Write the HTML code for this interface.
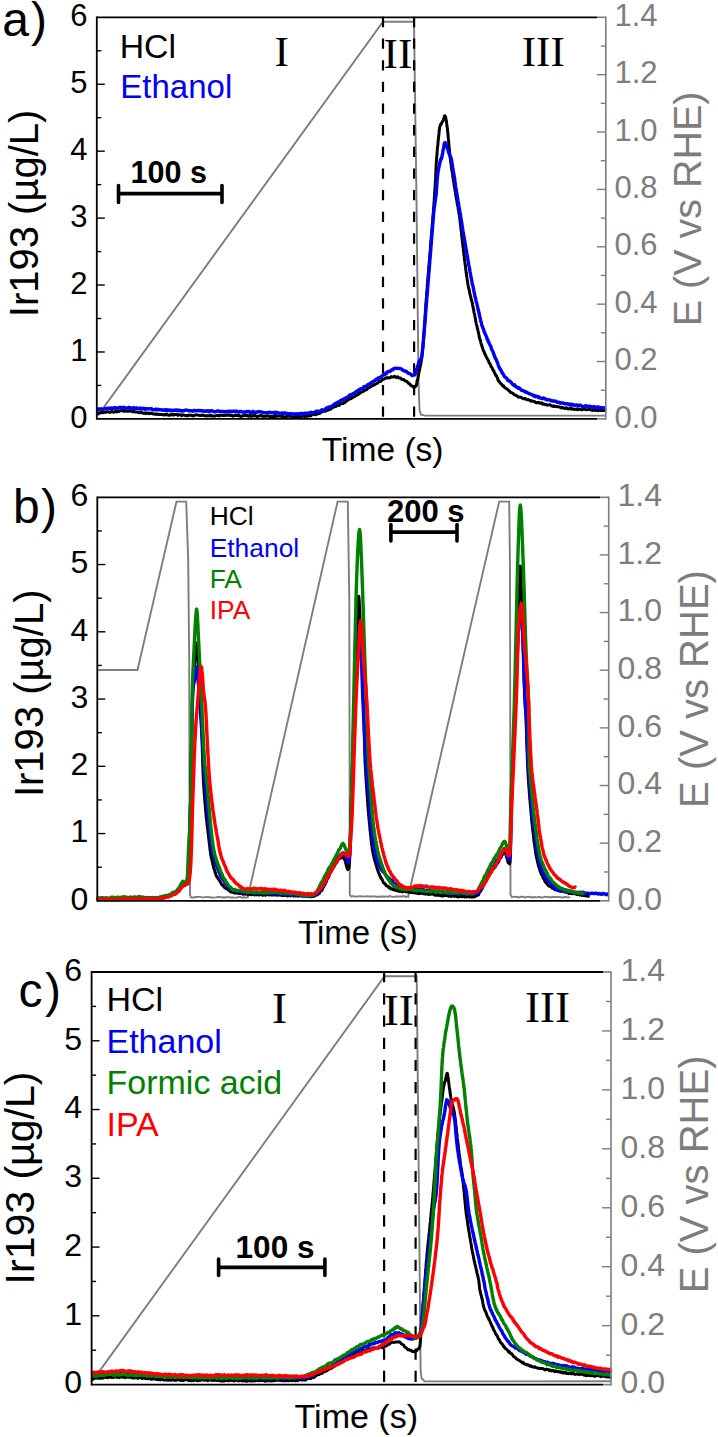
<!DOCTYPE html>
<html><head><meta charset="utf-8"><title>Ir dissolution</title>
<style>html,body{margin:0;padding:0;background:#fff;} svg{display:block;}</style>
</head><body>
<svg width="718" height="1437" viewBox="0 0 718 1437">
<rect width="718" height="1437" fill="#fff"/>
<polyline points="97.8,415.6 383.0,21.7 414.0,21.7 416.5,200.0 418.5,380.0 419.5,410.0 421.0,414.8 425.0,415.6 606.0,415.6" fill="none" stroke="#7d7d7d" stroke-width="1.9" stroke-linejoin="miter" />
<line x1="383" y1="16.85" x2="383" y2="418.9" stroke="#000" stroke-width="2.2" stroke-dasharray="10.3 11.35"/>
<line x1="414.1" y1="16.85" x2="414.1" y2="418.9" stroke="#000" stroke-width="2.2" stroke-dasharray="10.3 11.35"/>
<polyline points="97.0,413.2 97.6,412.9 98.3,413.4 99.1,412.7 100.0,413.1 101.0,412.8 102.0,412.3 103.1,412.7 104.3,412.0 105.4,412.4 106.6,411.8 107.8,411.7 108.9,412.0 110.0,412.4 110.9,411.5 111.9,411.5 112.9,411.9 113.9,412.2 114.9,411.6 115.9,411.3 116.9,411.9 117.9,410.7 118.9,411.6 119.9,410.9 120.9,410.7 122.0,410.6 123.0,410.8 124.0,411.4 125.0,410.6 126.0,411.1 126.9,411.2 127.9,411.0 128.8,411.3 129.7,410.8 130.6,410.9 131.5,411.2 132.4,411.8 133.4,411.7 134.3,411.6 135.4,412.1 136.4,412.1 137.5,412.0 138.7,412.7 140.0,412.7 140.8,412.3 141.6,412.7 142.5,412.8 143.3,413.3 144.2,413.2 145.1,412.7 146.0,413.7 146.9,412.7 147.8,413.2 148.8,413.7 149.7,413.0 150.7,413.5 151.7,413.1 152.7,413.9 153.7,414.1 154.8,414.0 155.9,414.4 156.9,413.8 158.1,414.4 159.2,414.3 160.4,414.4 161.6,414.3 162.8,414.8 164.0,415.0 164.8,414.5 165.7,414.8 166.5,414.1 167.3,414.9 168.2,414.9 169.0,415.3 169.9,415.2 170.7,414.5 171.6,414.7 172.5,415.1 173.3,414.3 174.2,414.9 175.1,414.6 176.0,414.5 176.9,414.5 177.9,415.4 178.8,414.6 179.8,414.8 180.7,415.0 181.7,415.6 182.7,414.7 183.7,415.1 184.7,415.3 185.8,415.7 186.8,415.6 187.9,415.7 189.0,415.0 190.2,415.2 191.3,415.2 192.5,415.8 193.7,415.9 194.9,415.0 196.1,415.0 197.4,415.1 198.7,415.2 200.0,415.5 200.8,415.6 201.6,415.2 202.5,414.9 203.4,415.5 204.3,415.4 205.2,415.6 206.1,416.1 207.0,415.8 208.0,415.6 209.0,415.8 209.9,415.8 210.9,415.1 212.0,416.1 213.0,416.0 214.0,416.1 215.1,416.0 216.1,415.5 217.2,415.6 218.3,415.2 219.3,415.9 220.4,415.2 221.5,415.2 222.6,415.4 223.7,415.3 224.8,415.6 225.9,415.2 227.0,415.2 228.1,415.3 229.3,415.3 230.4,415.6 231.5,415.2 232.6,416.2 233.7,415.9 234.8,415.4 235.9,415.5 237.0,415.6 238.1,415.7 239.2,415.4 240.3,416.3 241.3,416.4 242.4,415.8 243.4,415.8 244.5,415.4 245.5,415.4 246.5,415.7 247.6,415.6 248.6,416.3 249.5,415.5 250.5,415.3 251.5,416.5 252.4,416.0 253.3,415.5 254.2,416.0 255.1,415.4 256.0,416.0 256.8,416.5 257.6,416.4 258.5,416.2 259.2,415.7 260.0,415.8 261.5,415.6 262.9,416.4 264.3,416.1 265.6,416.4 266.9,415.9 268.1,415.8 269.3,416.5 270.4,416.8 271.5,416.6 272.6,416.6 273.6,416.6 274.6,416.6 275.6,416.0 276.6,416.3 277.5,416.2 278.4,415.8 279.3,415.8 280.2,416.1 281.0,416.1 281.9,416.7 282.7,417.0 283.5,416.4 284.3,417.0 285.1,417.1 285.9,417.0 286.7,416.3 287.5,416.2 288.4,416.2 289.2,416.1 290.0,416.1 291.2,416.6 292.4,417.0 293.6,416.9 294.7,416.4 295.8,416.6 296.9,416.8 297.9,415.9 298.9,416.6 299.9,416.9 300.9,416.7 301.8,416.6 302.8,416.2 303.7,415.8 304.6,416.5 305.5,415.9 306.4,416.3 307.3,416.4 308.2,415.6 309.1,415.5 310.0,416.0 311.1,415.6 312.2,414.7 313.3,414.4 314.3,414.1 315.4,414.8 316.4,414.3 317.4,413.2 318.4,413.7 319.4,413.5 320.3,412.8 321.3,412.1 322.2,412.0 323.2,411.1 324.1,410.6 325.1,411.4 326.0,410.7 327.0,410.2 328.0,410.3 329.0,409.3 330.0,409.4 331.0,408.9 332.0,407.8 332.9,407.4 333.9,407.1 334.8,406.6 335.7,406.6 336.6,405.8 337.5,405.6 338.4,404.8 339.2,405.4 340.0,404.3 341.0,403.9 342.0,403.6 342.9,403.5 343.7,402.5 344.6,402.7 345.4,401.7 346.2,401.3 347.0,400.8 347.8,399.7 348.7,399.7 349.7,398.8 350.5,398.1 351.3,398.6 352.2,397.4 353.1,397.2 353.9,397.0 354.8,396.3 355.7,395.5 356.7,395.2 357.6,394.7 358.5,394.4 359.4,393.1 360.3,393.1 361.1,392.2 362.0,391.7 362.9,391.8 363.8,390.9 364.7,390.4 365.6,390.1 366.5,389.7 367.4,388.6 368.3,388.2 369.2,387.6 370.1,387.0 370.9,386.7 371.8,385.9 372.6,385.5 373.4,385.0 374.4,384.9 375.5,384.0 376.5,383.7 377.5,383.2 378.4,381.8 379.4,381.7 380.3,381.6 381.2,381.0 382.0,379.8 382.8,379.3 384.0,379.2 385.1,378.3 386.1,378.1 387.1,377.5 388.0,378.0 389.0,377.8 390.2,377.7 391.3,376.6 392.5,377.1 393.6,376.9 394.7,376.3 395.8,377.2 396.8,377.5 397.8,376.8 398.8,378.1 400.0,377.9 400.8,378.3 401.6,379.4 402.5,379.6 403.4,379.3 404.3,380.2 405.2,380.9 406.1,381.2 407.0,381.6 407.9,382.4 408.8,383.7 409.7,383.7 410.6,385.2 411.4,385.8 412.2,386.0 413.0,386.8 413.6,387.4 414.6,387.3 415.3,386.2 415.9,386.2 416.5,384.3 416.7,383.9 416.9,382.1 417.1,381.4 417.3,380.2 417.5,380.1 417.8,378.5 418.0,377.2 418.2,376.5 418.4,375.9 418.6,374.7 418.8,372.8 419.0,371.6 419.2,371.6 419.4,370.4 419.6,369.7 419.8,368.1 419.9,367.2 420.1,367.2 420.3,366.0 420.5,364.7 420.7,364.8 420.9,363.4 421.1,362.5 421.3,360.5 421.5,360.2 421.7,357.9 421.9,357.4 422.0,356.2 422.1,355.2 422.2,354.7 422.3,354.2 422.4,352.6 422.5,351.5 422.5,351.0 422.6,349.7 422.7,348.5 422.8,347.6 422.9,346.4 423.0,345.6 423.1,344.7 423.2,343.6 423.3,343.1 423.4,341.4 423.5,340.6 423.5,339.1 423.6,338.2 423.7,336.8 423.8,336.0 423.9,334.6 424.0,334.4 424.0,333.1 424.1,331.6 424.2,330.9 424.3,330.5 424.4,328.5 424.4,328.3 424.5,326.9 424.6,326.0 424.6,325.4 424.7,323.9 424.8,323.2 424.8,322.5 424.9,322.0 424.9,320.5 425.0,320.3 425.0,319.3 425.1,318.5 425.1,317.4 425.1,316.5 425.2,315.4 425.2,314.6 425.3,313.7 425.3,313.6 425.4,312.1 425.4,311.1 425.5,310.0 425.5,309.8 425.6,308.7 425.7,307.3 425.8,305.6 425.9,304.2 426.0,302.9 426.1,301.6 426.2,299.6 426.3,299.2 426.3,298.2 426.4,298.3 426.4,297.5 426.5,296.1 426.6,294.9 426.6,294.9 426.7,293.2 426.8,292.4 426.8,291.0 426.9,290.5 427.0,289.7 427.1,288.7 427.2,287.3 427.2,286.7 427.3,285.1 427.4,284.3 427.5,283.0 427.6,282.4 427.7,280.8 427.8,279.7 427.8,279.0 427.9,277.8 428.0,277.1 428.1,275.9 428.2,275.0 428.3,273.8 428.4,272.7 428.5,271.8 428.6,270.1 428.7,268.9 428.8,268.5 428.8,266.4 428.9,265.9 429.0,264.7 429.1,262.8 429.2,262.7 429.3,261.6 429.4,260.2 429.5,259.2 429.6,258.2 429.7,256.3 429.8,255.7 429.8,254.6 429.9,253.9 430.0,252.8 430.1,251.8 430.2,250.5 430.3,249.9 430.4,248.6 430.4,247.6 430.5,246.1 430.6,244.9 430.7,244.1 430.7,243.5 430.8,242.3 430.9,242.3 430.9,241.2 431.0,240.4 431.1,239.7 431.1,239.0 431.2,238.0 431.3,235.8 431.4,235.3 431.6,233.9 431.7,232.2 431.8,231.0 431.9,230.0 432.0,228.1 432.1,227.9 432.1,226.3 432.2,225.1 432.3,224.4 432.4,224.0 432.5,222.5 432.5,222.3 432.6,221.7 432.7,220.3 432.7,219.4 432.8,218.7 432.9,218.2 432.9,217.5 433.0,216.5 433.1,215.7 433.1,214.2 433.2,213.4 433.3,212.6 433.4,212.3 433.4,210.8 433.5,210.1 433.6,208.4 433.6,207.5 433.7,206.8 433.8,206.2 433.9,205.2 433.9,204.2 434.0,202.7 434.1,201.9 434.2,200.8 434.2,199.7 434.3,198.3 434.4,198.1 434.4,196.2 434.5,196.1 434.6,195.0 434.7,192.9 434.7,192.4 434.8,191.8 434.9,190.9 434.9,189.3 435.0,188.1 435.0,187.0 435.1,186.9 435.2,185.0 435.2,184.5 435.3,183.1 435.3,182.6 435.4,182.3 435.4,180.4 435.5,180.4 435.6,178.8 435.6,178.1 435.7,176.8 435.7,175.2 435.8,175.0 435.8,173.6 435.9,172.1 435.9,171.2 435.9,170.9 435.9,169.9 436.0,168.9 436.0,167.8 436.1,167.1 436.1,166.2 436.1,165.9 436.2,163.9 436.3,163.7 436.3,162.8 436.4,160.8 436.5,160.5 436.6,159.4 436.6,158.7 436.7,157.1 436.8,156.2 436.9,155.2 437.0,154.9 437.1,153.3 437.1,151.9 437.2,150.9 437.3,149.6 437.4,148.2 437.5,147.1 437.6,146.9 437.8,145.1 437.9,144.7 438.0,142.7 438.1,141.6 438.2,140.8 438.3,139.3 438.4,138.5 438.5,138.2 438.6,137.1 438.7,136.0 438.8,134.9 438.9,134.3 439.0,133.5 439.1,132.2 439.1,131.7 439.2,130.2 439.3,130.4 439.6,127.6 439.9,126.6 440.2,125.7 440.5,124.8 440.7,124.2 441.0,124.7 441.7,122.6 442.3,122.1 443.0,120.8 443.4,119.7 443.7,118.8 444.1,117.8 444.4,115.9 444.8,116.1 445.1,115.9 445.4,116.9 445.7,117.7 446.0,118.6 446.2,120.0 446.5,121.6 446.6,123.2 446.7,123.5 446.8,123.9 446.9,125.6 447.0,126.5 447.1,126.8 447.3,127.4 447.4,128.4 447.5,129.4 447.6,130.8 447.7,131.8 447.9,133.3 448.0,134.7 448.1,135.9 448.2,137.0 448.2,137.7 448.3,138.1 448.4,139.0 448.5,140.0 448.6,140.7 448.6,141.6 448.7,142.2 448.8,143.5 448.9,145.3 449.0,145.3 449.1,146.7 449.2,147.9 449.3,149.3 449.4,149.5 449.5,150.7 449.6,151.7 449.7,153.0 449.8,154.2 449.9,155.9 450.1,157.0 450.2,158.1 450.4,158.3 450.5,159.4 450.6,161.1 450.7,162.3 450.9,162.7 451.0,163.8 451.1,164.1 451.3,165.6 451.4,167.2 451.6,168.1 451.7,169.2 451.9,170.4 452.0,170.6 452.2,171.5 452.3,172.6 452.5,174.1 452.7,175.4 452.8,176.8 453.0,177.6 453.2,178.6 453.3,179.8 453.5,180.5 453.7,181.7 453.8,182.2 454.0,184.1 454.1,184.5 454.3,186.3 454.5,187.0 454.6,187.6 454.8,188.4 454.9,189.5 455.1,190.9 455.2,191.9 455.4,192.1 455.5,192.9 455.7,194.6 455.9,195.9 456.1,196.7 456.3,197.6 456.4,199.1 456.6,199.4 456.8,200.7 457.0,201.8 457.1,203.3 457.3,203.9 457.5,205.1 457.7,205.5 457.8,206.1 458.0,207.0 458.2,208.8 458.3,209.4 458.5,209.9 458.7,210.6 458.8,212.2 459.0,213.5 459.2,214.3 459.3,215.2 459.5,216.9 459.6,218.1 459.7,218.1 459.9,218.8 460.0,220.1 460.1,221.1 460.2,222.4 460.3,222.7 460.4,224.4 460.6,225.3 460.7,226.1 460.8,226.7 460.9,228.6 461.0,228.9 461.1,230.5 461.3,230.8 461.4,231.9 461.5,233.6 461.6,234.0 461.7,235.9 461.8,236.4 461.9,237.1 462.1,238.2 462.2,239.5 462.3,240.8 462.4,242.2 462.5,242.3 462.7,243.7 462.8,244.5 462.9,246.5 463.0,246.5 463.2,247.4 463.3,248.5 463.4,249.9 463.5,251.5 463.7,252.5 463.8,253.4 463.9,254.7 464.0,255.7 464.2,256.0 464.3,256.9 464.4,258.9 464.5,259.7 464.7,259.9 464.8,261.7 464.9,262.5 465.1,263.5 465.2,264.5 465.3,265.4 465.5,266.3 465.6,267.6 465.7,268.8 465.9,270.6 466.0,270.6 466.1,272.6 466.3,272.7 466.4,273.9 466.5,275.5 466.7,276.5 466.8,277.0 467.0,277.5 467.1,278.9 467.2,279.7 467.4,281.3 467.5,281.3 467.7,282.4 467.8,283.9 468.0,284.1 468.2,285.7 468.5,287.4 468.7,288.5 468.9,288.7 469.1,289.7 469.4,290.8 469.6,292.8 469.8,293.0 470.1,294.6 470.3,295.7 470.5,296.0 470.8,296.9 471.0,298.6 471.2,299.1 471.5,299.6 471.7,301.1 471.9,301.6 472.1,302.5 472.4,303.1 472.6,305.0 472.8,306.2 473.0,306.9 473.2,308.3 473.4,308.2 473.6,309.4 473.8,310.7 474.0,312.3 474.2,313.3 474.4,313.7 474.6,314.5 474.8,315.8 475.0,316.8 475.2,318.4 475.4,318.5 475.6,320.3 475.8,321.2 476.0,322.3 476.2,323.3 476.4,324.1 476.6,324.8 476.8,325.8 477.1,326.8 477.3,328.3 477.5,328.5 477.8,329.6 478.0,331.2 478.2,331.6 478.4,332.3 478.6,333.3 478.9,334.9 479.1,335.5 479.3,337.3 479.6,338.2 479.8,339.3 480.1,339.4 480.3,340.1 480.6,341.1 480.8,342.5 481.1,343.8 481.4,344.4 481.7,345.1 482.0,346.3 482.3,347.5 482.7,348.6 483.0,349.6 483.4,350.7 483.8,351.4 484.2,351.7 484.6,353.6 485.0,353.9 485.5,355.2 486.0,356.0 486.4,357.4 486.9,357.8 487.4,358.9 487.9,359.9 488.5,360.7 489.0,362.6 489.5,363.2 490.0,363.9 490.5,364.9 491.0,366.6 491.5,366.9 492.0,367.5 492.5,369.1 493.0,369.7 493.4,370.9 493.8,370.7 494.2,371.9 494.6,373.0 495.3,374.3 495.9,375.6 496.4,375.6 496.8,376.9 497.2,377.5 497.6,378.4 498.0,380.2 498.5,380.5 499.0,381.7 499.5,381.8 500.2,383.2 501.0,383.6 501.6,384.1 502.2,385.3 502.9,386.2 503.6,385.9 504.4,387.2 505.1,387.9 505.9,388.1 506.8,389.0 507.6,389.4 508.4,390.2 509.3,390.9 510.2,392.0 511.0,392.7 511.9,392.8 512.8,393.1 513.6,394.1 514.5,395.0 515.3,394.9 516.2,395.6 517.2,395.9 518.1,397.1 519.1,397.2 520.0,396.9 521.0,397.3 521.9,398.0 522.9,398.5 523.8,398.9 524.8,398.5 525.8,398.9 526.7,399.8 527.7,399.7 528.7,399.8 529.6,400.1 530.6,401.1 531.6,400.7 532.6,401.3 533.7,401.3 534.7,401.7 535.7,402.5 536.8,402.9 537.8,402.4 538.8,402.5 539.8,403.3 540.9,403.0 541.9,403.0 542.9,404.3 544.0,403.9 545.0,404.7 546.0,404.4 547.0,405.2 548.0,404.9 549.1,404.8 550.1,404.8 551.1,405.7 552.1,406.0 553.1,406.5 554.2,405.8 555.2,406.6 556.2,406.5 557.2,406.8 558.2,406.6 559.3,406.9 560.3,407.4 561.3,408.0 562.3,407.2 563.2,407.8 564.1,408.3 565.0,408.6 565.9,407.8 566.7,407.8 567.6,408.9 568.5,409.0 569.5,408.5 570.5,408.1 571.5,409.2 572.6,408.7 573.9,409.4 575.2,409.1 576.6,409.5 577.4,408.7 578.3,409.6 579.2,408.9 580.2,409.2 581.2,409.8 582.3,409.8 583.4,409.1 584.5,409.2 585.7,409.5 586.8,409.7 588.0,409.6 589.2,409.4 590.4,409.6 591.7,410.2 592.9,410.5 594.0,409.5 595.2,410.2 596.4,410.5 597.5,409.6 598.6,410.7 599.6,409.8 600.6,410.5 601.6,410.4 602.5,410.6 603.3,410.2 604.1,410.4 604.8,410.6 605.5,410.5 606.0,410.8" fill="none" stroke="#000" stroke-width="3.0" stroke-linejoin="round" />
<polyline points="97.0,409.3 97.6,409.3 98.3,408.7 99.1,409.4 100.0,409.2 101.0,408.8 102.0,409.4 103.1,409.3 104.3,408.8 105.4,408.4 106.6,408.7 107.8,408.2 108.9,408.1 110.0,408.4 110.9,407.9 111.9,408.3 112.9,408.3 113.9,407.7 114.9,408.3 115.9,407.6 116.9,408.3 117.9,408.2 118.9,407.8 119.9,407.2 120.9,407.7 122.0,407.5 123.0,408.2 124.0,407.2 125.0,408.0 126.0,408.2 126.9,407.9 127.9,408.0 128.8,407.3 129.7,408.3 130.6,407.8 131.5,408.4 132.4,408.4 133.4,407.6 134.3,408.4 135.4,408.7 136.4,407.7 137.5,408.2 138.7,408.7 140.0,408.1 140.8,409.0 141.6,408.3 142.5,409.0 143.3,408.3 144.2,408.8 145.1,409.3 146.0,408.5 146.9,408.7 147.8,409.0 148.8,408.8 149.7,408.6 150.7,408.8 151.7,408.8 152.7,409.8 153.7,409.6 154.8,409.9 155.9,409.1 156.9,409.9 158.1,409.2 159.2,409.7 160.4,409.9 161.6,409.6 162.8,410.3 164.0,410.0 164.8,410.0 165.7,410.4 166.5,409.5 167.3,410.6 168.2,410.2 169.0,410.0 169.9,410.5 170.7,409.9 171.6,410.8 172.5,410.3 173.3,410.1 174.2,410.6 175.1,410.2 176.0,410.0 176.9,410.7 177.9,409.9 178.8,410.8 179.8,410.2 180.7,410.7 181.7,411.1 182.7,410.7 183.7,410.8 184.7,410.4 185.8,410.0 186.8,410.1 187.9,410.3 189.0,410.9 190.2,410.7 191.3,410.8 192.5,411.3 193.7,410.4 194.9,410.5 196.1,411.1 197.4,410.4 198.7,410.4 200.0,410.8 200.8,410.5 201.6,410.9 202.5,410.7 203.4,411.2 204.3,411.2 205.2,410.8 206.1,411.3 207.1,411.1 208.1,410.7 209.1,411.7 210.1,410.9 211.1,410.8 212.1,410.8 213.2,411.4 214.2,411.7 215.3,411.7 216.4,411.2 217.5,411.1 218.6,410.8 219.7,411.6 220.8,411.5 221.9,411.3 223.1,411.6 224.2,411.4 225.3,412.0 226.5,411.8 227.6,411.3 228.7,412.1 229.9,411.1 231.0,411.7 232.1,411.5 233.3,411.3 234.4,411.2 235.5,412.0 236.6,411.1 237.7,411.8 238.8,412.3 239.9,411.4 241.0,411.4 242.1,412.0 243.1,411.9 244.2,412.0 245.2,412.3 246.2,411.5 247.2,411.7 248.2,411.7 249.2,411.4 250.2,412.5 251.1,412.3 252.0,412.3 252.9,411.4 253.8,412.5 254.7,412.4 255.5,412.1 256.3,412.4 257.1,412.1 257.9,411.8 258.6,411.7 259.3,411.9 260.0,411.6 261.9,412.1 263.6,412.6 265.1,412.6 266.5,412.8 267.8,412.7 268.9,412.2 269.9,412.6 270.8,412.5 271.6,412.9 272.4,412.6 273.1,412.4 273.8,412.9 274.4,413.3 275.1,412.4 275.8,413.3 276.5,412.3 277.3,412.6 278.1,412.6 279.0,413.3 280.0,413.5 281.0,413.3 282.0,412.9 283.0,413.6 284.0,413.0 285.1,412.9 286.2,413.8 287.3,413.5 288.3,413.7 289.4,413.7 290.5,414.1 291.6,413.6 292.7,414.1 293.7,414.0 294.8,414.2 295.8,413.7 296.8,414.1 297.8,414.0 298.8,413.7 299.7,413.6 300.6,414.1 301.5,413.4 302.3,414.4 303.7,413.4 305.0,413.2 306.2,413.2 307.3,414.0 308.4,413.2 309.4,412.8 310.3,412.5 311.2,412.3 312.2,412.9 313.1,412.6 314.0,412.5 315.0,412.3 316.1,411.2 317.1,411.6 318.1,411.1 319.1,411.4 320.1,411.1 321.0,410.9 322.0,409.7 323.0,410.3 324.0,410.0 325.0,409.6 326.0,408.2 326.9,408.0 327.8,407.4 328.7,406.9 329.6,407.4 330.6,406.9 331.5,406.2 332.4,406.0 333.4,405.2 334.3,404.3 335.2,403.6 336.2,403.0 337.1,403.3 338.0,402.1 338.9,401.8 339.8,401.4 340.7,400.4 341.6,400.1 342.5,399.6 343.4,399.6 344.3,398.7 345.2,398.1 346.1,398.3 347.0,397.2 347.9,397.1 348.8,396.3 349.7,395.0 350.6,395.0 351.4,394.5 352.3,394.4 353.2,393.4 354.1,393.3 355.0,392.6 355.9,391.7 356.8,392.0 357.6,390.6 358.5,390.9 359.4,389.6 360.3,388.9 361.1,388.7 362.0,388.8 362.9,388.5 363.8,386.8 364.7,386.8 365.6,386.3 366.5,386.1 367.4,384.8 368.3,384.6 369.2,383.9 370.1,383.9 370.9,382.7 371.8,383.0 372.6,381.6 373.4,381.1 374.3,381.1 375.3,380.2 376.2,379.2 377.1,379.3 377.9,378.1 378.8,378.4 379.6,377.7 380.4,377.3 381.3,376.6 382.0,375.8 382.8,375.4 383.8,374.7 384.8,374.7 385.7,373.1 386.6,373.5 387.4,371.9 388.3,371.6 389.1,371.2 390.0,371.5 391.0,370.4 392.0,369.7 393.0,369.8 393.9,368.5 394.9,368.3 395.9,368.1 397.0,368.3 397.9,368.4 398.9,368.5 399.9,368.4 400.9,368.8 401.9,369.1 402.9,370.4 404.0,370.7 405.0,371.3 406.0,371.1 407.0,372.0 408.0,373.1 409.1,373.5 410.1,373.7 411.1,374.6 412.1,375.6 412.9,375.1 413.6,375.1 414.4,375.0 415.0,374.7 415.4,373.9 415.8,372.0 416.1,370.8 416.5,369.7 416.8,368.9 417.1,368.2 417.4,366.7 417.8,365.9 418.1,364.7 418.4,364.6 418.7,363.2 419.0,361.5 419.4,361.7 419.8,360.1 420.2,359.9 420.7,360.0 421.1,358.9 421.5,357.4 421.9,354.9 422.0,354.0 422.1,353.8 422.2,352.4 422.3,351.7 422.4,351.1 422.5,349.8 422.6,349.3 422.7,348.9 422.8,347.8 422.9,346.5 423.0,345.6 423.1,344.4 423.2,342.9 423.2,342.4 423.3,341.0 423.4,340.3 423.5,339.4 423.6,337.7 423.7,336.8 423.8,335.8 423.9,334.3 424.0,333.0 424.1,332.5 424.2,331.6 424.2,330.4 424.3,329.3 424.4,328.4 424.5,327.2 424.6,326.2 424.7,325.0 424.7,323.9 424.8,323.4 424.9,321.9 425.0,321.5 425.0,321.1 425.1,320.3 425.2,319.4 425.2,318.1 425.3,317.6 425.4,316.8 425.4,316.2 425.5,315.1 425.6,314.6 425.6,314.0 425.7,312.1 425.8,311.7 425.9,310.9 425.9,309.3 426.0,308.3 426.1,307.7 426.2,305.3 426.3,304.6 426.4,302.7 426.6,301.9 426.7,300.5 426.8,299.3 426.8,298.0 426.9,297.8 426.9,297.0 427.0,296.4 427.1,295.3 427.2,294.5 427.2,293.9 427.3,292.6 427.4,291.5 427.5,291.2 427.5,289.3 427.6,288.9 427.7,287.6 427.8,287.0 427.9,285.2 427.9,285.2 428.0,283.4 428.1,281.9 428.2,281.1 428.3,280.2 428.4,278.6 428.5,278.0 428.6,276.9 428.6,276.1 428.7,274.6 428.8,273.3 428.9,272.1 429.0,271.6 429.1,270.7 429.2,269.1 429.3,267.6 429.4,267.1 429.5,265.5 429.6,264.2 429.7,262.9 429.7,262.6 429.8,261.5 429.9,260.2 430.0,258.9 430.1,257.9 430.2,256.4 430.3,256.2 430.4,254.4 430.4,253.7 430.5,252.8 430.6,251.8 430.7,250.4 430.8,249.1 430.9,248.4 430.9,247.0 431.0,246.9 431.1,245.3 431.2,245.0 431.2,243.4 431.3,242.7 431.4,241.7 431.4,241.0 431.5,239.9 431.6,238.9 431.6,239.0 431.7,237.7 431.8,236.1 431.9,234.7 432.1,233.5 432.2,232.0 432.3,231.0 432.4,229.7 432.5,228.2 432.6,227.7 432.6,226.5 432.7,224.5 432.8,224.4 432.9,223.5 433.0,222.4 433.0,220.7 433.1,220.7 433.2,219.6 433.2,218.0 433.3,217.2 433.4,217.5 433.4,216.4 433.5,215.1 433.6,214.2 433.6,213.4 433.7,212.8 433.8,212.7 433.8,211.4 433.9,210.4 434.0,210.5 434.1,209.0 434.3,207.0 434.4,206.7 434.6,205.2 434.7,204.4 434.9,203.2 435.0,202.5 435.2,201.4 435.3,200.6 435.4,198.9 435.6,198.5 435.7,197.4 435.8,196.7 436.0,195.4 436.1,194.9 436.2,193.5 436.3,192.1 436.4,191.1 436.5,190.0 436.5,189.4 436.6,187.8 436.7,187.3 436.8,185.8 436.8,185.2 436.9,184.1 437.0,183.1 437.0,182.5 437.1,180.4 437.2,180.4 437.2,179.0 437.3,178.1 437.4,177.3 437.5,176.6 437.6,175.1 437.8,174.0 437.9,173.5 438.1,171.2 438.3,170.7 438.5,169.6 438.7,167.8 438.9,167.4 439.1,166.5 439.3,165.8 439.5,164.2 439.7,164.1 439.8,162.8 440.0,162.0 440.4,161.0 440.8,159.0 441.1,159.2 441.5,158.3 441.8,156.8 442.0,156.6 442.2,155.0 442.4,154.1 442.6,153.1 442.8,152.3 443.0,150.5 443.2,149.8 443.3,148.8 443.5,148.1 443.8,146.9 444.0,144.9 444.3,144.3 444.5,142.9 444.8,142.6 445.3,142.7 445.9,144.4 446.5,146.6 446.8,147.0 447.1,147.9 447.4,148.3 447.7,149.2 448.1,150.3 448.5,151.9 448.8,152.7 449.0,153.6 449.3,153.3 449.6,154.8 450.0,155.8 450.3,156.2 450.6,156.7 451.0,158.3 451.4,159.5 451.8,161.6 451.9,163.2 452.1,163.6 452.2,164.4 452.4,165.4 452.5,166.4 452.7,167.0 452.8,168.0 453.0,168.9 453.2,170.0 453.3,171.0 453.5,172.1 453.7,172.6 453.8,174.3 454.0,175.1 454.2,176.6 454.3,177.0 454.5,178.2 454.7,179.2 454.9,181.2 455.0,182.5 455.2,183.3 455.4,184.1 455.5,185.7 455.7,186.8 455.9,187.6 456.0,188.3 456.2,189.4 456.4,190.5 456.5,191.3 456.7,192.4 456.8,193.6 457.0,195.1 457.2,195.2 457.4,196.8 457.5,197.3 457.7,198.4 457.9,200.2 458.0,200.9 458.2,202.2 458.3,202.6 458.5,203.0 458.6,204.3 458.8,205.5 459.0,206.8 459.1,207.8 459.3,208.1 459.4,209.0 459.6,209.6 459.8,211.3 459.9,211.8 460.1,212.8 460.3,213.8 460.5,214.9 460.7,216.9 460.8,217.1 461.0,219.0 461.1,218.9 461.3,220.7 461.4,220.8 461.6,221.6 461.8,223.4 461.9,223.8 462.1,225.3 462.2,225.7 462.4,226.5 462.6,228.4 462.7,229.3 462.9,230.5 463.1,231.4 463.2,231.7 463.4,233.4 463.6,234.5 463.7,235.3 463.9,236.9 464.1,237.2 464.3,239.1 464.4,239.8 464.6,240.1 464.8,241.1 465.0,242.9 465.1,244.2 465.3,244.3 465.5,245.7 465.7,247.2 465.8,247.6 466.0,249.4 466.2,250.0 466.4,250.5 466.6,251.9 466.7,253.2 466.9,254.0 467.1,255.4 467.3,255.8 467.5,257.6 467.7,258.2 467.9,259.6 468.0,260.6 468.2,261.4 468.4,262.5 468.6,264.0 468.8,265.3 469.0,266.1 469.2,266.9 469.4,267.7 469.6,268.4 469.8,270.6 469.9,271.3 470.1,272.5 470.3,272.9 470.5,274.2 470.7,275.7 470.9,276.5 471.1,277.2 471.2,277.8 471.4,278.9 471.6,280.3 471.8,280.6 472.0,281.9 472.1,282.7 472.3,283.9 472.5,285.0 472.8,285.6 473.0,286.4 473.3,287.8 473.5,289.1 473.7,290.4 474.0,291.7 474.2,292.8 474.4,292.8 474.6,294.7 474.8,295.6 475.0,296.6 475.3,297.2 475.5,297.8 475.7,299.4 475.9,300.3 476.1,301.1 476.4,302.3 476.6,302.6 476.8,303.2 477.1,304.8 477.3,306.1 477.5,306.4 477.8,308.0 478.0,309.3 478.2,309.4 478.5,310.9 478.7,312.0 478.9,312.8 479.1,313.5 479.4,314.5 479.6,316.1 479.8,317.2 480.1,317.8 480.3,318.4 480.6,320.3 480.8,321.2 481.1,321.6 481.4,323.0 481.6,324.4 481.9,325.4 482.2,326.0 482.6,327.0 482.9,328.1 483.2,328.6 483.6,329.5 483.9,330.4 484.2,332.0 484.6,332.5 485.0,333.7 485.4,334.4 485.8,335.5 486.2,336.0 486.6,336.8 487.0,338.9 487.4,339.1 487.8,339.7 488.2,341.2 488.6,342.4 489.0,342.5 489.5,344.0 489.9,344.6 490.3,345.7 490.7,346.1 491.1,347.0 491.5,349.1 491.9,349.8 492.3,350.3 492.7,351.3 493.1,351.9 493.5,353.5 493.9,354.1 494.3,355.7 494.7,356.5 495.1,357.5 495.4,358.7 495.8,358.8 496.2,359.5 496.6,360.7 497.0,361.6 497.4,362.5 497.8,363.4 498.2,364.9 498.6,366.2 499.0,366.6 499.4,368.0 499.8,368.9 500.2,368.7 500.6,370.1 501.1,370.6 501.5,371.0 502.1,373.1 502.7,373.2 503.3,374.4 503.9,375.4 504.5,376.6 505.1,377.0 505.8,377.4 506.4,378.2 507.0,378.5 507.7,380.2 508.4,380.9 509.1,380.6 509.9,381.1 510.7,382.0 511.5,382.8 512.4,384.2 513.1,384.7 513.9,385.2 514.6,384.8 515.5,386.3 516.3,386.8 517.1,387.2 518.0,388.2 518.9,387.7 519.8,388.3 520.8,389.6 521.7,390.4 522.6,390.6 523.5,390.7 524.5,391.5 525.4,392.2 526.3,391.9 527.2,392.6 528.1,393.0 528.9,393.3 529.8,394.1 530.6,394.1 531.6,394.6 532.7,394.9 533.7,396.0 534.6,395.5 535.6,396.7 536.6,396.3 537.5,396.4 538.5,397.7 539.4,397.1 540.4,398.2 541.3,398.4 542.2,398.6 543.2,397.9 544.1,398.5 545.0,398.4 546.0,399.6 547.0,399.8 548.0,399.8 549.1,399.9 550.1,400.0 551.1,400.9 552.1,400.8 553.1,401.2 554.2,400.9 555.2,401.3 556.2,401.3 557.2,402.4 558.2,402.4 559.3,402.1 560.3,403.2 561.3,402.7 562.3,403.1 563.2,403.0 564.1,403.3 565.0,404.1 565.9,403.6 566.7,403.6 567.6,404.1 568.5,404.0 569.5,404.8 570.5,404.0 571.5,405.2 572.6,404.2 573.9,405.3 575.2,405.2 576.6,404.9 577.4,405.3 578.3,405.1 579.2,405.2 580.2,405.2 581.2,405.6 582.3,406.4 583.4,406.6 584.5,406.6 585.7,405.7 586.8,406.1 588.0,406.9 589.2,406.0 590.4,407.0 591.7,406.6 592.9,407.5 594.0,406.5 595.2,407.6 596.4,407.1 597.5,407.0 598.6,406.9 599.6,408.0 600.6,407.8 601.6,407.5 602.5,407.9 603.3,408.5 604.1,407.8 604.8,408.3 605.5,407.8 606.0,407.9" fill="none" stroke="#0000f0" stroke-width="3.4" stroke-linejoin="round" />
<line x1="96.8" y1="17.3" x2="597" y2="17.3" stroke="#000" stroke-width="1.8"/>
<line x1="96.8" y1="418.9" x2="597" y2="418.9" stroke="#000" stroke-width="1.8"/>
<line x1="597" y1="17.3" x2="605.8" y2="17.3" stroke="#7d7d7d" stroke-width="1.6"/>
<line x1="597" y1="418.9" x2="605.8" y2="418.9" stroke="#7d7d7d" stroke-width="1.6"/>
<line x1="605.8" y1="16.5" x2="605.8" y2="419.7" stroke="#7d7d7d" stroke-width="1.6"/>
<line x1="96.8" y1="16.400000000000002" x2="96.8" y2="419.79999999999995" stroke="#000" stroke-width="1.8"/>
<line x1="96.8" y1="385.43" x2="101.3" y2="385.43" stroke="#000" stroke-width="1.4"/>
<line x1="96.8" y1="351.97" x2="104.8" y2="351.97" stroke="#000" stroke-width="1.4"/>
<line x1="96.8" y1="318.50" x2="101.3" y2="318.50" stroke="#000" stroke-width="1.4"/>
<line x1="96.8" y1="285.03" x2="104.8" y2="285.03" stroke="#000" stroke-width="1.4"/>
<line x1="96.8" y1="251.57" x2="101.3" y2="251.57" stroke="#000" stroke-width="1.4"/>
<line x1="96.8" y1="218.10" x2="104.8" y2="218.10" stroke="#000" stroke-width="1.4"/>
<line x1="96.8" y1="184.63" x2="101.3" y2="184.63" stroke="#000" stroke-width="1.4"/>
<line x1="96.8" y1="151.17" x2="104.8" y2="151.17" stroke="#000" stroke-width="1.4"/>
<line x1="96.8" y1="117.70" x2="101.3" y2="117.70" stroke="#000" stroke-width="1.4"/>
<line x1="96.8" y1="84.23" x2="104.8" y2="84.23" stroke="#000" stroke-width="1.4"/>
<line x1="96.8" y1="50.77" x2="101.3" y2="50.77" stroke="#000" stroke-width="1.4"/>
<text x="87.5" y="427.5" font-family="'Liberation Sans', sans-serif" font-size="31" text-anchor="end">0</text>
<text x="87.5" y="360.6" font-family="'Liberation Sans', sans-serif" font-size="31" text-anchor="end">1</text>
<text x="87.5" y="293.6" font-family="'Liberation Sans', sans-serif" font-size="31" text-anchor="end">2</text>
<text x="87.5" y="226.7" font-family="'Liberation Sans', sans-serif" font-size="31" text-anchor="end">3</text>
<text x="87.5" y="159.8" font-family="'Liberation Sans', sans-serif" font-size="31" text-anchor="end">4</text>
<text x="87.5" y="92.8" font-family="'Liberation Sans', sans-serif" font-size="31" text-anchor="end">5</text>
<text x="87.5" y="25.9" font-family="'Liberation Sans', sans-serif" font-size="31" text-anchor="end">6</text>
<line x1="600.8" y1="390.21" x2="605.8" y2="390.21" stroke="#7d7d7d" stroke-width="1.4"/>
<line x1="596.8" y1="361.53" x2="605.8" y2="361.53" stroke="#7d7d7d" stroke-width="1.4"/>
<line x1="600.8" y1="332.84" x2="605.8" y2="332.84" stroke="#7d7d7d" stroke-width="1.4"/>
<line x1="596.8" y1="304.16" x2="605.8" y2="304.16" stroke="#7d7d7d" stroke-width="1.4"/>
<line x1="600.8" y1="275.47" x2="605.8" y2="275.47" stroke="#7d7d7d" stroke-width="1.4"/>
<line x1="596.8" y1="246.79" x2="605.8" y2="246.79" stroke="#7d7d7d" stroke-width="1.4"/>
<line x1="600.8" y1="218.10" x2="605.8" y2="218.10" stroke="#7d7d7d" stroke-width="1.4"/>
<line x1="596.8" y1="189.41" x2="605.8" y2="189.41" stroke="#7d7d7d" stroke-width="1.4"/>
<line x1="600.8" y1="160.73" x2="605.8" y2="160.73" stroke="#7d7d7d" stroke-width="1.4"/>
<line x1="596.8" y1="132.04" x2="605.8" y2="132.04" stroke="#7d7d7d" stroke-width="1.4"/>
<line x1="600.8" y1="103.36" x2="605.8" y2="103.36" stroke="#7d7d7d" stroke-width="1.4"/>
<line x1="596.8" y1="74.67" x2="605.8" y2="74.67" stroke="#7d7d7d" stroke-width="1.4"/>
<line x1="600.8" y1="45.99" x2="605.8" y2="45.99" stroke="#7d7d7d" stroke-width="1.4"/>
<text x="614.5" y="427.5" font-family="'Liberation Sans', sans-serif" font-size="31" fill="#7d7d7d">0.0</text>
<text x="614.5" y="370.1" font-family="'Liberation Sans', sans-serif" font-size="31" fill="#7d7d7d">0.2</text>
<text x="614.5" y="312.8" font-family="'Liberation Sans', sans-serif" font-size="31" fill="#7d7d7d">0.4</text>
<text x="614.5" y="255.4" font-family="'Liberation Sans', sans-serif" font-size="31" fill="#7d7d7d">0.6</text>
<text x="614.5" y="198.0" font-family="'Liberation Sans', sans-serif" font-size="31" fill="#7d7d7d">0.8</text>
<text x="614.5" y="140.6" font-family="'Liberation Sans', sans-serif" font-size="31" fill="#7d7d7d">1.0</text>
<text x="614.5" y="83.3" font-family="'Liberation Sans', sans-serif" font-size="31" fill="#7d7d7d">1.2</text>
<text x="614.5" y="25.9" font-family="'Liberation Sans', sans-serif" font-size="31" fill="#7d7d7d">1.4</text>
<text x="2.2" y="36.3" font-family="'Liberation Sans', sans-serif" font-size="48" letter-spacing="2">a)</text>
<text transform="translate(38.4,317.2) rotate(-90)" font-family="'Liberation Sans', sans-serif" font-size="40" fill="#000">Ir193 (µg/L)</text>
<text transform="translate(700.5,326.3) rotate(-90)" font-family="'Liberation Sans', sans-serif" font-size="39.5" fill="#7d7d7d">E (V vs RHE)</text>
<text x="321.7" y="461" font-family="'Liberation Sans', sans-serif" font-size="33.6">Time (s)</text>
<text x="119.7" y="57.5" font-family="'Liberation Sans', sans-serif" font-size="33.8">HCl</text>
<text x="120.3" y="97.5" font-family="'Liberation Sans', sans-serif" font-size="33" fill="#0000f0">Ethanol</text>
<text x="274.6" y="66" font-family="'Liberation Serif', serif" font-size="43">I</text>
<text x="383.6" y="67.6" font-family="'Liberation Serif', serif" font-size="43">II</text>
<text x="521.8" y="66" font-family="'Liberation Serif', serif" font-size="43">III</text>
<line x1="118.5" y1="193.6" x2="222" y2="193.6" stroke="#000" stroke-width="3.6"/>
<line x1="118.5" y1="185.5" x2="118.5" y2="202.5" stroke="#000" stroke-width="3.6" stroke-linecap="round"/>
<line x1="222" y1="185.5" x2="222" y2="202.5" stroke="#000" stroke-width="3.6" stroke-linecap="round"/>
<text x="130.6" y="183" font-family="'Liberation Sans', sans-serif" font-size="30.5" font-weight="bold">100 s</text>
<polyline points="97.3,670.0 137.5,670.0 176.5,501.6 186.2,501.6 188.2,560.0 189.2,660.0 189.5,800.0 190.0,895.0 191.0,897.3 192.0,897.5 194.0,897.5 196.0,897.0 198.0,896.9 200.0,896.9 202.0,897.4 204.0,897.3 206.0,897.1 208.0,897.0 210.0,897.4 212.0,897.5 214.0,897.6 216.0,897.4 218.0,897.0 220.0,896.9 222.0,897.5 224.0,897.2 226.0,897.5 228.0,896.9 230.0,897.6 232.0,897.2 234.0,897.6 236.0,897.6 238.0,897.3 240.0,896.9 242.0,897.7 244.0,897.3 246.0,897.6 247.7,897.3 337.6,501.6 347.8,501.6 349.3,600.0 349.8,895.0 351.0,896.5 352.0,896.3 354.0,896.2 356.0,896.8 358.0,896.4 360.0,896.2 362.0,896.4 364.0,896.6 366.0,896.1 368.0,896.5 370.0,896.5 372.0,896.5 374.0,896.2 376.0,896.7 378.0,896.8 380.0,896.8 382.0,896.3 384.0,896.7 386.0,896.4 388.0,896.7 390.0,896.1 392.0,896.8 394.0,896.9 396.0,896.5 398.0,896.5 400.0,896.5 402.0,896.5 404.0,896.1 406.0,896.9 408.0,896.3 408.2,896.5 499.2,501.6 509.2,501.6 510.0,568.0 510.5,895.0 512.0,897.2 513.0,896.9 515.0,896.8 517.0,897.0 519.0,897.5 521.0,896.8 523.0,896.8 525.0,897.4 527.0,896.9 529.0,896.8 531.0,897.3 533.0,897.3 535.0,897.2 537.0,897.4 539.0,896.8 541.0,897.5 543.0,897.4 545.0,896.8 547.0,896.9 549.0,897.2 551.0,897.2 553.0,897.0 555.0,896.9 557.0,897.1 559.0,896.9 561.0,897.3 563.0,897.5 565.0,896.9 567.0,897.3 569.0,897.4 570.2,897.2" fill="none" stroke="#7d7d7d" stroke-width="1.9" stroke-linejoin="miter" />
<polyline points="97.3,898.6 97.9,899.4 98.5,899.5 99.3,898.8 100.1,898.9 101.0,899.3 102.0,899.0 103.0,898.8 104.1,899.4 105.3,899.2 106.4,898.7 107.6,898.5 108.8,898.6 110.0,898.7 111.2,899.3 112.4,899.1 113.6,899.2 114.8,899.1 115.9,899.1 117.0,898.1 118.1,898.6 119.1,899.1 120.0,899.0 121.2,898.1 122.4,898.3 123.6,898.4 124.7,898.0 125.8,898.1 126.9,897.4 128.0,897.7 129.0,897.7 130.0,897.0 131.0,897.1 132.0,898.0 133.0,897.6 134.0,897.8 134.9,897.3 135.9,897.5 136.8,897.6 137.9,897.6 139.1,896.6 140.2,897.3 141.3,897.0 142.4,897.5 143.4,897.1 144.5,897.6 145.5,898.1 146.5,897.9 147.4,897.5 148.3,897.9 149.2,897.9 150.0,898.5 151.4,897.8 152.6,897.9 153.7,898.3 154.7,897.7 155.7,898.2 156.7,898.6 157.7,898.0 158.8,897.6 159.8,897.7 160.9,897.5 161.9,896.8 163.0,896.6 164.0,896.3 165.0,896.3 166.1,896.1 167.3,895.7 168.4,895.3 169.4,894.8 170.5,895.0 171.6,894.9 172.5,894.2 173.5,893.7 174.4,893.4 175.4,892.3 176.3,892.4 177.2,891.5 178.0,891.1 178.9,890.4 179.7,889.3 180.5,888.2 181.2,887.3 182.0,886.4 182.7,886.0 183.6,885.5 184.5,885.7 185.4,885.0 186.2,884.7 186.9,883.4 187.0,882.1 187.1,881.9 187.3,881.2 187.4,880.4 187.5,880.6 187.6,879.1 187.7,879.0 187.7,877.5 187.8,876.7 187.9,876.8 188.0,875.4 188.0,874.1 188.1,873.5 188.2,872.5 188.2,871.8 188.3,869.9 188.4,868.8 188.4,868.4 188.5,866.7 188.6,864.6 188.6,863.2 188.7,861.6 188.8,860.2 188.8,859.4 188.9,859.0 188.9,858.3 188.9,857.2 188.9,856.7 189.0,856.0 189.0,855.2 189.0,854.1 189.1,853.7 189.1,852.9 189.1,852.3 189.1,850.6 189.2,850.6 189.2,848.8 189.2,848.9 189.3,847.8 189.3,846.8 189.3,846.5 189.3,845.2 189.4,844.1 189.4,843.7 189.4,842.9 189.5,841.6 189.5,840.4 189.5,839.6 189.5,838.7 189.6,838.0 189.6,836.5 189.6,835.7 189.6,834.9 189.7,833.7 189.7,832.6 189.7,832.1 189.8,831.2 189.8,829.7 189.8,828.6 189.8,827.2 189.9,826.3 189.9,825.0 189.9,824.4 189.9,823.3 190.0,821.6 190.0,821.5 190.0,819.6 190.1,819.1 190.1,817.9 190.1,816.9 190.1,814.8 190.2,813.9 190.2,813.2 190.2,810.9 190.3,809.7 190.3,809.1 190.3,807.8 190.3,807.0 190.4,805.6 190.4,804.0 190.4,803.2 190.5,801.3 190.5,800.0 190.5,799.4 190.5,798.2 190.6,797.4 190.6,796.8 190.6,795.6 190.6,795.5 190.6,794.3 190.6,793.2 190.7,791.8 190.7,791.2 190.7,790.2 190.7,789.5 190.7,788.5 190.8,787.9 190.8,787.1 190.8,785.5 190.8,784.4 190.8,783.6 190.9,783.1 190.9,781.3 190.9,780.4 190.9,779.7 190.9,777.9 191.0,777.0 191.0,776.7 191.0,775.5 191.0,774.0 191.0,772.5 191.1,772.3 191.1,771.0 191.1,770.0 191.1,769.1 191.1,767.9 191.2,766.2 191.2,764.8 191.2,763.8 191.2,762.9 191.2,761.8 191.3,760.3 191.3,759.1 191.3,758.5 191.3,757.4 191.3,755.9 191.4,755.6 191.4,754.0 191.4,752.1 191.4,751.4 191.4,750.7 191.5,749.0 191.5,748.4 191.5,746.4 191.5,745.6 191.5,745.1 191.6,743.7 191.6,742.7 191.6,741.0 191.6,740.2 191.6,739.2 191.7,737.7 191.7,737.1 191.7,735.8 191.7,735.3 191.7,733.7 191.8,732.4 191.8,731.0 191.8,729.9 191.8,729.6 191.8,727.7 191.9,726.7 191.9,725.7 191.9,725.1 191.9,724.4 192.0,723.2 192.0,722.4 192.0,720.5 192.0,719.4 192.0,719.4 192.1,717.9 192.1,717.4 192.1,716.0 192.1,714.8 192.1,714.0 192.2,712.9 192.2,713.0 192.2,711.7 192.2,710.5 192.2,709.8 192.3,708.9 192.3,707.6 192.3,707.8 192.3,706.6 192.3,706.3 192.4,704.9 192.4,704.4 192.4,703.2 192.4,702.2 192.4,702.5 192.5,701.8 192.5,700.4 192.5,700.5 192.6,698.3 192.6,695.7 192.7,694.3 192.8,693.0 192.8,690.9 192.9,690.0 193.0,687.8 193.0,686.8 193.1,686.0 193.2,684.4 193.2,683.5 193.3,683.3 193.4,681.9 193.4,681.5 193.5,680.1 193.6,679.3 193.6,678.9 193.7,678.0 193.8,678.3 193.8,676.9 193.9,676.6 194.0,675.5 194.0,675.4 194.1,674.5 194.2,673.9 194.2,672.8 194.3,672.1 194.4,672.1 194.4,670.7 194.5,669.7 194.6,668.5 194.7,667.4 194.7,666.2 194.8,664.7 194.9,664.1 195.0,662.4 195.1,660.9 195.1,660.2 195.2,658.1 195.3,657.0 195.4,656.4 195.5,654.2 195.6,653.4 195.6,652.6 195.7,651.4 195.8,649.5 195.9,648.7 196.0,648.1 196.0,646.8 196.1,646.6 196.2,645.0 196.3,645.3 196.4,644.2 196.4,643.4 196.5,643.4 196.6,642.9 196.7,643.5 196.8,643.1 196.9,644.2 197.0,644.3 197.1,644.7 197.1,645.3 197.2,646.6 197.3,647.1 197.4,649.0 197.5,649.2 197.6,650.9 197.7,652.3 197.8,653.3 197.9,655.3 197.9,656.3 198.0,658.1 198.1,659.4 198.2,660.6 198.3,662.1 198.4,663.1 198.5,664.6 198.6,666.2 198.6,666.4 198.7,667.7 198.7,667.9 198.8,669.3 198.9,670.0 198.9,671.1 199.0,671.8 199.1,672.4 199.1,673.7 199.2,674.5 199.3,675.4 199.3,677.1 199.4,677.5 199.5,678.7 199.5,680.3 199.6,681.2 199.7,682.3 199.7,683.3 199.8,683.5 199.9,684.7 199.9,685.5 200.0,687.3 200.1,688.4 200.1,689.1 200.2,690.2 200.3,691.6 200.3,692.7 200.4,693.2 200.4,695.0 200.5,695.5 200.5,696.9 200.6,697.5 200.6,698.5 200.7,700.5 200.7,701.2 200.8,702.1 200.8,702.3 200.9,703.2 200.9,704.4 200.9,705.4 201.0,706.5 201.0,707.5 201.1,708.1 201.1,709.4 201.1,710.8 201.2,711.2 201.2,713.0 201.2,713.7 201.2,714.9 201.3,715.3 201.3,716.6 201.3,717.9 201.4,718.5 201.4,719.1 201.4,721.1 201.5,722.1 201.5,722.5 201.5,723.2 201.5,725.2 201.6,725.9 201.6,726.3 201.6,727.5 201.7,728.4 201.7,730.2 201.7,730.6 201.7,732.4 201.8,733.2 201.8,733.5 201.8,735.2 201.9,735.8 201.9,737.3 201.9,738.4 202.0,738.7 202.0,739.5 202.0,741.5 202.1,741.9 202.1,743.5 202.1,744.3 202.2,745.3 202.2,746.5 202.2,747.2 202.3,748.0 202.3,748.6 202.3,750.4 202.3,751.1 202.4,752.2 202.4,753.7 202.4,753.8 202.5,755.6 202.5,755.8 202.5,757.6 202.6,758.7 202.6,759.1 202.6,760.5 202.7,762.0 202.7,762.6 202.7,763.5 202.8,764.2 202.8,765.0 202.8,766.3 202.9,767.4 202.9,768.1 202.9,769.2 203.0,770.0 203.0,771.7 203.0,772.6 203.1,773.1 203.1,774.0 203.2,775.3 203.2,776.2 203.3,777.7 203.3,778.0 203.4,778.8 203.4,780.5 203.5,780.7 203.5,782.3 203.6,783.1 203.6,784.8 203.7,785.6 203.8,786.9 203.9,787.3 203.9,788.9 204.0,789.9 204.1,790.8 204.1,792.2 204.2,793.4 204.3,793.6 204.4,794.8 204.4,795.9 204.5,796.8 204.6,797.6 204.7,798.9 204.8,799.8 204.8,801.4 204.9,802.1 205.0,802.7 205.1,803.9 205.2,805.0 205.2,805.9 205.3,806.6 205.4,807.4 205.5,808.3 205.6,810.4 205.7,811.0 205.7,811.1 205.8,812.8 205.9,814.0 206.0,814.6 206.1,815.2 206.2,816.8 206.4,817.9 206.5,818.7 206.6,820.2 206.7,820.7 206.8,822.8 206.9,823.6 207.1,824.6 207.2,826.0 207.3,826.7 207.4,827.2 207.6,828.2 207.7,829.0 207.8,829.9 207.9,831.7 208.0,832.7 208.2,833.0 208.3,833.8 208.4,835.2 208.5,836.3 208.6,837.3 208.7,837.3 208.8,838.8 208.9,840.2 209.1,841.3 209.2,841.9 209.3,842.9 209.4,844.7 209.6,845.2 209.7,846.2 209.8,847.4 209.9,848.2 210.0,849.7 210.1,850.0 210.3,850.7 210.4,852.3 210.5,853.3 210.7,854.6 210.9,855.4 211.1,856.7 211.3,857.7 211.5,858.2 211.7,859.3 212.0,860.0 212.2,861.2 212.4,862.6 212.7,863.0 212.9,864.8 213.2,865.2 213.5,866.6 213.7,868.2 214.0,868.0 214.2,868.9 214.5,870.2 214.8,870.8 215.0,872.2 215.4,872.6 215.9,874.7 216.3,875.7 216.7,876.6 217.2,876.9 217.6,877.6 218.1,878.8 218.6,879.4 219.2,880.2 219.8,881.0 220.3,882.0 221.0,883.1 221.6,884.2 222.2,885.2 222.9,885.2 223.6,886.2 224.4,887.2 225.1,888.0 225.9,888.4 226.8,888.9 227.6,889.3 228.5,890.1 229.5,890.7 230.4,891.7 231.4,892.0 232.5,892.3 233.7,892.7 235.0,893.1 235.8,892.8 236.7,893.2 237.7,892.5 238.7,893.4 239.7,893.5 240.8,893.3 241.9,893.7 243.0,894.3 244.1,893.9 245.2,894.2 246.2,893.9 247.2,894.1 248.2,894.8 249.1,893.9 250.0,894.1 251.2,894.8 252.2,894.6 253.2,894.2 254.1,894.9 255.0,894.6 255.9,894.9 256.8,894.7 257.8,894.8 258.8,894.9 260.0,894.7 260.9,894.4 261.7,894.4 262.7,895.3 263.6,894.9 264.6,894.4 265.6,895.3 266.6,894.6 267.6,894.4 268.6,894.9 269.7,894.6 270.7,894.9 271.8,895.0 272.9,894.6 273.9,895.1 275.0,894.5 276.0,895.0 277.0,895.2 278.0,894.6 279.0,895.0 280.0,894.6 281.0,895.1 282.0,895.6 283.0,895.3 284.1,895.5 285.1,895.6 286.2,894.9 287.3,895.9 288.4,895.7 289.5,895.0 290.6,895.9 291.8,895.4 292.8,895.1 293.8,896.1 294.8,895.7 295.9,896.0 297.0,895.3 298.2,896.2 299.3,895.4 300.5,895.7 301.6,895.9 302.8,895.6 303.9,896.3 305.1,895.9 306.2,896.1 307.2,896.6 308.3,896.3 309.3,896.8 310.2,896.5 311.1,896.7 311.9,896.3 312.7,896.6 314.2,896.3 315.4,895.1 316.5,895.3 317.4,894.4 318.2,894.3 318.9,893.6 319.6,893.0 320.2,891.4 321.0,890.8 321.6,890.6 322.1,890.1 322.6,889.0 323.1,887.3 323.6,887.1 324.1,885.5 324.6,885.1 325.0,884.4 325.5,882.6 326.0,882.5 326.5,881.2 327.0,879.7 327.5,878.7 327.9,878.1 328.4,877.6 328.9,876.3 329.4,874.8 329.8,873.6 330.3,872.7 330.8,872.6 331.3,870.8 331.8,870.3 332.3,869.1 332.7,868.6 333.2,867.4 333.6,866.4 334.3,866.1 334.9,864.6 335.5,863.8 336.2,863.0 336.8,862.3 337.3,860.4 337.9,860.0 338.5,859.1 339.0,859.0 340.1,858.5 341.2,857.8 342.1,856.7 343.0,857.0 343.6,858.3 344.1,858.9 344.6,859.6 345.1,860.8 345.5,861.6 345.8,863.4 346.1,864.1 346.4,866.0 346.7,867.0 346.9,867.4 347.2,868.5 347.5,868.7 347.8,869.6 348.1,869.4 348.4,868.8 348.7,868.5 349.0,867.5 349.2,865.4 349.5,862.1 349.5,861.3 349.6,860.7 349.6,859.6 349.6,859.7 349.7,858.8 349.7,857.7 349.7,857.6 349.7,857.5 349.8,855.7 349.8,855.1 349.8,855.0 349.8,853.7 349.9,853.0 349.9,852.4 349.9,851.3 349.9,850.9 350.0,850.0 350.0,849.7 350.0,848.8 350.0,846.8 350.1,846.5 350.1,845.8 350.1,845.0 350.1,843.9 350.2,842.8 350.2,841.8 350.2,840.5 350.2,839.3 350.3,838.9 350.3,838.0 350.3,837.0 350.3,835.6 350.4,834.0 350.4,833.4 350.4,832.3 350.4,830.8 350.5,829.8 350.5,828.3 350.5,827.3 350.6,825.9 350.6,824.2 350.6,823.3 350.7,822.0 350.7,821.5 350.7,819.6 350.8,818.2 350.8,816.7 350.8,815.3 350.9,814.0 350.9,812.4 351.0,810.8 351.0,810.4 351.0,809.2 351.0,808.4 351.1,807.7 351.1,806.6 351.1,805.6 351.1,804.6 351.2,804.1 351.2,803.2 351.2,802.9 351.2,801.8 351.3,801.4 351.3,799.8 351.3,799.6 351.4,798.2 351.4,796.7 351.4,795.9 351.4,795.4 351.5,795.0 351.5,793.3 351.5,792.8 351.6,791.4 351.6,791.0 351.6,789.0 351.6,788.5 351.7,788.0 351.7,786.3 351.7,785.2 351.8,783.9 351.8,783.1 351.8,782.2 351.9,781.6 351.9,780.0 351.9,779.2 352.0,777.9 352.0,777.3 352.0,776.6 352.1,775.3 352.1,773.7 352.1,773.2 352.2,772.4 352.2,770.9 352.2,769.2 352.3,769.0 352.3,768.0 352.3,766.3 352.4,764.9 352.4,763.9 352.4,763.2 352.5,762.5 352.5,761.2 352.5,760.4 352.6,758.5 352.6,757.5 352.6,756.9 352.7,755.7 352.7,754.3 352.7,753.6 352.8,752.0 352.8,750.6 352.8,750.0 352.9,748.4 352.9,748.0 352.9,746.6 353.0,745.7 353.0,744.7 353.0,743.3 353.1,742.4 353.1,740.8 353.1,740.8 353.2,739.3 353.2,738.8 353.2,736.6 353.3,736.2 353.3,735.3 353.3,733.8 353.4,732.5 353.4,731.5 353.4,730.5 353.5,730.2 353.5,728.4 353.5,728.2 353.5,726.8 353.6,725.9 353.6,725.0 353.6,723.9 353.7,723.1 353.7,722.0 353.7,720.8 353.8,720.3 353.8,718.8 353.8,718.4 353.9,717.5 353.9,716.6 353.9,715.1 353.9,714.8 354.0,714.2 354.0,712.6 354.0,711.3 354.1,710.4 354.1,709.7 354.2,707.6 354.2,706.3 354.2,705.7 354.3,704.7 354.3,703.7 354.3,702.1 354.4,701.7 354.4,699.6 354.5,699.1 354.5,697.2 354.5,696.0 354.6,695.0 354.6,693.8 354.6,693.2 354.7,692.2 354.7,690.6 354.7,690.4 354.8,688.6 354.8,687.3 354.8,686.2 354.9,685.8 354.9,685.0 355.0,683.0 355.0,681.8 355.0,681.6 355.1,679.9 355.1,679.8 355.1,678.1 355.2,677.3 355.2,675.9 355.2,675.4 355.3,673.9 355.3,672.8 355.3,672.4 355.4,670.5 355.4,670.2 355.4,668.4 355.5,668.1 355.5,666.8 355.5,666.4 355.6,664.5 355.6,664.1 355.6,663.0 355.7,662.6 355.7,661.7 355.7,660.3 355.8,658.9 355.8,658.0 355.8,657.1 355.9,656.4 355.9,655.2 355.9,654.3 356.0,654.0 356.0,653.0 356.0,651.7 356.1,651.6 356.1,649.8 356.1,649.3 356.2,648.0 356.2,647.9 356.2,647.1 356.3,645.5 356.3,645.3 356.3,644.5 356.4,643.0 356.4,642.2 356.4,641.6 356.5,641.3 356.5,639.6 356.6,638.9 356.6,637.4 356.7,635.9 356.7,634.6 356.8,633.6 356.8,631.4 356.9,630.9 356.9,628.9 357.0,628.0 357.0,626.8 357.1,624.6 357.1,624.1 357.2,622.9 357.2,620.7 357.3,619.1 357.3,617.9 357.4,617.7 357.4,615.3 357.5,615.2 357.5,613.1 357.6,612.6 357.6,610.7 357.7,609.6 357.7,609.2 357.8,607.4 357.8,606.7 357.9,606.4 357.9,605.2 357.9,604.5 358.0,603.8 358.0,601.8 358.1,601.3 358.1,601.3 358.2,600.5 358.2,599.1 358.3,599.1 358.3,598.2 358.4,598.0 358.4,597.2 358.5,596.8 358.5,597.7 358.6,596.6 358.6,597.2 358.7,596.2 358.7,596.6 358.8,596.3 358.8,597.0 358.9,597.0 359.0,598.1 359.0,598.0 359.1,599.4 359.1,599.8 359.2,600.2 359.2,601.3 359.3,602.5 359.4,604.0 359.4,604.4 359.5,605.4 359.5,607.5 359.6,608.6 359.6,609.7 359.7,610.5 359.8,611.7 359.8,613.2 359.9,614.3 359.9,615.7 360.0,617.7 360.0,619.0 360.1,620.5 360.2,621.7 360.2,622.7 360.3,624.9 360.3,626.2 360.4,627.5 360.4,628.8 360.5,630.2 360.5,631.4 360.6,632.1 360.6,632.8 360.7,633.3 360.7,634.2 360.7,635.2 360.8,636.8 360.8,637.0 360.9,638.0 360.9,639.0 360.9,639.6 361.0,641.7 361.0,641.5 361.1,643.2 361.1,644.6 361.2,644.8 361.2,646.3 361.2,647.0 361.3,647.9 361.3,648.9 361.4,649.9 361.4,651.8 361.4,652.8 361.5,654.0 361.5,654.0 361.6,655.9 361.6,656.5 361.6,658.0 361.7,658.9 361.7,659.7 361.8,661.5 361.8,661.4 361.9,663.4 361.9,664.6 361.9,665.2 362.0,666.4 362.0,667.9 362.1,668.0 362.1,669.5 362.1,670.7 362.2,671.2 362.2,672.6 362.2,673.2 362.3,674.4 362.3,675.5 362.4,676.5 362.4,677.0 362.4,678.3 362.5,679.1 362.5,679.7 362.5,681.3 362.6,681.9 362.6,683.8 362.7,684.4 362.7,685.7 362.8,686.6 362.8,687.6 362.8,688.3 362.9,689.2 362.9,691.2 363.0,691.8 363.0,692.8 363.0,693.8 363.1,695.1 363.1,695.4 363.2,696.3 363.2,698.1 363.2,698.6 363.3,699.8 363.3,701.0 363.3,702.1 363.4,703.0 363.4,703.0 363.5,704.3 363.5,705.8 363.5,706.8 363.6,706.9 363.6,707.9 363.6,709.0 363.7,709.8 363.7,711.0 363.7,712.5 363.8,713.2 363.8,714.0 363.8,714.6 363.9,715.9 363.9,717.6 363.9,718.2 364.0,718.9 364.0,720.0 364.0,721.4 364.1,722.3 364.1,722.6 364.1,724.2 364.1,724.8 364.2,726.0 364.2,726.7 364.2,727.8 364.2,728.8 364.2,729.9 364.3,730.4 364.3,731.6 364.3,733.1 364.3,733.5 364.3,734.6 364.4,736.3 364.4,736.7 364.4,737.8 364.4,738.7 364.4,740.4 364.5,740.5 364.5,742.2 364.5,743.4 364.5,743.6 364.5,744.9 364.6,746.4 364.6,747.1 364.6,747.8 364.6,748.5 364.7,749.9 364.7,750.8 364.7,752.3 364.7,752.8 364.8,753.9 364.8,755.2 364.8,756.4 364.9,756.8 364.9,757.9 365.0,759.1 365.0,760.5 365.0,760.6 365.1,762.6 365.1,763.3 365.2,763.9 365.2,765.3 365.3,765.9 365.4,766.7 365.4,768.5 365.5,769.1 365.5,770.4 365.6,771.4 365.7,773.0 365.7,773.8 365.8,774.0 365.8,775.8 365.9,776.7 366.0,777.7 366.0,779.2 366.1,779.8 366.2,780.9 366.2,782.5 366.3,782.9 366.4,784.0 366.5,785.1 366.5,786.5 366.6,787.3 366.7,788.4 366.7,789.0 366.8,789.5 366.9,791.3 366.9,792.1 367.0,793.3 367.1,794.2 367.1,794.4 367.2,795.4 367.3,796.1 367.3,797.9 367.4,797.9 367.4,798.7 367.5,800.3 367.6,801.4 367.7,802.0 367.8,803.9 367.8,805.1 367.9,805.9 368.0,806.5 368.1,808.3 368.2,809.0 368.3,810.2 368.3,811.7 368.4,812.4 368.5,813.4 368.6,813.5 368.6,814.6 368.7,815.7 368.8,816.0 368.9,818.1 369.0,818.1 369.0,819.0 369.1,820.0 369.2,820.9 369.3,822.5 369.4,823.1 369.5,824.0 369.6,824.9 369.7,825.5 369.8,826.8 369.9,828.5 370.0,829.5 370.1,830.6 370.2,830.9 370.3,831.9 370.4,832.8 370.5,834.4 370.6,835.3 370.8,836.4 370.9,837.5 371.0,838.7 371.1,839.5 371.2,841.0 371.3,841.3 371.4,843.2 371.6,843.7 371.7,844.1 371.8,845.4 372.0,846.6 372.1,847.4 372.2,848.5 372.4,849.0 372.5,849.8 372.7,851.7 372.9,852.2 373.2,853.9 373.4,855.1 373.6,855.9 373.9,856.7 374.1,858.3 374.3,858.7 374.6,860.2 374.8,860.1 375.1,861.5 375.4,862.6 375.6,862.8 375.9,864.6 376.2,864.6 376.4,866.1 376.7,866.4 377.1,868.4 377.4,869.1 377.7,870.4 378.1,871.1 378.5,872.3 378.8,873.3 379.2,873.9 379.6,874.7 380.0,876.4 380.4,876.4 380.8,878.2 381.2,878.2 381.7,878.9 382.3,879.8 382.9,881.6 383.5,882.7 384.1,882.8 384.8,883.9 385.4,884.2 386.1,885.7 386.8,886.1 387.6,886.1 388.4,886.6 389.2,887.9 390.0,887.6 390.8,889.0 391.7,888.7 392.5,889.0 393.4,889.7 394.3,889.6 395.3,890.2 396.3,889.9 397.4,891.0 398.7,890.6 400.0,891.4 400.8,890.7 401.6,891.6 402.4,891.9 403.3,891.4 404.1,891.0 405.0,891.5 406.0,892.0 406.9,891.6 407.9,892.0 408.9,891.6 409.9,892.1 410.9,892.5 412.0,892.3 413.1,892.7 414.2,892.1 415.3,893.0 416.4,892.3 417.6,893.4 418.8,893.6 420.0,893.6 420.9,893.2 421.7,893.0 422.6,893.2 423.6,893.8 424.5,893.6 425.5,894.2 426.4,893.3 427.4,893.9 428.4,894.5 429.5,894.3 430.5,894.3 431.5,893.9 432.6,894.0 433.6,894.3 434.7,895.2 435.7,895.2 436.8,894.6 437.8,895.5 438.9,894.6 439.9,895.4 441.0,895.9 442.0,895.3 443.0,896.1 444.0,895.8 445.0,895.2 446.0,895.6 447.0,895.8 448.0,895.6 448.9,896.3 450.0,895.7 451.1,896.5 452.2,896.0 453.3,895.8 454.5,896.4 455.6,895.9 456.7,896.5 457.9,896.9 459.0,896.7 460.1,896.6 461.2,896.1 462.3,896.7 463.4,896.2 464.5,896.9 465.5,896.3 466.5,896.9 467.5,896.6 468.5,896.6 469.4,897.0 470.3,896.4 471.1,896.3 471.9,897.2 472.6,896.4 473.4,897.0 474.0,896.9 475.9,896.1 477.2,895.3 478.0,894.6 478.5,894.9 479.0,893.2 479.4,892.9 480.0,892.0 480.6,890.8 481.1,890.5 481.5,889.3 482.0,888.8 482.4,887.9 482.9,886.8 483.4,885.6 483.9,884.9 484.4,883.6 484.9,882.7 485.3,882.0 485.8,881.9 486.3,880.5 486.8,880.1 487.3,878.1 487.8,878.3 488.3,876.8 488.9,876.2 489.4,875.0 490.0,874.2 490.5,872.8 491.1,872.7 491.6,871.1 492.2,870.5 492.8,869.4 493.4,869.0 494.0,868.3 494.6,867.2 495.2,867.1 495.8,865.3 496.4,865.0 497.0,863.7 497.6,863.2 498.2,862.5 498.8,861.3 499.4,859.4 500.0,858.5 500.6,857.8 501.3,857.2 501.9,855.1 502.4,854.8 503.0,854.1 503.5,853.5 503.9,852.4 504.3,852.6 505.1,852.0 505.6,853.4 505.9,853.6 506.2,856.2 506.5,856.9 506.8,857.9 507.2,858.7 507.5,860.1 507.9,861.8 508.2,862.6 508.5,862.3 508.9,863.1 509.3,863.7 509.6,863.9 510.0,862.2 510.3,857.8 510.3,858.0 510.3,857.5 510.4,856.6 510.4,855.6 510.4,855.0 510.4,854.7 510.5,854.1 510.5,853.2 510.5,852.3 510.5,851.1 510.5,850.8 510.6,850.3 510.6,849.4 510.6,847.7 510.6,847.6 510.6,846.3 510.6,845.2 510.7,845.2 510.7,843.9 510.7,843.1 510.7,841.4 510.7,841.3 510.7,840.4 510.7,839.4 510.8,838.2 510.8,837.3 510.8,836.2 510.8,834.9 510.8,833.6 510.8,833.0 510.9,831.9 510.9,830.9 510.9,829.1 510.9,828.8 510.9,827.2 510.9,826.5 511.0,824.4 511.0,824.3 511.0,822.9 511.0,821.1 511.0,820.6 511.1,818.7 511.1,817.5 511.1,816.7 511.1,815.2 511.1,814.3 511.2,813.6 511.2,812.2 511.2,811.0 511.2,809.4 511.3,808.7 511.3,807.5 511.3,806.2 511.4,805.3 511.4,804.0 511.4,802.3 511.5,800.7 511.5,800.2 511.5,799.5 511.6,798.1 511.6,797.5 511.6,796.9 511.6,795.9 511.7,794.1 511.7,793.8 511.7,792.3 511.8,791.5 511.8,791.4 511.8,789.9 511.9,789.2 511.9,788.1 511.9,787.0 512.0,785.9 512.0,785.1 512.0,784.7 512.1,783.4 512.1,782.1 512.1,780.8 512.2,780.0 512.2,779.6 512.2,778.2 512.3,777.5 512.3,776.7 512.4,774.8 512.4,774.5 512.4,772.7 512.5,772.6 512.5,770.8 512.6,769.9 512.6,769.7 512.6,767.9 512.7,766.7 512.7,766.5 512.8,765.1 512.8,764.4 512.8,762.7 512.9,761.8 512.9,761.3 513.0,759.7 513.0,759.2 513.0,757.2 513.1,756.9 513.1,755.1 513.2,754.5 513.2,752.8 513.2,751.9 513.3,751.8 513.3,750.2 513.4,749.6 513.4,747.8 513.5,746.9 513.5,745.6 513.5,745.1 513.6,744.4 513.6,742.9 513.7,741.7 513.7,741.4 513.7,740.3 513.8,739.0 513.8,737.2 513.9,736.9 513.9,735.6 513.9,735.2 514.0,733.5 514.0,732.9 514.1,731.8 514.1,730.5 514.1,729.7 514.2,728.9 514.2,728.2 514.2,726.7 514.3,725.6 514.3,725.3 514.4,723.3 514.4,723.2 514.4,722.1 514.5,721.0 514.5,719.9 514.5,719.2 514.6,718.3 514.6,717.1 514.7,716.1 514.7,714.2 514.7,713.5 514.8,712.2 514.8,712.2 514.8,711.1 514.9,709.2 514.9,708.7 515.0,707.7 515.0,706.0 515.0,705.4 515.1,704.9 515.1,703.7 515.1,702.3 515.2,701.9 515.2,700.4 515.2,699.7 515.3,698.6 515.3,698.3 515.3,696.9 515.4,696.1 515.4,695.0 515.4,693.7 515.5,693.4 515.5,692.1 515.5,691.2 515.6,689.7 515.6,688.6 515.6,688.1 515.7,687.5 515.7,686.5 515.8,685.0 515.8,683.8 515.8,683.3 515.9,682.7 515.9,680.9 515.9,680.6 516.0,679.0 516.0,678.2 516.0,676.9 516.1,676.3 516.1,675.4 516.1,675.1 516.2,674.1 516.2,672.2 516.2,671.4 516.3,671.2 516.3,669.3 516.3,668.4 516.4,667.6 516.4,666.2 516.4,665.4 516.5,664.5 516.5,663.5 516.5,663.2 516.6,661.3 516.6,660.2 516.7,660.0 516.7,658.5 516.7,657.9 516.8,656.6 516.8,655.7 516.8,654.1 516.9,652.8 516.9,652.5 517.0,651.1 517.0,650.1 517.0,649.3 517.1,648.4 517.1,646.8 517.1,645.9 517.2,645.6 517.2,644.1 517.2,642.7 517.3,642.1 517.3,640.5 517.3,640.0 517.4,638.0 517.4,637.8 517.5,636.4 517.5,634.9 517.5,634.5 517.6,632.5 517.6,631.2 517.6,629.8 517.7,629.2 517.7,628.2 517.8,626.9 517.8,625.3 517.8,624.5 517.9,622.5 517.9,621.4 517.9,620.6 518.0,619.7 518.0,618.0 518.1,616.9 518.1,615.7 518.1,614.0 518.2,613.4 518.2,611.9 518.3,610.1 518.3,608.9 518.3,608.2 518.4,606.4 518.4,604.9 518.5,604.5 518.5,602.9 518.5,601.6 518.6,600.6 518.6,599.7 518.6,597.6 518.7,596.6 518.7,595.1 518.8,594.4 518.8,593.3 518.8,592.6 518.9,591.3 518.9,590.1 519.0,588.8 519.0,587.9 519.0,586.5 519.1,586.1 519.1,585.0 519.1,584.1 519.2,582.3 519.2,582.0 519.3,581.1 519.3,579.9 519.3,579.5 519.4,578.6 519.4,577.6 519.4,576.9 519.5,575.9 519.5,575.4 519.5,573.8 519.6,573.8 519.6,573.1 519.6,572.3 519.7,571.3 519.7,570.5 519.7,570.6 519.8,570.3 519.8,569.2 519.8,568.6 519.9,568.2 519.9,567.7 519.9,568.1 520.0,568.1 520.0,567.7 520.1,566.7 520.1,566.8 520.2,565.9 520.2,566.8 520.3,566.2 520.3,566.0 520.4,567.0 520.4,566.8 520.5,567.4 520.5,567.7 520.6,568.8 520.6,569.6 520.7,570.7 520.7,570.7 520.8,572.6 520.8,572.7 520.9,573.9 520.9,575.5 521.0,576.4 521.0,577.6 521.1,579.2 521.1,580.1 521.2,582.2 521.2,582.9 521.2,585.1 521.3,586.5 521.3,587.6 521.4,588.5 521.4,591.0 521.5,591.6 521.5,593.7 521.5,595.1 521.6,596.3 521.6,598.5 521.7,600.1 521.7,601.5 521.8,602.8 521.8,604.4 521.9,605.9 521.9,606.9 522.0,609.1 522.0,610.6 522.0,611.2 522.1,612.2 522.1,612.3 522.1,613.9 522.1,613.7 522.2,615.1 522.2,615.6 522.2,616.9 522.3,618.1 522.3,619.1 522.3,619.7 522.3,620.6 522.4,621.4 522.4,622.6 522.4,623.5 522.5,624.4 522.5,626.1 522.5,626.8 522.5,627.8 522.6,628.5 522.6,630.2 522.6,630.6 522.7,631.8 522.7,633.2 522.7,634.5 522.7,635.9 522.8,636.7 522.8,638.0 522.8,639.1 522.9,639.9 522.9,641.0 522.9,641.3 522.9,642.6 523.0,643.5 523.0,645.6 523.0,646.5 523.1,647.5 523.1,648.2 523.1,649.4 523.1,650.3 523.2,651.9 523.2,653.4 523.2,653.7 523.3,654.5 523.3,655.7 523.3,657.0 523.3,658.7 523.4,659.7 523.4,660.3 523.4,660.9 523.5,662.0 523.5,663.0 523.5,664.8 523.5,665.5 523.6,667.1 523.6,668.0 523.6,668.8 523.7,669.4 523.7,670.8 523.7,670.9 523.7,671.8 523.8,673.3 523.8,674.1 523.8,674.6 523.9,675.6 523.9,676.1 523.9,678.1 523.9,678.6 524.0,679.7 524.0,680.6 524.1,681.3 524.1,683.0 524.2,683.8 524.2,685.6 524.3,686.9 524.3,687.3 524.4,688.3 524.4,689.7 524.5,691.3 524.5,692.2 524.6,692.9 524.6,694.9 524.7,695.9 524.7,696.6 524.8,697.1 524.8,699.1 524.9,699.7 525.0,700.1 525.0,701.3 525.1,702.6 525.1,703.9 525.2,704.3 525.2,705.4 525.3,705.8 525.3,706.7 525.4,708.4 525.4,708.7 525.5,709.2 525.5,710.7 525.6,711.0 525.6,711.9 525.7,713.1 525.7,714.1 525.8,715.0 525.8,715.9 525.8,716.5 525.9,716.9 525.9,718.5 526.0,718.6 526.0,720.0 526.0,721.0 526.1,722.5 526.1,723.7 526.2,724.2 526.2,725.8 526.3,726.9 526.3,727.7 526.3,728.3 526.4,730.2 526.4,730.9 526.4,731.2 526.5,732.4 526.5,734.3 526.5,734.3 526.5,735.5 526.6,736.9 526.6,737.9 526.6,738.6 526.6,739.7 526.7,739.8 526.7,740.8 526.7,742.8 526.8,743.6 526.8,743.6 526.8,744.6 526.9,745.8 526.9,747.6 526.9,747.7 527.0,749.2 527.0,750.5 527.0,751.2 527.1,752.5 527.1,752.7 527.2,753.6 527.2,754.4 527.2,756.3 527.3,756.5 527.3,758.5 527.3,759.1 527.4,759.5 527.4,761.2 527.5,761.4 527.5,762.8 527.6,763.3 527.6,765.1 527.6,766.2 527.7,767.3 527.7,767.2 527.8,769.2 527.8,769.8 527.9,771.1 527.9,771.8 528.0,772.9 528.0,773.9 528.1,775.2 528.1,775.3 528.2,776.3 528.3,778.0 528.3,778.7 528.4,779.9 528.5,780.4 528.5,782.2 528.6,782.4 528.7,784.4 528.7,785.4 528.8,786.0 528.9,786.6 529.0,788.3 529.1,788.8 529.1,790.1 529.2,790.8 529.3,792.9 529.4,793.5 529.5,794.3 529.6,795.1 529.6,796.9 529.7,798.1 529.8,799.2 529.9,799.4 530.0,800.7 530.1,801.7 530.2,803.3 530.3,803.6 530.4,805.1 530.4,806.6 530.5,807.3 530.6,807.4 530.7,808.4 530.8,809.4 530.9,811.0 530.9,811.8 531.0,812.6 531.1,813.3 531.2,814.5 531.3,816.0 531.4,817.2 531.5,818.6 531.6,819.5 531.7,820.6 531.8,821.8 531.9,822.7 532.0,823.6 532.1,823.7 532.2,825.5 532.3,826.6 532.4,827.0 532.5,828.5 532.6,828.6 532.7,830.4 532.8,830.8 532.9,832.0 533.0,832.5 533.2,833.5 533.3,834.5 533.4,835.5 533.5,836.2 533.7,837.7 533.8,839.4 533.9,840.0 534.0,841.4 534.2,842.2 534.3,843.4 534.5,844.6 534.6,845.4 534.7,845.9 534.9,846.9 535.0,848.1 535.2,848.7 535.3,850.0 535.5,851.8 535.7,852.8 535.8,853.1 536.0,854.6 536.2,855.6 536.3,856.7 536.5,857.5 536.7,858.0 536.9,858.7 537.2,860.6 537.5,861.1 537.7,862.6 538.0,863.3 538.2,864.6 538.5,866.1 538.8,866.1 539.1,867.6 539.4,868.7 539.7,869.5 540.0,870.9 540.3,871.2 540.7,872.7 541.0,873.3 541.3,874.4 541.7,874.2 542.2,875.4 542.7,876.5 543.2,878.3 543.7,878.1 544.2,879.4 544.7,880.8 545.3,882.0 545.8,881.8 546.4,882.9 547.0,884.0 547.7,884.7 548.3,885.5 549.0,886.1 549.8,886.1 550.6,886.7 551.4,887.0 552.2,888.3 553.1,888.1 554.0,888.6 554.9,889.8 555.9,889.8 556.9,890.1 557.9,890.5 558.9,890.8 560.0,891.2 560.9,891.0 561.8,891.0 562.8,891.2 563.7,891.4 564.7,892.0 565.7,892.0 566.8,892.1 567.8,892.8 568.8,893.5 569.9,893.4 570.9,893.1 572.0,893.8 573.0,893.3 574.0,893.4 575.0,893.8 576.1,894.1 577.2,894.6 578.4,894.4 579.6,895.0 580.8,894.4 582.1,895.5 583.2,894.9 584.4,895.7 585.5,894.8 586.5,895.9 587.4,895.3 588.3,896.2 589.0,896.2 589.6,896.1" fill="none" stroke="#000" stroke-width="3.0" stroke-linejoin="round" />
<polyline points="97.3,898.7 97.9,898.4 98.5,898.6 99.3,899.4 100.1,898.5 101.0,899.1 102.0,899.0 103.0,899.1 104.1,898.5 105.3,898.4 106.4,898.3 107.6,899.4 108.8,898.6 110.0,898.9 111.2,898.8 112.4,898.3 113.6,898.1 114.8,898.0 115.9,899.0 117.0,898.1 118.1,899.1 119.1,898.4 120.0,898.8 121.2,898.0 122.4,898.8 123.6,898.1 124.7,898.2 125.8,898.3 126.9,897.8 128.0,897.9 129.0,898.5 130.0,897.9 131.0,898.0 132.0,898.4 133.0,897.7 134.0,897.7 134.9,897.7 135.9,897.9 136.8,897.8 137.9,898.2 139.1,898.0 140.2,898.5 141.3,897.6 142.4,898.4 143.4,898.6 144.5,897.9 145.5,897.8 146.5,898.3 147.4,898.0 148.3,898.4 149.2,898.7 150.0,898.0 151.4,898.1 152.6,898.5 153.7,898.1 154.7,898.1 155.7,898.3 156.7,897.9 157.7,897.7 158.8,897.9 159.8,897.8 160.9,898.1 161.9,897.4 163.0,896.5 164.0,896.4 165.0,896.8 166.1,896.3 167.3,896.4 168.4,896.2 169.4,895.7 170.5,894.5 171.6,895.0 172.5,894.1 173.5,893.4 174.4,892.8 175.4,893.2 176.3,891.9 177.2,891.1 178.0,890.7 178.8,890.8 179.5,889.3 180.2,888.7 180.8,887.0 181.4,886.5 182.1,885.5 182.7,884.6 183.6,884.7 184.5,884.3 185.4,884.0 186.2,884.3 186.9,882.0 187.0,881.0 187.2,880.3 187.3,880.5 187.4,879.7 187.5,878.5 187.6,878.4 187.7,878.0 187.8,877.0 187.8,875.9 187.9,875.4 188.0,874.7 188.1,873.8 188.1,872.2 188.2,872.0 188.3,871.0 188.3,869.5 188.4,868.4 188.5,866.4 188.6,865.6 188.6,863.1 188.7,861.5 188.8,860.1 188.8,859.8 188.9,858.1 188.9,857.6 188.9,856.6 189.0,856.4 189.0,855.3 189.0,854.6 189.1,854.5 189.1,853.5 189.1,853.2 189.1,851.8 189.2,851.3 189.2,849.7 189.2,850.0 189.3,848.3 189.3,847.7 189.3,846.9 189.4,846.6 189.4,845.2 189.4,844.9 189.5,843.5 189.5,842.2 189.5,842.0 189.6,840.3 189.6,840.3 189.6,838.7 189.7,837.5 189.7,837.4 189.7,835.7 189.8,834.8 189.8,833.7 189.8,833.1 189.9,831.3 189.9,830.7 189.9,829.4 189.9,829.1 190.0,827.0 190.0,826.7 190.0,825.2 190.1,824.3 190.1,823.3 190.1,822.4 190.2,820.6 190.2,819.5 190.2,818.2 190.3,818.1 190.3,815.9 190.3,814.7 190.4,814.0 190.4,812.9 190.4,812.0 190.5,809.8 190.5,808.7 190.5,807.4 190.5,806.6 190.6,805.2 190.6,803.8 190.6,803.1 190.7,801.5 190.7,800.4 190.7,799.7 190.7,798.1 190.8,798.1 190.8,796.6 190.8,795.3 190.8,795.4 190.8,793.6 190.8,792.5 190.9,791.9 190.9,791.0 190.9,790.9 190.9,789.8 190.9,788.3 191.0,787.4 191.0,786.8 191.0,785.8 191.0,784.6 191.0,783.4 191.0,781.9 191.1,781.0 191.1,780.4 191.1,779.3 191.1,778.5 191.1,777.5 191.2,776.5 191.2,774.5 191.2,773.2 191.2,773.1 191.2,771.6 191.2,770.0 191.3,769.5 191.3,767.9 191.3,766.7 191.3,765.7 191.3,764.8 191.3,763.8 191.4,762.0 191.4,761.6 191.4,760.3 191.4,759.0 191.4,758.1 191.5,757.1 191.5,755.0 191.5,754.4 191.5,753.5 191.5,752.4 191.5,751.1 191.6,749.4 191.6,749.2 191.6,747.8 191.6,746.0 191.6,745.1 191.6,744.6 191.7,742.6 191.7,741.7 191.7,741.2 191.7,740.0 191.7,738.1 191.8,737.6 191.8,736.0 191.8,735.2 191.8,734.3 191.8,732.4 191.8,731.4 191.9,730.3 191.9,729.3 191.9,728.0 191.9,727.0 191.9,726.3 191.9,725.3 192.0,723.8 192.0,723.4 192.0,722.8 192.0,721.4 192.0,720.1 192.1,719.6 192.1,718.3 192.1,717.0 192.1,716.4 192.1,714.9 192.1,714.8 192.2,713.3 192.2,712.6 192.2,712.5 192.2,711.4 192.2,710.6 192.3,709.5 192.3,708.7 192.3,708.0 192.3,707.5 192.3,705.8 192.3,705.7 192.4,704.4 192.4,703.7 192.4,703.6 192.4,702.7 192.4,702.3 192.5,701.7 192.5,700.7 192.5,699.6 192.6,696.6 192.7,694.8 192.8,692.9 192.9,690.5 193.0,688.7 193.1,687.3 193.2,686.4 193.3,686.1 193.4,684.6 193.5,684.2 193.6,683.8 193.7,683.9 193.8,683.9 193.9,682.4 194.0,682.2 194.1,682.8 194.2,682.4 194.3,680.9 194.4,680.5 194.5,680.0 194.6,678.5 194.8,677.2 194.9,675.9 195.1,674.2 195.2,672.5 195.3,671.3 195.5,670.1 195.6,668.9 195.7,668.6 195.9,668.0 196.0,666.9 196.1,667.3 196.3,667.3 196.4,667.0 196.5,667.5 196.6,667.6 196.8,669.1 196.9,669.4 197.0,669.5 197.1,670.5 197.2,672.2 197.4,672.9 197.5,674.4 197.6,675.0 197.7,676.9 197.9,678.3 198.0,678.8 198.1,680.8 198.2,681.7 198.4,683.8 198.5,685.4 198.6,686.1 198.6,686.3 198.7,686.9 198.8,688.5 198.8,689.2 198.9,689.6 199.0,690.6 199.1,692.0 199.1,692.4 199.2,694.1 199.3,694.6 199.4,695.6 199.4,696.9 199.5,698.1 199.6,699.3 199.7,699.6 199.7,701.5 199.8,702.0 199.9,703.1 199.9,704.6 200.0,705.8 200.1,706.8 200.2,708.2 200.2,708.4 200.3,709.6 200.4,711.1 200.5,711.7 200.5,712.6 200.6,713.8 200.7,715.4 200.7,716.5 200.8,717.4 200.9,718.7 200.9,719.4 201.0,719.8 201.1,720.9 201.1,722.4 201.2,722.7 201.3,724.4 201.4,724.8 201.4,725.8 201.5,727.4 201.6,727.9 201.6,729.9 201.7,730.8 201.8,731.3 201.8,732.0 201.9,732.9 202.0,734.3 202.0,735.3 202.1,736.1 202.2,737.5 202.2,738.3 202.3,739.5 202.4,739.7 202.4,740.6 202.5,742.0 202.5,743.1 202.6,743.8 202.7,745.3 202.7,745.7 202.8,746.8 202.9,748.0 202.9,749.3 203.0,750.3 203.1,750.8 203.1,751.9 203.2,753.5 203.3,754.5 203.3,755.1 203.4,755.5 203.4,756.9 203.5,758.1 203.6,758.6 203.6,759.3 203.7,761.4 203.8,762.3 203.8,762.4 203.9,763.8 203.9,764.9 204.0,765.5 204.1,766.2 204.1,768.1 204.2,769.1 204.3,769.7 204.3,770.3 204.4,771.6 204.5,772.3 204.5,774.3 204.6,774.3 204.7,775.6 204.8,777.2 204.8,777.5 204.9,778.5 205.0,779.5 205.1,780.6 205.2,782.0 205.2,783.3 205.3,783.5 205.4,784.6 205.5,786.3 205.6,786.9 205.6,787.9 205.7,788.6 205.8,789.8 205.9,791.8 206.0,791.8 206.1,793.0 206.2,794.6 206.3,795.9 206.4,797.0 206.5,797.5 206.6,799.1 206.7,799.8 206.7,800.4 206.8,801.7 206.9,803.0 207.0,804.1 207.1,804.4 207.2,805.4 207.3,807.4 207.4,807.3 207.5,809.1 207.6,809.5 207.6,810.4 207.7,811.3 207.8,812.5 207.9,814.0 208.0,814.1 208.1,816.1 208.2,816.6 208.3,817.6 208.4,819.4 208.5,820.0 208.6,820.9 208.7,822.2 208.8,823.8 208.9,824.9 209.0,825.6 209.1,825.9 209.2,827.8 209.3,828.6 209.4,829.9 209.5,831.0 209.6,831.2 209.7,832.7 209.8,833.6 209.9,833.9 210.0,834.9 210.1,835.8 210.2,836.6 210.3,837.5 210.4,838.0 210.6,839.4 210.7,841.5 210.9,842.0 211.0,843.4 211.2,844.8 211.3,845.7 211.5,846.1 211.7,847.9 211.8,848.7 212.0,849.9 212.2,850.5 212.4,851.5 212.6,852.6 212.8,852.9 213.0,854.4 213.3,855.1 213.6,856.6 213.9,856.8 214.2,858.3 214.5,859.1 214.8,860.7 215.2,861.2 215.5,862.9 215.9,864.0 216.2,865.0 216.6,865.2 217.0,867.1 217.3,867.9 217.7,868.8 218.0,869.6 218.4,869.8 218.7,871.6 219.0,872.0 219.5,873.1 220.0,874.1 220.4,875.7 220.9,876.5 221.3,877.5 221.7,877.5 222.2,878.4 222.7,879.1 223.3,879.8 223.9,881.0 224.4,881.5 225.0,883.3 225.6,883.6 226.3,884.3 227.0,885.2 227.7,886.8 228.4,886.9 229.2,887.9 230.0,888.5 230.9,889.5 231.8,890.1 232.8,889.7 233.8,890.4 234.8,891.0 235.8,890.7 236.9,891.4 237.9,891.4 239.0,891.1 240.0,891.9 241.0,891.8 242.0,891.4 243.0,892.1 244.0,892.5 245.0,892.2 246.0,892.2 247.0,892.2 248.0,892.8 249.0,892.6 250.0,892.1 251.0,892.4 251.9,892.5 252.8,893.2 253.8,893.0 254.7,892.3 255.6,893.3 256.6,892.3 257.7,893.0 258.8,892.9 260.0,893.3 260.9,892.9 261.7,892.6 262.7,893.1 263.6,893.5 264.6,893.5 265.6,893.0 266.6,892.9 267.6,893.5 268.6,893.6 269.7,893.0 270.7,893.8 271.8,894.0 272.9,893.3 273.9,893.3 275.0,893.8 276.0,894.1 277.0,893.2 278.0,893.4 279.0,893.5 280.0,894.1 281.0,893.5 282.0,894.0 283.0,894.0 284.1,894.2 285.1,893.7 286.2,894.7 287.3,894.8 288.4,894.4 289.5,894.7 290.6,894.1 291.8,895.0 292.8,894.6 293.8,894.9 294.8,895.2 295.9,894.7 297.0,895.4 298.2,894.7 299.3,894.6 300.5,895.3 301.6,895.8 302.8,895.9 303.9,896.1 305.1,895.7 306.2,896.2 307.2,895.8 308.3,895.3 309.3,895.9 310.2,896.1 311.1,895.6 311.9,895.7 312.7,895.2 314.1,894.9 315.2,894.7 316.2,894.3 317.0,893.6 317.8,892.5 318.5,891.7 319.1,891.3 319.7,891.0 320.3,890.2 321.0,888.7 321.6,888.0 322.1,887.5 322.6,886.2 323.1,885.9 323.6,885.3 324.1,883.5 324.6,883.1 325.0,882.2 325.5,881.3 326.0,880.3 326.5,879.3 327.0,877.7 327.5,877.5 327.9,876.7 328.4,874.7 328.9,874.8 329.4,873.2 329.8,871.8 330.3,870.8 330.8,870.7 331.3,869.6 331.8,868.0 332.3,867.4 332.7,866.8 333.2,866.4 333.6,864.8 334.3,864.2 334.9,862.5 335.5,861.4 336.2,860.4 336.8,859.8 337.3,859.3 337.9,858.1 338.5,857.2 339.0,856.7 339.9,855.5 340.7,854.7 341.5,854.2 342.3,854.1 343.0,853.6 343.7,854.3 344.3,855.0 344.9,856.6 345.4,857.1 346.0,858.5 346.7,859.3 347.3,860.6 348.0,862.2 348.5,861.6 348.7,861.3 348.8,860.7 348.9,861.0 349.1,860.8 349.2,859.4 349.3,858.6 349.4,857.7 349.5,856.5 349.6,855.6 349.8,853.7 349.9,851.6 350.0,850.4 350.0,849.4 350.1,848.1 350.1,848.5 350.1,847.7 350.2,846.6 350.2,846.2 350.2,845.9 350.3,844.6 350.3,843.9 350.3,843.1 350.4,842.7 350.4,842.1 350.4,841.4 350.5,840.9 350.5,839.1 350.5,838.6 350.6,838.4 350.6,837.4 350.6,836.3 350.7,835.5 350.7,834.2 350.7,834.0 350.8,832.5 350.8,831.4 350.8,830.0 350.9,828.9 350.9,828.7 350.9,827.5 351.0,825.3 351.0,824.5 351.1,823.4 351.1,822.1 351.1,820.6 351.2,819.8 351.2,817.8 351.3,816.5 351.3,815.4 351.4,813.5 351.4,811.7 351.5,809.8 351.5,809.1 351.5,808.7 351.6,808.1 351.6,806.8 351.6,806.1 351.6,805.3 351.7,804.5 351.7,804.3 351.7,803.0 351.7,801.9 351.8,801.1 351.8,800.8 351.8,799.1 351.9,798.8 351.9,797.1 351.9,796.4 351.9,795.3 352.0,795.2 352.0,793.5 352.0,792.6 352.0,791.4 352.1,790.6 352.1,790.2 352.1,789.2 352.2,788.4 352.2,787.4 352.2,785.9 352.3,785.3 352.3,783.2 352.3,783.2 352.3,781.5 352.4,780.2 352.4,779.7 352.4,778.8 352.5,777.1 352.5,775.7 352.5,775.5 352.6,774.3 352.6,773.0 352.6,772.3 352.7,770.1 352.7,769.0 352.7,767.9 352.8,766.7 352.8,766.4 352.8,765.1 352.9,763.4 352.9,762.3 352.9,761.2 353.0,760.6 353.0,759.5 353.0,758.7 353.1,756.9 353.1,756.5 353.1,754.7 353.2,753.5 353.2,752.2 353.2,751.1 353.3,750.8 353.3,749.7 353.3,748.3 353.4,746.5 353.4,745.4 353.4,744.3 353.5,743.4 353.5,742.8 353.5,740.9 353.6,740.3 353.6,739.4 353.6,737.6 353.7,737.0 353.7,736.4 353.7,735.1 353.8,733.9 353.8,733.3 353.8,732.0 353.9,730.6 353.9,729.7 353.9,729.3 354.0,728.3 354.0,727.3 354.0,725.9 354.1,724.5 354.1,723.6 354.1,722.9 354.2,722.3 354.2,720.6 354.2,720.6 354.2,719.7 354.3,718.5 354.3,717.0 354.3,717.1 354.4,715.8 354.4,715.3 354.4,714.4 354.5,713.8 354.5,712.6 354.6,711.8 354.6,710.4 354.7,709.0 354.7,707.3 354.8,705.6 354.9,704.3 354.9,702.9 355.0,702.4 355.0,701.0 355.1,699.8 355.2,698.6 355.2,697.7 355.3,696.1 355.3,694.5 355.4,693.9 355.5,692.2 355.5,691.6 355.6,689.9 355.6,689.7 355.7,688.2 355.8,686.9 355.8,686.7 355.9,684.7 355.9,684.7 356.0,683.5 356.1,681.8 356.1,681.6 356.2,680.5 356.2,679.9 356.3,678.6 356.4,677.5 356.4,677.3 356.5,675.3 356.5,675.3 356.6,673.6 356.7,673.0 356.7,671.9 356.8,672.0 356.8,670.6 356.9,670.1 356.9,668.7 357.0,668.4 357.0,667.5 357.1,666.0 357.1,665.7 357.2,665.1 357.3,663.7 357.3,663.4 357.4,662.2 357.4,661.5 357.5,661.3 357.5,660.5 357.6,659.3 357.7,657.2 357.7,656.0 357.8,654.9 357.9,653.5 357.9,651.8 358.0,650.9 358.1,648.9 358.1,648.2 358.2,646.3 358.3,644.5 358.3,644.0 358.4,642.0 358.4,641.3 358.5,639.4 358.6,639.3 358.6,637.6 358.7,636.7 358.7,635.0 358.8,634.6 358.9,633.3 358.9,632.3 359.0,632.1 359.0,630.5 359.1,630.3 359.1,629.2 359.2,629.6 359.3,629.3 359.3,627.9 359.4,628.2 359.4,628.0 359.5,628.3 359.6,628.3 359.6,628.0 359.7,629.0 359.8,628.5 359.8,628.9 359.9,630.3 359.9,630.1 360.0,630.9 360.1,632.1 360.1,632.8 360.2,633.5 360.3,635.5 360.3,636.0 360.4,637.5 360.5,638.0 360.5,640.0 360.6,640.4 360.7,642.5 360.7,643.4 360.8,645.2 360.9,646.3 360.9,647.4 361.0,648.6 361.0,650.4 361.1,651.2 361.2,652.1 361.2,654.4 361.3,655.5 361.3,656.7 361.4,658.0 361.4,658.5 361.5,660.0 361.5,661.3 361.6,662.4 361.6,663.2 361.7,663.2 361.7,664.7 361.7,665.4 361.8,666.2 361.8,666.8 361.8,667.6 361.9,668.9 361.9,669.9 361.9,670.5 361.9,671.5 362.0,672.7 362.0,673.8 362.0,674.6 362.1,675.0 362.1,676.8 362.1,677.1 362.1,678.8 362.2,679.8 362.2,679.8 362.2,681.3 362.3,682.7 362.3,683.0 362.3,684.3 362.3,685.0 362.4,685.7 362.4,687.0 362.5,688.0 362.5,689.2 362.5,690.7 362.6,691.8 362.6,693.4 362.7,694.2 362.7,695.0 362.7,696.9 362.8,697.7 362.8,698.8 362.9,700.4 362.9,701.0 363.0,701.5 363.0,702.7 363.1,703.2 363.1,704.9 363.1,705.0 363.2,706.8 363.2,706.6 363.3,707.5 363.3,709.1 363.3,709.7 363.4,711.0 363.4,711.6 363.5,713.5 363.5,714.3 363.6,715.3 363.6,716.6 363.7,717.8 363.7,718.4 363.8,719.5 363.8,719.7 363.9,720.8 363.9,722.4 364.0,724.1 364.0,724.4 364.1,725.8 364.1,726.2 364.2,727.7 364.2,729.4 364.3,730.1 364.3,731.5 364.4,731.6 364.4,732.9 364.5,733.9 364.5,735.8 364.6,736.0 364.7,738.1 364.7,738.3 364.8,740.1 364.8,740.8 364.9,741.6 364.9,743.4 365.0,743.8 365.0,745.1 365.1,745.4 365.1,747.4 365.2,748.5 365.3,748.5 365.3,750.2 365.4,750.7 365.4,751.5 365.5,752.7 365.5,754.0 365.6,755.3 365.6,756.2 365.7,757.1 365.7,757.6 365.8,758.5 365.8,758.8 365.9,760.3 366.0,761.3 366.1,762.3 366.1,764.2 366.2,764.6 366.3,765.6 366.4,766.8 366.5,768.0 366.6,769.6 366.7,771.0 366.7,771.3 366.8,772.9 366.9,774.0 367.0,775.1 367.1,776.0 367.2,777.2 367.3,777.6 367.4,778.7 367.4,780.1 367.5,780.9 367.6,782.5 367.7,782.9 367.8,784.5 367.9,784.8 368.0,785.6 368.1,787.0 368.1,787.8 368.2,788.6 368.3,790.1 368.4,790.3 368.5,791.7 368.6,792.8 368.6,793.2 368.7,794.1 368.8,795.5 368.9,796.0 368.9,796.3 369.0,797.0 369.1,797.9 369.1,799.0 369.2,799.5 369.3,801.5 369.4,802.4 369.5,803.5 369.6,804.9 369.6,806.5 369.7,806.7 369.8,807.7 369.8,808.9 369.9,809.9 369.9,811.6 370.0,812.3 370.1,812.9 370.1,813.5 370.2,814.3 370.2,815.3 370.3,817.0 370.3,817.7 370.4,818.0 370.5,819.5 370.5,819.7 370.6,821.2 370.7,821.9 370.8,822.6 370.9,824.3 371.0,825.3 371.1,826.0 371.2,826.6 371.3,828.3 371.5,829.0 371.6,830.3 371.7,830.7 371.8,832.7 372.0,832.7 372.1,834.0 372.2,835.3 372.4,836.1 372.5,837.1 372.6,838.8 372.8,840.2 372.9,840.5 373.1,841.4 373.3,842.9 373.4,843.3 373.6,844.5 373.7,845.8 373.9,846.5 374.1,847.1 374.2,847.9 374.4,849.3 374.6,850.7 374.9,851.8 375.1,852.0 375.4,853.6 375.6,854.7 375.9,855.4 376.2,857.0 376.5,857.8 376.8,859.1 377.0,859.5 377.4,861.2 377.7,861.9 378.0,862.4 378.4,862.9 378.7,864.2 379.1,864.6 379.6,866.2 380.0,867.0 380.5,867.8 381.0,869.2 381.6,869.0 382.2,870.6 382.8,871.6 383.4,871.6 384.1,872.7 384.7,873.2 385.4,874.6 386.0,875.6 386.7,875.9 387.4,877.0 388.1,877.3 388.7,878.4 389.4,878.5 390.0,880.0 390.9,880.2 391.7,880.4 392.5,881.2 393.2,882.6 394.0,883.4 394.8,883.7 395.6,883.7 396.6,885.0 397.6,885.3 398.7,885.1 400.0,885.9 400.8,886.5 401.6,885.9 402.4,886.1 403.2,886.7 404.1,887.6 405.0,887.9 405.9,887.3 406.9,888.1 407.8,888.2 408.8,888.4 409.8,888.2 410.9,888.8 411.9,888.6 413.0,889.1 414.1,888.8 415.3,888.5 416.4,889.1 417.6,889.2 418.8,889.1 420.0,889.3 420.9,889.6 421.7,889.8 422.6,889.5 423.6,889.7 424.5,890.1 425.5,890.2 426.4,890.2 427.4,890.6 428.4,890.1 429.5,890.7 430.5,890.5 431.5,891.2 432.6,891.2 433.6,891.4 434.7,891.2 435.7,891.0 436.8,891.9 437.8,891.5 438.9,891.4 439.9,891.4 441.0,891.7 442.0,892.1 443.0,892.4 444.0,892.1 445.0,892.4 446.0,891.9 447.0,892.3 448.0,892.3 448.9,892.3 450.0,892.4 451.1,893.0 452.2,893.1 453.3,892.5 454.5,892.7 455.6,893.4 456.7,893.4 457.9,893.5 459.0,893.5 460.1,893.7 461.2,893.3 462.3,893.1 463.4,893.6 464.5,893.2 465.5,894.4 466.5,894.0 467.5,894.2 468.5,894.6 469.4,894.4 470.3,893.8 471.1,893.9 471.9,893.6 472.6,894.4 473.4,894.3 474.0,894.0 475.9,893.6 477.2,893.1 478.0,892.9 478.5,892.5 479.0,892.1 479.4,891.2 480.0,890.4 480.6,889.2 481.1,888.4 481.5,887.5 482.0,887.4 482.4,885.5 482.9,884.6 483.4,883.7 483.9,883.5 484.4,882.4 484.9,881.0 485.3,880.7 485.8,879.9 486.3,878.5 486.8,877.3 487.3,877.1 487.8,875.6 488.3,874.4 488.9,874.4 489.4,872.9 490.0,871.9 490.5,871.3 491.0,870.1 491.5,869.0 492.0,868.6 492.6,867.7 493.1,866.4 493.7,866.0 494.2,865.6 494.8,864.2 495.3,863.8 495.9,862.9 496.4,861.5 497.0,860.4 497.6,860.3 498.2,859.3 498.8,857.9 499.4,856.7 500.0,856.4 500.6,855.4 501.2,853.6 501.8,853.1 502.4,852.2 502.9,851.2 503.4,850.2 503.9,850.1 504.3,850.2 505.0,850.2 505.6,850.9 506.0,851.7 506.3,853.2 506.6,854.8 507.0,855.9 507.7,857.5 508.4,859.5 509.0,858.5 509.2,859.3 509.3,858.3 509.5,858.8 509.6,857.8 509.8,857.6 509.9,856.3 510.0,854.4 510.2,853.2 510.3,850.4 510.3,849.1 510.3,849.1 510.4,848.1 510.4,848.1 510.4,846.3 510.4,846.0 510.5,845.0 510.5,844.8 510.5,844.2 510.5,843.5 510.5,842.4 510.5,841.4 510.6,841.0 510.6,839.3 510.6,838.7 510.6,838.4 510.6,837.1 510.7,836.9 510.7,834.8 510.7,834.3 510.7,833.1 510.7,831.9 510.7,831.0 510.8,830.0 510.8,829.3 510.8,828.3 510.8,827.4 510.8,826.0 510.9,825.5 510.9,824.1 510.9,823.6 510.9,821.5 510.9,820.8 511.0,819.6 511.0,818.3 511.0,817.8 511.0,815.8 511.1,815.4 511.1,813.6 511.1,812.4 511.2,811.5 511.2,810.2 511.2,808.6 511.3,807.2 511.3,806.9 511.3,805.0 511.4,803.4 511.4,802.8 511.5,801.3 511.5,799.8 511.5,799.0 511.6,798.8 511.6,797.3 511.6,796.6 511.6,796.4 511.7,794.8 511.7,793.9 511.7,792.8 511.8,792.5 511.8,791.6 511.9,790.4 511.9,789.4 511.9,788.3 512.0,788.0 512.0,786.7 512.0,786.2 512.1,784.6 512.1,784.1 512.2,782.3 512.2,781.5 512.2,781.4 512.3,780.1 512.3,779.1 512.4,777.9 512.4,776.8 512.4,775.5 512.5,774.5 512.5,774.0 512.6,773.0 512.6,771.5 512.7,770.9 512.7,769.2 512.7,768.8 512.8,767.2 512.8,766.5 512.9,765.3 512.9,764.5 513.0,762.9 513.0,762.3 513.1,761.4 513.1,759.7 513.1,758.9 513.2,758.3 513.2,757.0 513.3,756.1 513.3,755.2 513.4,753.9 513.4,752.4 513.5,751.6 513.5,751.0 513.6,749.6 513.6,748.8 513.7,747.2 513.7,746.3 513.7,745.8 513.8,744.6 513.8,743.3 513.9,741.6 513.9,741.2 514.0,739.4 514.0,739.5 514.1,738.5 514.1,737.1 514.1,735.6 514.2,735.2 514.2,733.4 514.3,733.2 514.3,731.8 514.4,730.2 514.4,730.2 514.4,728.7 514.5,728.1 514.5,727.0 514.6,725.8 514.6,725.2 514.6,723.5 514.7,723.3 514.7,721.7 514.8,720.4 514.8,719.8 514.8,718.4 514.9,717.3 514.9,716.9 515.0,715.3 515.0,714.2 515.1,713.3 515.1,712.2 515.1,711.9 515.2,710.8 515.2,709.7 515.3,708.8 515.3,707.0 515.3,706.4 515.4,704.7 515.4,704.4 515.5,703.2 515.5,702.0 515.5,700.3 515.6,699.1 515.6,699.0 515.6,697.5 515.7,696.5 515.7,695.8 515.8,693.8 515.8,693.4 515.8,692.1 515.9,691.4 515.9,690.0 515.9,688.6 516.0,688.5 516.0,686.6 516.1,686.1 516.1,685.2 516.1,683.5 516.2,683.0 516.2,681.6 516.2,680.4 516.3,679.3 516.3,679.2 516.4,677.5 516.4,676.7 516.4,675.6 516.5,674.1 516.5,674.0 516.5,673.0 516.6,672.1 516.6,670.5 516.6,669.4 516.7,668.6 516.7,668.1 516.8,667.0 516.8,665.8 516.8,665.0 516.9,663.6 516.9,663.6 517.0,662.1 517.0,661.3 517.0,660.7 517.1,659.1 517.1,658.8 517.1,657.5 517.2,657.2 517.2,655.4 517.3,654.8 517.3,654.3 517.3,653.3 517.4,652.3 517.4,651.7 517.5,650.5 517.5,649.9 517.6,648.1 517.6,647.7 517.7,645.8 517.8,645.1 517.8,643.5 517.9,642.2 518.0,640.9 518.0,638.9 518.1,638.4 518.2,636.4 518.2,635.8 518.3,634.4 518.4,632.9 518.4,631.8 518.5,630.0 518.6,629.0 518.7,628.1 518.7,625.9 518.8,624.6 518.9,623.7 518.9,622.7 519.0,621.1 519.1,620.0 519.2,619.7 519.2,618.1 519.3,616.7 519.4,615.8 519.4,615.3 519.5,613.9 519.6,613.3 519.6,612.5 519.7,611.6 519.8,610.9 519.8,610.6 519.9,608.9 520.0,609.4 520.0,608.0 520.1,607.3 520.2,607.7 520.2,607.1 520.3,606.7 520.4,606.0 520.4,606.5 520.5,605.8 520.6,606.2 520.7,605.6 520.7,606.1 520.8,606.4 520.9,606.4 521.0,607.0 521.1,607.0 521.1,608.3 521.2,609.0 521.3,609.1 521.4,610.4 521.4,611.5 521.5,611.7 521.6,613.6 521.7,614.7 521.7,614.8 521.8,616.2 521.9,617.2 522.0,618.7 522.0,619.8 522.1,621.6 522.2,622.6 522.2,624.1 522.3,625.7 522.4,627.0 522.4,628.9 522.5,630.3 522.6,631.0 522.7,632.6 522.7,633.7 522.8,635.6 522.9,636.7 522.9,638.8 523.0,640.3 523.0,641.4 523.1,641.3 523.1,641.9 523.2,643.6 523.2,644.1 523.2,645.6 523.3,645.9 523.3,646.8 523.3,647.5 523.4,649.5 523.4,650.0 523.5,650.9 523.5,651.9 523.5,653.4 523.6,654.5 523.6,655.1 523.6,655.9 523.7,657.2 523.7,658.9 523.8,659.4 523.8,660.9 523.8,661.9 523.9,662.9 523.9,664.1 523.9,664.9 524.0,666.4 524.0,667.9 524.0,668.1 524.1,669.6 524.1,671.3 524.1,672.6 524.2,672.6 524.2,674.4 524.3,675.6 524.3,676.9 524.3,677.6 524.4,678.3 524.4,679.6 524.4,681.2 524.5,682.3 524.5,682.7 524.5,684.3 524.6,685.4 524.6,686.4 524.6,686.6 524.7,688.1 524.7,689.0 524.7,690.3 524.8,690.9 524.8,691.6 524.8,693.1 524.9,693.5 524.9,695.0 524.9,695.3 524.9,696.4 525.0,697.5 525.0,697.4 525.0,698.9 525.1,698.8 525.1,700.5 525.2,701.3 525.3,703.8 525.4,704.9 525.4,706.0 525.5,707.5 525.6,708.6 525.7,709.5 525.8,709.9 525.8,711.2 525.9,711.6 526.0,713.1 526.1,713.1 526.1,713.8 526.2,714.2 526.3,715.8 526.3,715.8 526.4,717.0 526.5,718.2 526.5,718.7 526.6,720.3 526.6,720.6 526.7,721.2 526.7,722.0 526.8,723.4 526.8,724.9 526.8,725.0 526.8,726.2 526.9,727.6 526.9,728.0 526.9,728.8 527.0,730.3 527.0,731.2 527.0,732.8 527.0,733.8 527.1,734.1 527.1,735.5 527.1,736.4 527.2,737.0 527.2,738.5 527.2,740.1 527.2,740.4 527.3,741.8 527.3,743.0 527.4,743.3 527.4,745.4 527.4,745.5 527.5,746.7 527.5,748.2 527.6,748.4 527.6,749.9 527.6,750.6 527.7,752.0 527.7,752.4 527.8,753.6 527.9,754.6 527.9,755.4 528.0,756.4 528.0,757.5 528.1,758.9 528.1,759.4 528.2,761.2 528.3,761.7 528.3,762.5 528.4,763.5 528.4,765.2 528.5,765.2 528.6,767.1 528.6,767.3 528.7,769.3 528.8,769.6 528.8,770.9 528.9,772.2 529.0,772.3 529.0,773.3 529.1,775.0 529.2,775.9 529.3,777.1 529.3,777.6 529.4,778.9 529.5,779.6 529.6,780.9 529.6,781.7 529.7,783.1 529.8,783.7 529.9,784.7 530.0,786.2 530.0,786.6 530.1,788.5 530.2,789.2 530.3,789.9 530.4,790.8 530.5,792.4 530.5,793.4 530.6,794.8 530.7,795.4 530.8,796.5 530.9,798.2 531.0,798.5 531.1,800.4 531.2,801.4 531.3,802.5 531.3,803.5 531.4,803.7 531.5,805.4 531.6,806.1 531.7,806.6 531.8,808.6 531.9,809.1 532.0,810.2 532.0,810.8 532.1,811.2 532.2,813.0 532.3,813.0 532.4,814.4 532.5,816.0 532.7,816.6 532.8,818.1 532.9,819.5 533.0,819.8 533.1,821.5 533.3,821.9 533.4,823.3 533.5,824.5 533.6,825.5 533.7,825.6 533.8,826.8 534.0,828.6 534.1,828.9 534.2,829.8 534.3,830.7 534.5,832.0 534.6,833.0 534.7,833.9 534.9,834.6 535.0,835.8 535.1,836.7 535.3,837.4 535.4,839.3 535.6,840.4 535.7,841.2 535.8,842.5 536.0,842.9 536.1,844.5 536.3,844.8 536.4,846.4 536.6,847.5 536.7,848.8 536.9,849.7 537.0,850.8 537.2,851.0 537.4,852.7 537.6,853.3 537.7,854.1 537.9,855.1 538.1,856.5 538.3,857.5 538.5,858.4 538.8,859.3 539.0,859.9 539.3,861.0 539.6,862.5 539.9,863.2 540.2,864.4 540.5,865.1 540.8,866.2 541.1,867.9 541.5,868.2 541.8,869.9 542.1,870.2 542.5,871.7 542.9,872.0 543.2,872.8 543.6,873.8 544.0,874.1 544.5,875.6 545.1,876.5 545.7,877.0 546.3,878.9 546.9,879.2 547.5,879.6 548.2,881.5 548.8,881.4 549.5,882.1 550.1,882.5 550.7,883.3 551.4,884.6 552.0,885.1 552.8,885.8 553.5,886.3 554.2,887.0 554.9,888.4 555.6,888.3 556.4,889.5 557.4,889.9 558.6,889.4 560.0,890.7 560.7,889.9 561.5,890.9 562.3,891.2 563.1,891.2 564.0,891.1 564.9,891.6 565.8,890.9 566.8,891.5 567.7,891.2 568.8,891.5 569.8,891.3 570.8,892.1 571.9,892.0 573.0,892.3 574.2,892.2 575.3,892.3 576.5,892.7 577.6,892.7 578.8,892.5 580.0,892.3 580.9,893.1 581.8,892.5 582.8,892.2 583.8,892.6 584.9,893.1 586.0,893.4 587.1,893.2 588.2,893.3 589.4,893.7 590.6,893.5 591.7,893.2 592.9,893.3 594.1,893.7 595.2,893.3 596.4,893.1 597.5,893.8 598.7,894.0 599.7,893.4 600.8,894.0 601.8,894.3 602.8,893.5 603.7,893.5 604.6,894.0 605.4,893.9 606.2,894.6 606.8,894.7 607.5,894.1 608.0,894.6" fill="none" stroke="#0000f0" stroke-width="3.4" stroke-linejoin="round" />
<polyline points="97.3,898.7 97.9,898.1 98.5,899.0 99.3,898.0 100.2,897.8 101.1,898.2 102.1,897.6 103.1,898.1 104.2,897.9 105.4,898.5 106.5,897.8 107.7,898.2 109.0,898.1 110.2,897.8 111.4,897.3 112.6,897.3 113.8,897.5 115.0,897.4 116.0,897.7 117.0,897.5 118.0,897.2 119.0,897.6 120.1,898.0 121.2,897.1 122.3,897.2 123.4,896.8 124.5,896.9 125.6,896.9 126.7,897.3 127.8,897.8 128.9,897.7 130.0,898.0 131.1,897.8 132.1,897.5 133.1,897.6 134.1,896.9 135.0,897.3 135.9,897.2 136.8,897.6 138.1,897.0 139.4,897.6 140.5,897.5 141.7,897.6 142.8,897.6 143.8,897.3 144.8,898.1 145.7,898.2 146.6,898.0 147.5,897.5 148.4,898.1 149.2,898.4 150.0,898.6 151.4,898.3 152.6,897.4 153.7,898.4 154.7,898.0 155.7,897.5 156.7,898.1 157.7,897.9 158.8,897.8 159.8,896.9 160.9,897.1 161.9,896.6 163.0,896.3 164.0,896.6 165.0,896.1 166.0,895.5 166.9,895.5 167.9,895.7 168.8,894.9 169.7,895.0 170.7,894.1 171.6,894.2 172.5,892.5 173.5,892.5 174.4,892.0 175.4,891.5 176.3,891.1 177.2,890.0 178.0,889.0 178.7,888.3 179.3,887.3 179.9,886.5 180.5,885.7 181.0,883.6 181.6,883.0 182.1,882.9 182.7,881.3 183.8,882.1 185.0,882.0 186.0,882.8 186.9,880.8 187.0,879.5 187.1,879.1 187.2,878.3 187.2,878.2 187.3,877.3 187.4,876.6 187.4,875.5 187.5,875.0 187.6,874.6 187.6,873.5 187.7,872.8 187.7,871.0 187.7,870.3 187.8,869.1 187.8,868.1 187.9,867.5 187.9,865.7 187.9,865.0 188.0,864.2 188.0,863.2 188.1,860.9 188.1,860.0 188.1,859.0 188.2,858.3 188.2,856.1 188.3,855.7 188.3,853.8 188.4,852.7 188.4,851.8 188.5,849.5 188.5,849.0 188.6,848.0 188.6,847.2 188.7,846.6 188.7,846.3 188.7,845.3 188.8,844.0 188.8,844.0 188.9,842.9 188.9,841.6 189.0,841.6 189.0,840.8 189.0,839.3 189.1,839.4 189.1,838.4 189.2,836.9 189.2,835.8 189.3,836.0 189.3,835.1 189.4,833.3 189.4,833.3 189.5,832.4 189.5,831.3 189.6,830.7 189.6,829.9 189.7,828.2 189.7,827.9 189.8,827.0 189.8,825.3 189.8,824.8 189.9,823.8 189.9,822.9 190.0,821.5 190.0,820.1 190.1,819.0 190.1,818.2 190.2,816.6 190.2,816.3 190.3,815.2 190.3,813.2 190.3,812.5 190.4,811.2 190.4,809.3 190.5,808.8 190.5,807.4 190.5,805.5 190.6,803.9 190.6,802.7 190.7,801.8 190.7,800.0 190.7,799.6 190.7,798.1 190.8,797.2 190.8,796.7 190.8,796.5 190.8,794.8 190.8,793.9 190.8,793.8 190.9,792.2 190.9,792.0 190.9,790.4 190.9,789.7 190.9,789.3 190.9,788.6 190.9,787.1 191.0,786.2 191.0,784.8 191.0,784.2 191.0,783.1 191.0,782.7 191.0,781.7 191.1,780.7 191.1,779.4 191.1,778.6 191.1,776.9 191.1,776.2 191.1,775.0 191.1,774.0 191.1,773.4 191.2,771.8 191.2,770.8 191.2,769.7 191.2,769.3 191.2,768.0 191.2,766.7 191.2,765.5 191.3,765.0 191.3,763.9 191.3,762.2 191.3,761.3 191.3,760.5 191.3,758.7 191.3,757.6 191.3,756.3 191.4,755.6 191.4,754.8 191.4,753.0 191.4,752.2 191.4,751.7 191.4,750.0 191.4,748.7 191.4,748.2 191.5,747.1 191.5,745.4 191.5,743.9 191.5,743.4 191.5,742.4 191.5,741.5 191.5,740.1 191.5,738.6 191.6,737.7 191.6,736.3 191.6,735.4 191.6,734.3 191.6,733.8 191.6,732.7 191.6,731.6 191.6,730.0 191.7,729.5 191.7,727.5 191.7,727.3 191.7,726.0 191.7,725.2 191.7,723.6 191.7,723.2 191.7,721.1 191.8,721.0 191.8,720.0 191.8,718.4 191.8,718.0 191.8,716.3 191.8,715.9 191.8,714.6 191.9,713.6 191.9,712.4 191.9,712.2 191.9,711.2 191.9,709.5 191.9,709.7 191.9,707.9 192.0,707.2 192.0,706.4 192.0,705.7 192.0,705.2 192.0,704.5 192.0,703.3 192.1,702.2 192.1,701.1 192.1,700.2 192.1,700.0 192.1,698.6 192.2,697.0 192.2,696.2 192.2,694.2 192.3,692.8 192.3,691.5 192.3,689.9 192.4,689.6 192.4,688.0 192.4,686.7 192.5,685.4 192.5,684.0 192.5,683.0 192.6,682.1 192.6,681.0 192.6,680.5 192.7,679.0 192.7,677.6 192.8,676.4 192.8,675.5 192.8,674.8 192.9,674.4 192.9,673.6 192.9,671.9 193.0,671.6 193.0,670.3 193.1,669.6 193.1,668.7 193.1,667.2 193.2,666.4 193.2,666.3 193.2,665.5 193.3,664.3 193.3,664.1 193.4,663.1 193.4,661.7 193.4,660.6 193.5,660.3 193.5,659.6 193.6,658.3 193.6,657.2 193.7,656.9 193.7,655.5 193.7,655.5 193.8,654.5 193.8,653.3 193.9,652.6 193.9,651.5 194.0,650.5 194.0,649.6 194.1,649.2 194.1,647.6 194.2,646.7 194.2,645.0 194.3,644.3 194.4,642.8 194.4,641.6 194.5,639.9 194.5,638.8 194.6,637.0 194.7,636.6 194.7,634.9 194.8,633.4 194.9,632.2 194.9,630.3 195.0,629.2 195.1,627.8 195.1,627.3 195.2,625.0 195.3,624.3 195.3,623.6 195.4,622.3 195.5,621.1 195.6,619.5 195.6,618.3 195.7,617.8 195.8,616.4 195.8,616.0 195.9,614.6 196.0,614.3 196.0,613.3 196.1,612.9 196.2,612.4 196.2,611.1 196.3,611.3 196.4,609.7 196.4,610.4 196.5,609.1 196.5,609.6 196.6,609.3 196.7,609.7 196.7,609.3 196.8,609.4 196.9,610.4 196.9,610.6 197.0,611.3 197.1,611.6 197.1,611.8 197.2,613.5 197.3,613.7 197.3,614.9 197.4,615.4 197.5,616.8 197.5,618.4 197.6,619.7 197.7,620.7 197.7,621.8 197.8,623.4 197.9,624.6 197.9,625.4 198.0,627.2 198.0,628.6 198.1,630.2 198.2,630.9 198.2,632.4 198.3,633.8 198.3,634.9 198.4,636.5 198.5,638.3 198.5,639.4 198.6,640.1 198.6,642.0 198.7,642.4 198.7,644.3 198.8,644.6 198.9,645.5 198.9,646.7 199.0,648.1 199.0,648.8 199.1,650.5 199.1,651.6 199.2,651.9 199.2,653.4 199.3,654.4 199.3,655.3 199.4,655.9 199.4,657.8 199.5,658.8 199.5,658.7 199.6,660.1 199.6,661.1 199.7,662.0 199.7,663.3 199.8,664.8 199.8,664.8 199.9,666.8 199.9,667.2 200.0,667.8 200.0,669.9 200.0,670.1 200.1,671.0 200.1,671.9 200.2,673.2 200.2,673.8 200.3,674.9 200.3,675.9 200.4,677.3 200.4,678.1 200.5,678.8 200.5,680.0 200.6,681.4 200.6,682.4 200.7,682.9 200.7,684.6 200.7,685.4 200.8,686.1 200.8,686.9 200.9,687.6 200.9,688.3 201.0,690.1 201.0,690.6 201.1,690.9 201.1,692.8 201.2,693.6 201.2,693.5 201.2,695.2 201.3,695.6 201.3,696.8 201.4,698.1 201.4,698.5 201.5,699.7 201.5,700.9 201.6,701.4 201.6,703.0 201.7,703.8 201.8,705.6 201.8,705.8 201.9,707.7 201.9,708.1 202.0,709.7 202.0,710.4 202.1,711.2 202.1,712.6 202.2,713.0 202.2,714.7 202.3,714.8 202.3,716.4 202.3,717.6 202.4,717.7 202.4,718.9 202.5,720.5 202.5,721.2 202.6,722.8 202.6,723.2 202.7,724.4 202.7,726.1 202.8,726.5 202.8,728.3 202.9,729.4 202.9,729.6 203.0,731.2 203.0,732.8 203.1,732.9 203.2,734.9 203.2,736.0 203.3,737.0 203.3,738.0 203.4,738.5 203.4,740.6 203.5,740.7 203.5,742.6 203.6,743.7 203.6,744.2 203.7,745.7 203.7,746.5 203.8,747.9 203.8,748.1 203.9,750.2 204.0,750.5 204.0,752.0 204.1,752.5 204.1,753.9 204.2,754.1 204.2,755.3 204.3,755.6 204.3,756.9 204.4,757.3 204.4,759.0 204.5,759.5 204.5,759.9 204.6,762.2 204.7,763.7 204.8,765.0 204.9,765.2 205.1,767.0 205.2,768.1 205.3,768.8 205.4,768.9 205.5,770.8 205.6,771.0 205.7,771.9 205.8,772.9 205.9,772.9 206.0,773.4 206.1,775.3 206.2,775.3 206.3,776.0 206.5,777.2 206.6,779.3 206.7,780.3 206.8,780.5 206.9,781.3 206.9,783.0 207.0,783.7 207.1,784.5 207.2,784.9 207.3,786.2 207.4,787.9 207.5,787.8 207.5,789.3 207.6,789.9 207.7,792.1 207.8,792.1 207.9,794.2 208.0,795.2 208.1,796.1 208.2,796.4 208.3,798.3 208.4,799.1 208.5,800.2 208.5,800.9 208.6,802.4 208.7,803.8 208.8,804.1 208.9,806.0 209.0,806.5 209.1,807.4 209.2,808.3 209.3,809.6 209.3,810.8 209.4,811.7 209.5,813.0 209.6,813.4 209.7,814.6 209.8,816.3 209.9,816.5 210.0,817.4 210.1,818.9 210.2,820.0 210.3,820.8 210.4,822.2 210.5,822.8 210.6,824.9 210.7,825.5 210.8,826.9 210.9,827.7 211.0,828.8 211.1,829.8 211.2,830.2 211.3,831.7 211.4,832.0 211.5,833.3 211.6,834.3 211.7,835.4 211.8,835.5 211.9,836.6 212.0,838.0 212.1,838.9 212.3,840.3 212.4,840.5 212.6,841.8 212.7,842.8 212.9,844.6 213.0,845.7 213.2,846.6 213.3,847.7 213.5,848.4 213.7,849.4 213.9,850.8 214.1,851.4 214.3,852.4 214.5,853.3 214.7,854.2 215.0,855.5 215.3,856.3 215.6,856.8 215.9,858.2 216.2,859.2 216.6,860.3 216.9,861.5 217.3,862.3 217.7,863.4 218.1,864.5 218.4,865.5 218.8,867.2 219.2,867.1 219.6,868.0 219.9,869.7 220.3,870.2 220.6,871.1 220.9,872.0 221.4,873.0 221.9,874.0 222.3,874.7 222.7,876.7 223.2,877.6 223.6,877.6 224.0,878.6 224.5,879.2 225.1,879.8 225.7,881.6 226.3,882.5 226.9,882.7 227.5,883.6 228.2,885.1 228.9,886.1 229.6,886.5 230.3,887.2 231.1,887.7 231.8,889.0 232.7,889.6 233.7,890.0 234.7,889.3 235.7,890.1 236.7,890.7 237.8,890.5 238.9,890.3 240.0,890.1 240.9,890.1 241.9,891.1 242.9,890.5 243.9,891.5 244.9,891.5 245.9,891.5 246.9,892.1 248.0,892.3 249.0,892.0 250.0,891.5 251.0,892.2 251.9,892.1 252.8,891.9 253.8,892.8 254.7,892.6 255.6,891.9 256.6,892.1 257.7,892.3 258.8,892.6 260.0,892.3 260.9,892.4 261.7,892.9 262.7,892.1 263.6,892.8 264.6,892.3 265.6,893.0 266.6,893.0 267.6,892.3 268.6,892.6 269.7,892.0 270.7,892.3 271.8,892.6 272.9,892.6 273.9,892.3 275.0,891.9 276.0,892.1 277.0,892.6 278.0,892.2 279.0,892.4 280.0,892.9 281.0,893.3 282.0,892.9 283.0,892.6 284.1,893.1 285.1,892.8 286.2,893.5 287.3,892.8 288.4,893.0 289.5,893.3 290.6,893.9 291.8,893.1 292.8,893.2 293.8,893.2 294.8,893.5 295.9,893.8 297.0,894.0 298.2,894.6 299.3,894.4 300.5,894.7 301.6,894.7 302.8,895.4 303.9,895.7 305.1,895.2 306.2,895.9 307.2,895.2 308.3,896.1 309.3,895.5 310.2,895.7 311.1,895.2 311.9,894.9 312.7,894.6 313.7,895.0 314.6,893.9 315.4,893.7 316.1,892.6 316.7,891.9 317.3,890.7 317.8,889.7 318.3,889.0 318.7,888.4 319.2,887.3 319.6,885.7 320.0,885.6 320.5,884.4 321.0,883.1 321.5,882.4 322.0,881.5 322.5,881.3 323.0,880.1 323.4,878.9 323.9,877.9 324.3,877.1 324.8,876.2 325.2,875.4 325.6,875.0 326.1,874.1 326.5,873.1 327.0,872.5 327.5,871.3 328.0,869.8 328.5,868.8 329.0,868.0 329.5,867.3 330.1,866.7 330.6,866.2 331.1,865.0 331.6,864.0 332.1,862.9 332.6,862.9 333.1,861.8 333.6,860.4 334.1,859.0 334.7,859.1 335.2,857.2 335.7,856.9 336.2,855.0 336.7,854.7 337.2,853.3 337.7,853.0 338.1,851.4 338.6,850.3 339.0,849.6 339.7,849.2 340.3,848.1 340.9,846.6 341.4,845.6 342.0,844.4 342.5,843.8 343.0,843.4 343.6,844.8 344.1,844.5 344.6,846.4 345.1,847.4 345.5,848.5 346.0,849.9 346.5,851.9 347.1,852.7 347.6,854.1 348.1,855.5 348.5,855.2 348.6,854.6 348.8,853.7 348.9,854.0 349.0,852.4 349.1,851.6 349.2,850.9 349.3,850.2 349.4,849.1 349.5,848.1 349.6,847.1 349.6,846.1 349.7,844.2 349.8,842.4 349.9,841.9 350.0,839.4 350.0,839.1 350.1,838.1 350.1,838.0 350.2,837.6 350.2,836.2 350.2,835.8 350.3,835.9 350.3,835.1 350.4,833.8 350.4,833.8 350.4,833.3 350.5,832.2 350.5,831.2 350.5,831.1 350.6,829.9 350.6,828.9 350.6,828.1 350.7,827.4 350.7,826.1 350.7,825.4 350.8,824.5 350.8,823.3 350.9,821.8 350.9,820.9 350.9,818.6 351.0,817.3 351.0,816.3 351.1,814.4 351.1,812.6 351.2,810.3 351.2,809.4 351.2,809.0 351.3,808.1 351.3,806.8 351.3,806.3 351.3,805.4 351.3,805.6 351.3,804.2 351.4,803.6 351.4,803.0 351.4,801.7 351.4,801.6 351.4,801.0 351.5,800.2 351.5,799.5 351.5,798.0 351.5,797.0 351.5,796.9 351.6,796.0 351.6,794.8 351.6,793.9 351.6,792.8 351.6,792.7 351.7,791.4 351.7,790.9 351.7,789.5 351.7,788.6 351.7,787.9 351.8,787.3 351.8,786.5 351.8,784.9 351.8,784.4 351.8,783.1 351.9,782.7 351.9,781.6 351.9,780.4 351.9,779.2 351.9,778.1 352.0,777.9 352.0,776.8 352.0,775.2 352.0,773.9 352.1,773.1 352.1,773.0 352.1,770.8 352.1,770.7 352.1,769.4 352.2,768.4 352.2,767.3 352.2,766.1 352.2,765.2 352.3,763.6 352.3,763.5 352.3,761.5 352.3,760.4 352.3,760.0 352.4,758.9 352.4,758.0 352.4,756.8 352.4,755.9 352.5,753.8 352.5,752.6 352.5,751.8 352.5,751.3 352.6,749.5 352.6,748.8 352.6,748.0 352.6,746.1 352.7,745.4 352.7,744.7 352.7,743.4 352.7,741.8 352.8,740.8 352.8,739.4 352.8,739.1 352.8,737.7 352.9,736.4 352.9,734.8 352.9,734.2 352.9,732.7 353.0,731.9 353.0,730.2 353.0,729.7 353.0,728.3 353.1,726.8 353.1,725.8 353.1,724.9 353.2,723.4 353.2,722.7 353.2,720.4 353.2,720.3 353.3,718.9 353.3,717.4 353.3,716.7 353.3,714.6 353.4,713.7 353.4,713.0 353.4,712.2 353.4,710.8 353.5,710.6 353.5,709.3 353.5,707.7 353.5,706.9 353.5,705.9 353.6,705.5 353.6,704.3 353.6,703.3 353.6,702.6 353.7,701.1 353.7,701.2 353.7,700.1 353.7,698.8 353.7,697.7 353.8,696.5 353.8,695.9 353.8,694.5 353.8,694.3 353.9,693.2 353.9,691.9 353.9,691.0 353.9,689.1 353.9,688.1 354.0,687.3 354.0,686.0 354.0,685.3 354.0,684.9 354.1,683.7 354.1,682.8 354.1,680.8 354.1,679.7 354.2,678.4 354.2,677.6 354.2,676.3 354.2,675.8 354.3,674.4 354.3,673.8 354.3,672.5 354.3,671.5 354.4,670.0 354.4,669.4 354.4,668.3 354.4,667.2 354.4,665.8 354.5,664.6 354.5,663.3 354.5,661.9 354.5,661.3 354.6,660.4 354.6,658.7 354.6,658.4 354.6,657.3 354.7,656.2 354.7,655.0 354.7,653.5 354.7,652.0 354.8,651.0 354.8,650.4 354.8,649.6 354.8,647.4 354.9,646.2 354.9,645.5 354.9,644.3 354.9,643.5 355.0,641.8 355.0,641.6 355.0,639.9 355.1,639.4 355.1,637.6 355.1,636.5 355.1,635.2 355.2,635.1 355.2,633.5 355.2,632.7 355.2,630.7 355.3,630.2 355.3,629.3 355.3,628.5 355.3,627.4 355.4,625.3 355.4,624.6 355.4,624.3 355.4,622.6 355.5,622.1 355.5,620.2 355.5,618.8 355.5,618.9 355.6,617.0 355.6,616.4 355.6,615.1 355.6,614.3 355.7,613.7 355.7,612.7 355.7,611.6 355.7,609.9 355.8,609.6 355.8,607.6 355.8,607.1 355.8,606.8 355.9,605.0 355.9,604.1 355.9,603.4 355.9,602.1 356.0,601.7 356.0,600.7 356.0,599.1 356.0,599.2 356.1,597.2 356.1,597.1 356.1,595.8 356.1,594.6 356.2,593.7 356.2,593.9 356.2,592.8 356.2,591.5 356.3,591.1 356.3,590.5 356.3,589.6 356.3,588.3 356.4,587.2 356.4,586.7 356.4,586.5 356.4,585.4 356.5,584.6 356.5,584.0 356.5,582.7 356.5,582.2 356.6,581.8 356.6,580.3 356.6,580.4 356.7,577.6 356.7,576.4 356.8,574.7 356.8,572.5 356.9,571.7 357.0,569.5 357.0,567.5 357.1,566.2 357.2,564.8 357.2,563.0 357.3,561.0 357.3,559.6 357.4,558.9 357.5,556.7 357.5,555.5 357.6,554.8 357.7,553.5 357.7,552.2 357.8,550.1 357.8,548.7 357.9,548.3 358.0,547.0 358.0,545.6 358.1,544.1 358.1,543.5 358.2,542.2 358.3,541.7 358.3,541.2 358.4,539.4 358.4,538.3 358.5,538.2 358.6,536.7 358.6,536.1 358.7,535.6 358.7,535.6 358.8,534.2 358.9,533.6 358.9,533.2 359.0,532.3 359.0,532.2 359.1,532.1 359.1,531.3 359.2,531.5 359.3,530.5 359.3,530.1 359.4,530.5 359.4,530.2 359.5,530.6 359.5,529.5 359.6,530.3 359.7,530.2 359.7,530.0 359.8,529.9 359.8,530.7 359.9,531.2 359.9,531.2 360.0,531.6 360.0,532.4 360.1,532.8 360.2,533.2 360.2,533.6 360.3,534.6 360.3,535.4 360.4,536.7 360.4,537.6 360.5,538.0 360.5,538.6 360.6,539.5 360.6,541.0 360.7,542.1 360.7,542.6 360.8,544.2 360.8,545.7 360.9,546.2 360.9,548.0 361.0,548.6 361.0,550.1 361.1,551.6 361.1,552.1 361.2,553.6 361.3,555.6 361.3,555.9 361.4,557.5 361.4,559.0 361.5,560.7 361.5,561.9 361.6,563.6 361.6,564.6 361.7,565.2 361.7,566.6 361.8,567.9 361.8,569.7 361.9,570.6 361.9,572.5 362.0,573.9 362.0,574.7 362.1,576.7 362.1,577.5 362.2,579.3 362.2,579.8 362.2,581.0 362.3,581.8 362.3,582.3 362.3,583.8 362.4,583.8 362.4,585.0 362.4,586.0 362.5,587.6 362.5,588.1 362.5,588.5 362.6,589.7 362.6,591.0 362.6,592.2 362.7,592.4 362.7,594.1 362.7,594.7 362.8,595.8 362.8,596.7 362.8,597.7 362.9,599.3 362.9,600.3 362.9,601.3 363.0,602.1 363.0,603.0 363.0,603.4 363.1,604.3 363.1,606.3 363.1,607.1 363.2,608.1 363.2,608.8 363.2,609.7 363.3,611.6 363.3,612.2 363.3,612.6 363.4,614.0 363.4,615.1 363.4,615.8 363.5,617.9 363.5,618.9 363.5,619.8 363.6,619.9 363.6,621.5 363.6,622.2 363.7,623.9 363.7,625.1 363.7,626.1 363.8,627.2 363.8,627.4 363.8,628.3 363.9,629.5 363.9,631.4 363.9,632.4 363.9,633.1 364.0,633.8 364.0,635.6 364.0,635.7 364.1,637.0 364.1,637.6 364.1,639.8 364.2,640.1 364.2,641.5 364.2,642.6 364.3,643.3 364.3,644.8 364.3,645.5 364.4,646.7 364.4,647.7 364.4,647.6 364.5,649.3 364.5,649.7 364.5,650.9 364.6,652.0 364.6,653.8 364.6,653.8 364.7,655.3 364.7,656.0 364.8,658.1 364.8,658.6 364.8,659.9 364.9,660.7 364.9,662.1 365.0,662.6 365.0,663.8 365.0,665.2 365.1,666.3 365.1,667.5 365.1,667.9 365.2,669.6 365.2,670.5 365.3,671.4 365.3,672.3 365.3,673.5 365.4,674.0 365.4,675.0 365.5,676.3 365.5,677.1 365.5,678.1 365.6,679.9 365.6,681.0 365.6,681.9 365.7,682.4 365.7,684.1 365.8,685.2 365.8,686.0 365.8,686.5 365.9,687.9 365.9,688.8 366.0,689.6 366.0,690.5 366.0,692.3 366.1,693.0 366.1,694.4 366.1,694.5 366.2,695.6 366.2,696.8 366.2,697.3 366.3,698.5 366.3,699.8 366.4,700.7 366.4,702.1 366.4,702.7 366.5,703.7 366.5,704.6 366.5,705.8 366.6,706.2 366.6,706.7 366.6,708.8 366.7,709.5 366.7,709.6 366.7,710.4 366.8,711.5 366.8,712.9 366.8,713.4 366.9,714.4 366.9,716.2 367.0,716.7 367.0,718.1 367.0,719.4 367.1,720.3 367.1,721.1 367.1,722.5 367.2,723.6 367.2,724.8 367.2,725.9 367.3,726.9 367.3,727.9 367.3,728.6 367.4,730.6 367.4,731.5 367.4,732.3 367.5,732.7 367.5,734.0 367.5,735.8 367.6,736.2 367.6,736.9 367.6,738.6 367.7,739.7 367.7,739.8 367.7,741.2 367.8,742.2 367.8,742.7 367.8,743.9 367.9,745.2 367.9,746.2 367.9,747.1 368.0,748.0 368.0,748.7 368.0,749.2 368.1,750.1 368.1,752.0 368.2,753.0 368.2,754.0 368.2,753.9 368.3,755.7 368.3,755.9 368.4,757.0 368.4,757.8 368.5,759.5 368.5,760.4 368.6,761.5 368.6,762.0 368.7,763.8 368.7,764.1 368.8,765.5 368.9,766.7 368.9,767.3 369.0,768.6 369.1,769.3 369.1,771.2 369.2,771.6 369.3,772.6 369.4,773.8 369.4,775.3 369.5,776.4 369.6,777.3 369.6,778.7 369.7,779.6 369.8,780.0 369.9,781.4 370.0,782.0 370.0,783.1 370.1,784.0 370.2,784.9 370.3,786.2 370.3,787.9 370.4,788.6 370.5,788.8 370.6,789.9 370.6,791.3 370.7,792.2 370.8,792.5 370.8,793.5 370.9,795.0 371.0,795.9 371.0,796.1 371.1,797.8 371.2,798.0 371.2,799.3 371.3,800.0 371.4,801.1 371.5,803.0 371.6,803.6 371.7,804.8 371.7,806.0 371.8,807.4 371.9,808.7 372.0,809.4 372.0,810.1 372.1,811.3 372.2,812.2 372.2,813.5 372.3,814.5 372.4,815.1 372.4,815.4 372.5,816.7 372.6,817.4 372.7,818.1 372.8,819.7 372.9,819.9 373.0,821.4 373.1,822.1 373.2,823.0 373.3,824.3 373.4,825.3 373.5,826.6 373.7,827.6 373.8,828.4 373.9,828.8 374.1,830.4 374.2,831.2 374.4,832.8 374.5,833.3 374.7,834.2 374.8,834.9 375.0,836.5 375.2,837.6 375.3,838.4 375.5,839.2 375.7,840.6 375.9,841.2 376.0,842.3 376.2,843.6 376.4,844.5 376.6,845.6 376.8,846.6 376.9,847.3 377.1,847.9 377.3,848.7 377.5,850.2 377.8,851.9 378.0,852.2 378.3,853.4 378.6,854.5 378.9,856.0 379.2,856.8 379.5,858.1 379.8,858.2 380.1,859.3 380.4,860.3 380.7,861.4 381.0,862.3 381.3,863.2 381.6,864.8 382.0,865.0 382.3,866.0 382.6,867.4 383.0,868.1 383.4,869.1 383.8,870.5 384.2,870.9 384.6,871.6 385.0,873.7 385.5,874.1 385.9,875.2 386.3,875.5 386.8,877.2 387.3,877.6 387.8,878.8 388.4,879.1 389.0,880.8 389.6,880.9 390.2,881.6 390.7,883.2 391.3,883.1 392.0,883.9 392.7,884.8 393.4,886.1 394.3,885.6 395.3,886.3 396.4,887.6 397.6,887.2 398.3,887.8 399.1,888.5 399.9,888.6 400.8,888.9 401.7,888.3 402.6,889.4 403.5,888.9 404.5,889.6 405.5,889.3 406.5,889.9 407.6,889.6 408.6,889.4 409.7,889.4 410.8,889.9 411.9,889.4 413.1,889.7 414.2,890.6 415.4,890.3 416.5,890.8 417.7,890.0 418.8,890.5 420.0,890.6 420.9,890.2 421.9,890.5 422.8,891.3 423.8,891.1 424.8,890.9 425.8,891.1 426.9,891.5 427.9,891.6 428.9,891.3 430.0,890.7 431.1,891.7 432.1,890.9 433.2,891.0 434.3,890.9 435.4,891.4 436.4,891.5 437.5,891.4 438.6,891.5 439.7,891.1 440.7,891.9 441.8,891.7 442.8,891.4 443.9,892.1 444.9,892.3 445.9,892.3 446.9,892.4 447.9,891.3 448.9,891.8 450.0,891.9 451.1,891.7 452.2,892.4 453.3,892.6 454.5,891.8 455.6,892.3 456.8,893.0 457.9,892.9 459.0,892.5 460.2,892.2 461.3,892.7 462.4,892.8 463.5,893.2 464.5,892.6 465.6,892.7 466.6,893.6 467.6,892.5 468.5,893.3 469.5,892.7 470.3,893.5 471.2,893.1 471.9,893.7 472.7,892.8 473.4,893.5 474.0,892.7 475.8,892.1 476.9,891.7 477.5,891.1 477.9,890.7 478.1,890.6 478.4,888.9 479.0,888.3 479.5,886.7 480.0,886.4 480.4,885.6 480.9,884.1 481.4,883.7 481.9,882.5 482.4,881.3 482.9,880.8 483.4,879.6 483.9,877.9 484.4,876.8 484.9,875.8 485.3,875.2 485.8,874.7 486.2,874.2 486.6,873.2 487.1,872.1 487.6,870.3 488.0,870.2 488.5,869.2 489.0,867.9 489.5,867.6 490.0,866.1 490.5,864.7 491.0,863.9 491.5,862.9 492.0,862.6 492.6,861.7 493.1,861.1 493.7,859.2 494.2,858.3 494.8,858.5 495.3,856.8 495.9,855.9 496.4,855.7 497.0,853.8 497.5,853.7 498.1,852.9 498.6,851.4 499.2,850.4 499.8,848.5 500.3,848.1 500.9,847.1 501.5,846.2 502.0,844.9 502.5,843.6 503.0,842.9 503.5,842.8 503.9,841.6 504.3,841.3 505.0,841.5 505.5,843.0 506.0,844.0 506.3,845.4 506.6,847.5 507.0,848.1 507.9,850.6 508.7,853.4 509.5,850.4 509.5,849.4 509.6,848.9 509.6,848.6 509.6,848.5 509.7,847.5 509.7,846.4 509.7,846.2 509.8,845.3 509.8,844.8 509.8,844.4 509.9,842.8 509.9,842.7 509.9,841.7 509.9,841.3 510.0,840.8 510.0,839.5 510.0,838.9 510.0,837.7 510.1,836.7 510.1,836.2 510.1,835.3 510.1,834.0 510.1,833.7 510.2,832.4 510.2,831.2 510.2,830.1 510.2,829.7 510.3,828.8 510.3,827.7 510.3,825.8 510.3,824.5 510.4,824.0 510.4,822.1 510.4,821.9 510.4,820.5 510.5,818.9 510.5,817.8 510.5,816.8 510.6,814.9 510.6,813.9 510.6,813.1 510.7,811.6 510.7,810.1 510.7,808.2 510.8,806.9 510.8,805.6 510.9,803.9 510.9,803.1 511.0,801.6 511.0,800.5 511.0,799.3 511.0,799.0 511.1,797.7 511.1,797.0 511.1,795.9 511.2,795.4 511.2,795.1 511.2,793.8 511.2,792.4 511.3,792.0 511.3,791.0 511.3,790.7 511.3,789.8 511.4,788.9 511.4,788.6 511.4,787.6 511.5,785.9 511.5,785.0 511.5,784.9 511.6,784.0 511.6,783.2 511.6,782.1 511.7,780.7 511.7,780.3 511.7,779.9 511.7,778.7 511.8,777.1 511.8,776.3 511.8,776.3 511.9,775.0 511.9,773.6 511.9,773.3 512.0,772.7 512.0,771.7 512.0,770.5 512.1,769.7 512.1,767.9 512.2,767.4 512.2,766.9 512.2,765.3 512.3,764.1 512.3,764.0 512.3,762.8 512.4,761.0 512.4,760.1 512.4,759.7 512.5,759.2 512.5,757.8 512.5,757.1 512.6,755.2 512.6,754.7 512.7,753.2 512.7,752.4 512.7,751.1 512.8,750.5 512.8,748.9 512.8,748.6 512.9,747.6 512.9,746.8 512.9,745.6 513.0,743.7 513.0,743.6 513.1,742.1 513.1,741.5 513.1,739.9 513.2,738.4 513.2,738.0 513.2,736.3 513.3,736.2 513.3,734.6 513.4,733.9 513.4,732.3 513.4,731.0 513.5,730.3 513.5,729.2 513.5,727.8 513.6,726.5 513.6,725.5 513.7,724.7 513.7,723.0 513.7,721.8 513.8,721.1 513.8,720.1 513.8,718.3 513.9,717.4 513.9,717.1 513.9,715.1 514.0,714.5 514.0,712.8 514.1,711.3 514.1,710.7 514.1,709.9 514.2,708.7 514.2,706.6 514.2,706.2 514.3,704.9 514.3,703.6 514.3,702.6 514.4,701.2 514.4,699.6 514.4,699.4 514.4,697.8 514.5,697.2 514.5,696.9 514.5,695.7 514.5,694.7 514.6,694.1 514.6,692.9 514.6,691.8 514.6,691.1 514.7,689.5 514.7,689.0 514.7,687.6 514.7,687.8 514.8,686.8 514.8,685.5 514.8,683.9 514.8,683.8 514.9,682.1 514.9,681.7 514.9,680.5 514.9,679.5 515.0,678.6 515.0,677.0 515.0,676.7 515.0,675.3 515.1,674.5 515.1,673.6 515.1,671.9 515.1,671.0 515.2,669.9 515.2,668.5 515.2,668.4 515.2,667.1 515.3,665.8 515.3,664.8 515.3,664.1 515.3,662.1 515.4,661.3 515.4,660.6 515.4,659.4 515.4,658.2 515.5,656.9 515.5,655.7 515.5,655.2 515.5,653.7 515.6,653.3 515.6,652.1 515.6,651.1 515.7,649.2 515.7,648.4 515.7,646.8 515.7,645.9 515.8,644.5 515.8,643.9 515.8,643.3 515.8,642.0 515.9,640.4 515.9,639.2 515.9,638.8 515.9,636.7 516.0,636.5 516.0,635.4 516.0,633.3 516.0,633.3 516.1,631.8 516.1,630.4 516.1,629.3 516.1,628.4 516.2,627.2 516.2,626.5 516.2,625.4 516.2,623.6 516.3,622.1 516.3,621.9 516.3,620.7 516.3,619.6 516.4,617.8 516.4,616.7 516.4,616.6 516.4,614.9 516.5,613.9 516.5,613.4 516.5,611.4 516.5,610.8 516.6,609.1 516.6,608.6 516.6,607.7 516.6,606.0 516.7,605.6 516.7,604.8 516.7,603.6 516.7,602.5 516.7,601.7 516.8,600.3 516.8,599.1 516.8,598.4 516.8,597.3 516.9,596.1 516.9,595.1 516.9,593.5 516.9,592.7 517.0,591.7 517.0,591.3 517.0,590.3 517.0,588.7 517.1,588.6 517.1,586.5 517.1,585.5 517.1,584.9 517.2,583.6 517.2,583.7 517.2,582.1 517.2,581.2 517.2,580.8 517.3,579.5 517.3,578.7 517.3,577.6 517.3,576.7 517.4,576.4 517.4,574.7 517.4,574.1 517.4,573.2 517.5,572.0 517.5,571.1 517.5,570.7 517.5,570.2 517.5,569.0 517.6,567.7 517.6,568.0 517.6,566.2 517.6,566.4 517.7,564.6 517.7,564.5 517.7,563.2 517.7,562.6 517.7,562.0 517.8,561.7 517.8,560.6 517.8,559.9 517.9,558.1 517.9,556.5 518.0,554.4 518.0,553.5 518.1,550.9 518.1,549.2 518.2,548.0 518.2,546.1 518.3,545.0 518.3,542.6 518.4,541.8 518.4,539.9 518.5,539.1 518.5,536.8 518.6,535.5 518.6,534.0 518.6,532.9 518.7,531.2 518.7,530.3 518.8,528.7 518.8,527.8 518.9,526.1 518.9,525.1 519.0,524.0 519.0,523.0 519.0,521.9 519.1,520.5 519.1,519.0 519.2,518.1 519.2,517.1 519.3,516.2 519.3,515.3 519.3,515.0 519.4,513.8 519.4,513.7 519.5,512.1 519.5,511.4 519.6,510.6 519.6,509.9 519.7,510.0 519.7,509.3 519.7,508.3 519.8,508.5 519.8,507.9 519.9,507.2 519.9,507.0 520.0,506.8 520.0,506.2 520.1,505.6 520.1,505.7 520.2,506.2 520.2,505.4 520.3,505.7 520.3,505.0 520.3,505.9 520.4,506.1 520.4,505.6 520.5,505.8 520.5,506.3 520.6,506.3 520.6,506.6 520.7,506.9 520.7,508.1 520.8,508.4 520.8,509.5 520.9,510.2 521.0,510.7 521.0,511.5 521.1,512.2 521.1,512.0 521.2,513.0 521.2,514.8 521.3,515.6 521.3,516.3 521.4,517.3 521.4,518.1 521.5,519.1 521.5,519.9 521.6,521.5 521.6,522.3 521.7,523.3 521.7,525.4 521.8,526.2 521.8,527.8 521.9,528.4 521.9,530.0 522.0,530.9 522.0,532.9 522.1,533.5 522.1,535.3 522.2,536.6 522.3,537.7 522.3,538.7 522.4,540.6 522.4,542.0 522.5,543.8 522.5,544.4 522.6,545.8 522.6,547.4 522.7,549.4 522.7,550.1 522.8,551.9 522.8,552.6 522.9,554.1 522.9,556.2 523.0,557.3 523.0,558.2 523.1,560.0 523.1,561.3 523.2,561.5 523.2,562.5 523.2,563.2 523.3,564.2 523.3,564.5 523.3,566.4 523.4,566.9 523.4,567.6 523.4,568.4 523.5,569.2 523.5,571.1 523.5,571.9 523.5,572.3 523.6,573.5 523.6,574.4 523.6,575.0 523.7,575.8 523.7,577.7 523.7,578.0 523.8,579.5 523.8,579.8 523.8,580.9 523.9,582.1 523.9,583.7 523.9,584.7 524.0,586.2 524.0,586.9 524.0,587.8 524.1,588.3 524.1,590.5 524.1,591.0 524.2,592.5 524.2,592.6 524.2,594.7 524.3,595.3 524.3,596.1 524.3,597.4 524.4,598.1 524.4,599.9 524.4,600.5 524.5,602.2 524.5,602.7 524.5,604.4 524.6,605.4 524.6,606.6 524.6,608.0 524.7,608.3 524.7,609.9 524.7,610.7 524.8,612.4 524.8,613.4 524.8,614.4 524.9,615.3 524.9,616.0 524.9,617.8 525.0,619.0 525.0,620.0 525.0,620.4 525.1,622.0 525.1,622.9 525.1,624.2 525.2,625.2 525.2,625.8 525.2,626.8 525.3,628.3 525.3,629.2 525.3,630.0 525.3,631.5 525.4,631.4 525.4,632.4 525.4,633.9 525.5,634.5 525.5,636.4 525.5,636.4 525.6,638.3 525.6,638.5 525.6,639.3 525.7,641.0 525.7,641.8 525.7,642.4 525.8,643.5 525.8,644.3 525.8,645.6 525.8,645.9 525.9,646.8 525.9,647.6 525.9,648.3 526.0,649.4 526.0,649.5 526.1,651.6 526.1,653.2 526.2,654.4 526.2,655.4 526.3,656.4 526.3,657.3 526.4,658.5 526.4,660.2 526.5,661.7 526.6,662.8 526.6,663.1 526.7,664.9 526.7,666.0 526.8,666.6 526.8,668.1 526.9,668.2 526.9,669.4 527.0,670.6 527.1,671.7 527.1,672.3 527.2,673.1 527.2,674.7 527.3,675.0 527.3,675.9 527.4,676.5 527.4,677.7 527.5,678.9 527.5,679.3 527.6,680.5 527.6,681.2 527.7,681.5 527.7,683.5 527.8,683.5 527.8,684.7 527.9,686.1 527.9,686.1 528.0,686.8 528.0,687.8 528.1,688.7 528.1,690.4 528.2,690.9 528.2,691.3 528.2,692.5 528.3,693.8 528.3,694.4 528.4,695.5 528.4,697.3 528.4,697.8 528.5,698.6 528.5,700.1 528.5,700.5 528.6,701.9 528.6,703.0 528.6,703.3 528.6,704.8 528.6,705.5 528.7,707.1 528.7,707.9 528.7,709.3 528.7,710.0 528.7,710.6 528.8,711.6 528.8,713.3 528.8,714.5 528.8,714.7 528.8,716.2 528.8,717.2 528.8,718.5 528.9,720.1 528.9,720.8 528.9,722.1 528.9,723.3 528.9,723.8 528.9,725.3 528.9,726.2 528.9,727.4 528.9,728.6 529.0,729.9 529.0,730.4 529.0,732.3 529.0,732.6 529.0,733.8 529.0,735.6 529.0,736.8 529.0,737.2 529.0,738.9 529.0,738.9 529.0,741.1 529.1,741.2 529.1,742.0 529.1,743.9 529.1,744.2 529.1,745.9 529.1,746.0 529.1,747.1 529.1,748.4 529.1,749.0 529.1,750.4 529.1,751.1 529.2,752.5 529.2,753.1 529.2,754.5 529.2,755.2 529.2,755.2 529.2,756.9 529.2,757.6 529.3,758.0 529.3,758.6 529.3,758.9 529.3,759.8 529.4,761.6 529.4,763.2 529.4,765.2 529.5,766.1 529.5,767.8 529.6,768.6 529.6,769.8 529.7,769.7 529.7,771.4 529.8,771.7 529.9,772.5 529.9,772.6 530.0,773.8 530.0,774.2 530.1,775.3 530.2,775.9 530.3,776.2 530.4,777.4 530.5,779.0 530.6,779.4 530.7,781.0 530.7,781.7 530.8,782.8 530.9,783.3 531.0,784.4 531.1,785.4 531.2,786.7 531.3,786.9 531.4,788.5 531.5,789.2 531.6,790.7 531.7,791.3 531.8,792.4 531.9,793.5 532.0,795.4 532.1,795.8 532.2,797.6 532.3,798.5 532.4,799.0 532.5,800.5 532.7,800.9 532.8,803.1 532.9,803.8 533.0,804.3 533.1,805.8 533.2,806.8 533.3,808.0 533.4,808.6 533.5,810.3 533.6,810.9 533.7,811.1 533.8,812.9 533.9,813.9 534.0,814.4 534.2,816.1 534.3,817.4 534.4,818.6 534.5,818.7 534.7,820.7 534.8,821.0 534.9,822.7 535.0,823.5 535.1,824.2 535.3,825.7 535.4,826.6 535.5,827.7 535.6,828.6 535.7,829.1 535.9,830.2 536.0,831.1 536.1,831.7 536.3,832.7 536.4,833.7 536.6,834.4 536.7,835.4 536.9,837.1 537.0,838.2 537.1,839.0 537.3,840.1 537.4,840.9 537.6,842.0 537.7,843.2 537.9,843.5 538.0,845.0 538.2,846.7 538.4,846.8 538.5,848.2 538.7,848.8 538.9,850.0 539.1,851.7 539.3,851.8 539.5,853.7 539.7,854.6 539.9,855.7 540.1,855.9 540.4,857.6 540.6,857.8 540.9,859.0 541.3,860.7 541.6,861.2 542.0,862.4 542.3,862.7 542.7,863.6 543.1,864.9 543.5,865.6 543.9,867.4 544.4,867.7 544.8,869.4 545.2,870.0 545.7,870.3 546.1,871.7 546.6,872.1 547.0,873.2 547.4,873.4 547.9,875.1 548.5,876.0 549.0,876.7 549.6,877.8 550.2,878.3 550.8,878.9 551.4,879.9 552.0,881.3 552.6,881.8 553.2,882.1 553.9,882.9 554.6,883.9 555.3,884.0 556.0,884.7 556.8,885.7 557.6,885.9 558.4,887.3 559.3,886.9 560.2,888.1 561.1,888.6 562.1,888.4 563.0,889.0 564.0,889.9 565.0,889.7 566.0,889.7 567.0,890.7 568.0,890.2 569.0,891.3 570.0,890.8 571.0,891.2 572.1,891.3 573.3,892.0 574.5,892.5 575.7,892.5 576.9,892.1 578.1,893.2 579.3,893.1 580.4,893.0 581.5,893.5 582.4,892.8 583.3,893.5 584.0,893.8 584.6,893.9" fill="none" stroke="#008000" stroke-width="3.4" stroke-linejoin="round" />
<polyline points="97.3,899.5 97.9,898.8 98.5,899.3 99.3,899.0 100.1,899.4 101.0,899.2 101.9,899.2 102.9,899.3 104.0,899.4 105.1,899.7 106.2,899.0 107.4,899.0 108.6,898.9 109.8,898.8 111.0,899.7 112.2,899.7 113.4,898.8 114.6,899.1 115.7,899.7 116.9,899.7 118.0,899.8 119.0,899.8 120.0,899.0 121.1,898.7 122.1,898.9 123.2,899.2 124.2,898.6 125.2,898.9 126.3,899.1 127.3,899.4 128.3,898.7 129.3,898.7 130.3,898.9 131.3,898.6 132.3,898.6 133.3,898.6 134.3,899.4 135.2,899.5 136.2,898.5 137.2,899.4 138.1,899.4 139.1,899.2 140.0,898.8 141.1,899.4 142.3,898.5 143.4,898.4 144.5,899.5 145.7,898.6 146.8,899.4 148.0,899.2 149.1,898.3 150.2,898.4 151.3,899.0 152.3,898.4 153.3,899.0 154.3,899.0 155.2,898.4 156.1,898.7 156.9,898.3 157.7,899.0 159.3,898.6 160.6,898.6 161.6,898.4 162.5,897.5 163.3,898.3 164.1,898.0 165.0,897.5 166.1,897.4 167.3,897.0 168.4,897.1 169.4,896.5 170.5,895.9 171.6,895.7 172.5,894.9 173.5,894.3 174.4,894.4 175.4,894.3 176.3,893.5 177.2,892.3 178.0,892.0 178.8,891.3 179.5,890.4 180.2,889.3 180.8,888.4 181.4,887.7 182.1,887.1 182.7,886.0 183.8,885.6 185.0,885.0 186.0,884.0 186.9,883.7 187.8,883.5 188.4,883.2 189.0,881.0 189.1,880.2 189.2,880.5 189.3,879.6 189.4,878.5 189.5,878.3 189.6,878.0 189.7,876.4 189.8,876.2 189.9,875.9 190.0,874.3 190.1,874.1 190.2,873.0 190.3,871.4 190.4,870.1 190.4,869.7 190.5,868.0 190.6,866.5 190.7,865.2 190.8,863.9 190.9,862.3 191.0,860.5 191.0,859.6 191.1,858.2 191.1,857.7 191.1,856.5 191.2,856.0 191.2,855.4 191.2,854.4 191.2,853.9 191.3,852.7 191.3,852.4 191.3,851.3 191.4,850.2 191.4,849.8 191.4,848.5 191.5,847.2 191.5,847.2 191.5,846.1 191.5,845.3 191.6,843.6 191.6,842.6 191.6,842.1 191.7,840.4 191.7,840.4 191.7,839.0 191.7,837.8 191.8,836.2 191.8,835.4 191.8,834.5 191.9,834.1 191.9,832.0 191.9,831.5 191.9,829.8 192.0,829.7 192.0,828.4 192.0,827.3 192.1,826.2 192.1,824.4 192.1,823.3 192.1,822.0 192.2,821.5 192.2,819.8 192.2,818.9 192.3,817.7 192.3,817.5 192.3,816.3 192.4,814.6 192.4,814.3 192.4,812.2 192.4,811.1 192.5,810.3 192.5,809.7 192.5,807.8 192.6,807.6 192.6,806.2 192.6,805.5 192.7,803.9 192.7,802.5 192.7,801.5 192.8,801.3 192.8,800.0 192.8,799.3 192.9,797.6 192.9,796.7 192.9,795.6 193.0,795.4 193.0,794.2 193.0,792.5 193.1,792.1 193.1,790.3 193.1,789.7 193.2,788.4 193.2,788.0 193.2,786.9 193.3,785.8 193.3,784.2 193.3,782.9 193.4,782.6 193.4,781.6 193.4,779.7 193.5,779.7 193.5,778.7 193.6,777.0 193.6,776.1 193.6,775.2 193.7,774.5 193.7,773.1 193.7,771.9 193.8,771.2 193.8,769.8 193.8,768.2 193.9,767.8 193.9,766.6 193.9,765.4 194.0,764.5 194.0,763.2 194.1,762.3 194.1,761.8 194.1,761.0 194.2,759.5 194.2,758.9 194.2,757.1 194.3,756.5 194.3,755.8 194.4,754.9 194.4,753.5 194.4,752.2 194.5,752.2 194.5,750.9 194.6,750.0 194.6,748.7 194.6,747.5 194.7,747.1 194.7,746.0 194.8,745.7 194.8,744.5 194.8,743.7 194.9,742.6 194.9,742.0 195.0,740.4 195.0,740.6 195.1,738.9 195.1,737.7 195.2,736.0 195.3,734.7 195.3,734.2 195.4,733.1 195.4,731.9 195.5,730.3 195.6,729.5 195.6,728.8 195.7,727.5 195.8,726.8 195.8,724.8 195.9,724.6 196.0,722.6 196.1,722.4 196.1,721.3 196.2,719.7 196.3,719.2 196.3,718.5 196.4,717.8 196.5,715.9 196.5,715.5 196.6,714.9 196.7,713.1 196.8,713.2 196.8,712.3 196.9,710.7 197.0,709.6 197.1,708.6 197.1,707.8 197.2,707.1 197.3,706.6 197.3,706.0 197.4,704.6 197.5,704.2 197.6,702.6 197.6,702.0 197.7,700.3 197.8,699.9 197.9,698.3 198.0,697.3 198.1,696.9 198.2,694.8 198.3,693.8 198.4,692.8 198.5,691.6 198.6,689.7 198.7,688.5 198.8,687.9 198.9,686.3 199.0,684.6 199.1,683.8 199.2,682.5 199.3,682.0 199.4,679.6 199.5,678.6 199.6,677.3 199.7,676.8 199.8,676.2 199.9,674.9 200.0,673.1 200.2,672.7 200.3,671.6 200.4,671.5 200.5,670.4 200.5,669.6 200.6,668.6 200.7,668.3 200.8,667.9 200.9,667.3 201.0,667.3 201.1,666.5 201.2,666.8 201.3,667.6 201.5,667.1 201.6,667.7 201.7,668.6 201.8,669.5 201.9,670.3 202.0,670.8 202.1,672.3 202.2,672.9 202.3,674.7 202.4,675.3 202.5,676.8 202.6,678.2 202.7,679.8 202.8,681.7 202.9,682.2 203.0,684.6 203.1,685.0 203.2,687.3 203.3,688.5 203.4,689.1 203.5,690.4 203.6,691.6 203.7,692.0 203.8,693.4 204.0,693.4 204.1,695.2 204.2,695.9 204.3,697.0 204.4,697.1 204.5,697.9 204.6,699.3 204.7,700.3 204.9,701.3 205.0,701.6 205.1,703.1 205.2,704.6 205.3,704.8 205.4,706.6 205.5,708.0 205.6,708.9 205.7,709.9 205.8,710.7 205.8,711.6 205.9,712.0 205.9,712.8 206.0,713.9 206.0,714.7 206.1,716.5 206.1,716.8 206.2,718.4 206.2,719.0 206.3,720.4 206.3,721.4 206.4,722.2 206.4,722.9 206.5,723.6 206.5,725.1 206.6,725.8 206.6,727.5 206.7,727.6 206.7,729.4 206.8,730.1 206.8,731.3 206.9,732.5 206.9,734.1 207.0,735.2 207.0,735.5 207.1,737.2 207.1,738.3 207.2,738.8 207.2,739.9 207.3,740.6 207.3,742.3 207.4,743.0 207.4,744.3 207.5,745.5 207.6,746.1 207.6,747.2 207.7,748.1 207.7,748.6 207.8,750.0 207.8,750.5 207.9,751.6 207.9,753.6 208.0,753.9 208.0,754.6 208.1,756.0 208.1,756.5 208.2,758.2 208.2,758.8 208.3,759.7 208.3,761.3 208.4,762.6 208.5,762.5 208.5,764.4 208.6,765.2 208.6,766.1 208.7,767.0 208.7,767.5 208.8,768.9 208.9,770.1 208.9,770.9 209.0,772.7 209.1,772.9 209.1,774.5 209.2,775.5 209.3,776.4 209.4,777.0 209.4,778.0 209.5,779.4 209.6,779.5 209.7,780.7 209.8,781.5 209.9,783.1 210.0,784.1 210.1,785.8 210.2,786.8 210.3,787.2 210.4,788.4 210.5,789.0 210.6,790.8 210.7,791.6 210.8,792.2 211.0,794.1 211.1,794.2 211.2,795.4 211.3,796.8 211.4,798.4 211.5,798.4 211.7,799.6 211.8,801.3 211.9,801.7 212.0,803.5 212.2,803.4 212.3,804.6 212.4,805.7 212.5,807.3 212.7,807.4 212.8,809.0 212.9,810.2 213.0,811.3 213.2,812.0 213.3,812.0 213.4,813.4 213.6,814.2 213.7,815.3 213.9,816.5 214.1,818.3 214.2,819.2 214.4,819.7 214.6,821.0 214.7,821.8 214.9,823.9 215.1,824.7 215.3,825.4 215.4,827.0 215.6,828.1 215.8,828.1 216.0,829.2 216.1,830.1 216.3,831.5 216.5,832.4 216.6,833.3 216.8,834.5 217.0,835.1 217.1,835.7 217.3,837.0 217.4,838.2 217.6,838.0 217.8,839.7 218.0,840.4 218.2,842.2 218.4,842.9 218.5,844.4 218.7,845.2 218.9,846.5 219.0,847.0 219.2,847.9 219.3,849.3 219.5,850.0 219.7,850.4 219.9,851.0 220.1,852.9 220.4,852.8 220.6,854.7 220.9,855.7 221.2,856.4 221.5,857.8 221.9,858.4 222.3,859.6 222.6,860.5 223.0,861.1 223.5,862.0 223.9,863.8 224.3,864.5 224.7,865.2 225.2,866.7 225.6,867.3 226.0,868.3 226.4,869.9 226.8,870.5 227.2,871.4 227.6,872.3 228.2,873.0 228.7,874.1 229.3,875.0 229.8,875.7 230.3,877.0 230.8,877.8 231.4,877.8 232.0,879.0 232.6,879.2 233.4,879.7 234.0,881.2 234.8,882.0 235.5,882.2 236.3,883.7 237.1,884.1 238.0,884.4 238.8,885.6 239.7,886.4 240.5,886.2 241.3,887.7 242.1,887.7 242.8,888.0 243.5,888.5 244.8,889.1 245.8,889.3 246.8,889.0 247.7,888.5 248.8,889.0 250.0,889.1 250.8,889.1 251.7,888.7 252.6,889.3 253.5,888.3 254.5,888.4 255.5,888.3 256.5,889.0 257.6,889.0 258.8,888.6 260.0,889.0 260.9,888.4 261.7,888.5 262.7,889.6 263.6,889.5 264.6,888.6 265.6,889.3 266.6,889.1 267.6,889.2 268.6,889.6 269.7,889.4 270.7,889.8 271.8,889.5 272.9,889.8 273.9,889.0 275.0,889.9 276.0,889.4 277.0,890.2 278.0,890.2 279.0,890.5 280.0,890.4 281.0,890.1 282.0,890.5 283.0,890.9 284.1,890.2 285.1,891.0 286.2,891.2 287.3,891.5 288.4,891.3 289.5,891.7 290.6,892.0 291.8,891.8 292.7,892.2 293.7,892.6 294.7,892.1 295.7,892.5 296.8,892.6 297.8,893.2 298.9,892.7 300.0,892.8 301.1,893.1 302.2,893.6 303.3,893.2 304.4,894.3 305.5,893.8 306.5,894.2 307.5,893.9 308.5,893.5 309.4,894.0 310.3,894.2 311.2,893.6 312.0,894.7 312.7,894.1 314.1,893.7 315.2,892.8 316.2,892.5 317.0,892.1 317.8,891.8 318.5,890.5 319.1,890.1 319.7,889.0 320.3,888.6 321.0,887.9 321.6,887.0 322.2,886.5 322.8,885.5 323.3,884.0 323.8,883.8 324.4,882.7 324.9,882.1 325.4,881.4 325.9,879.7 326.4,879.4 327.0,877.7 327.5,877.4 328.0,875.7 328.5,875.9 329.0,874.5 329.5,873.6 330.1,872.8 330.6,871.7 331.1,870.7 331.6,870.3 332.1,869.4 332.6,867.9 333.1,867.3 333.6,867.3 334.2,865.5 334.8,864.6 335.4,863.9 335.9,862.8 336.5,862.5 337.0,861.7 337.5,859.8 338.0,859.1 338.5,858.3 339.0,857.9 339.7,856.6 340.4,856.1 341.1,855.4 341.7,853.7 342.3,853.0 343.0,852.8 344.0,853.3 345.1,854.0 346.1,855.3 347.0,855.8 348.4,856.9 349.5,855.6 349.6,855.0 349.7,853.7 349.8,853.3 349.9,852.0 349.9,851.7 350.0,851.2 350.0,850.3 350.1,848.4 350.1,847.4 350.2,847.1 350.2,845.7 350.3,844.5 350.3,842.3 350.4,841.6 350.5,839.4 350.5,839.6 350.6,838.9 350.6,837.7 350.7,836.7 350.7,836.9 350.8,836.6 350.8,835.6 350.9,834.7 350.9,834.0 351.0,834.0 351.0,833.5 351.1,832.1 351.1,831.3 351.2,831.5 351.3,830.1 351.3,829.3 351.4,828.3 351.4,827.8 351.5,827.2 351.6,825.5 351.6,824.8 351.7,823.1 351.8,821.8 351.8,820.9 351.9,819.6 352.0,817.8 352.1,816.0 352.1,814.4 352.2,812.6 352.3,810.5 352.3,809.4 352.4,808.5 352.4,807.4 352.4,807.3 352.4,806.3 352.5,805.2 352.5,805.6 352.5,804.0 352.6,803.9 352.6,802.0 352.6,801.6 352.6,801.3 352.7,800.3 352.7,799.4 352.7,798.3 352.8,796.9 352.8,796.9 352.8,795.9 352.9,794.6 352.9,793.8 352.9,793.1 353.0,791.8 353.0,790.8 353.0,789.8 353.1,789.1 353.1,788.1 353.1,786.6 353.2,786.1 353.2,784.6 353.2,783.9 353.3,782.5 353.3,782.1 353.3,781.1 353.4,779.8 353.4,778.3 353.4,777.2 353.5,776.2 353.5,775.3 353.5,773.5 353.6,773.0 353.6,772.3 353.6,770.2 353.7,770.1 353.7,768.6 353.8,767.9 353.8,766.5 353.8,765.4 353.9,764.3 353.9,762.7 353.9,761.2 354.0,761.0 354.0,759.9 354.0,758.5 354.1,756.8 354.1,756.0 354.2,754.9 354.2,753.6 354.2,752.6 354.3,751.4 354.3,750.9 354.3,749.3 354.4,748.6 354.4,747.4 354.4,745.4 354.5,745.0 354.5,743.4 354.6,742.6 354.6,741.4 354.6,740.5 354.7,738.9 354.7,738.3 354.7,736.8 354.8,736.2 354.8,734.8 354.8,733.9 354.9,733.3 354.9,731.4 355.0,730.0 355.0,730.0 355.0,728.6 355.1,727.7 355.1,726.9 355.1,726.0 355.2,724.4 355.2,724.1 355.2,722.4 355.3,721.9 355.3,721.1 355.3,719.6 355.4,718.7 355.4,717.7 355.4,716.8 355.5,716.0 355.5,715.7 355.5,713.9 355.6,714.1 355.6,713.0 355.6,711.5 355.7,710.3 355.7,708.6 355.8,707.9 355.8,706.8 355.9,705.0 355.9,703.9 356.0,702.3 356.0,701.2 356.1,700.7 356.1,699.2 356.2,697.8 356.2,696.9 356.3,695.2 356.3,693.8 356.4,693.1 356.4,692.2 356.5,690.6 356.5,689.9 356.6,688.5 356.6,687.3 356.7,686.8 356.7,685.3 356.8,684.7 356.8,683.6 356.9,682.1 356.9,680.6 357.0,680.6 357.0,679.2 357.1,678.2 357.1,677.3 357.2,676.1 357.2,675.6 357.3,673.5 357.3,673.7 357.3,672.3 357.4,671.1 357.4,670.7 357.5,669.8 357.5,668.5 357.6,666.8 357.6,666.7 357.7,665.5 357.7,664.8 357.8,664.2 357.8,662.5 357.8,662.5 357.9,661.0 357.9,660.0 358.0,658.9 358.0,658.2 358.1,657.5 358.1,657.0 358.2,656.7 358.2,655.0 358.2,654.3 358.3,653.7 358.3,653.2 358.4,652.1 358.4,651.7 358.5,650.3 358.5,649.5 358.6,648.5 358.7,647.1 358.8,644.8 358.8,643.2 358.9,642.4 359.0,640.1 359.1,639.7 359.2,637.9 359.2,635.8 359.3,634.7 359.4,633.0 359.5,631.7 359.5,630.8 359.6,630.2 359.7,629.1 359.8,627.8 359.8,626.6 359.9,625.6 360.0,624.7 360.1,624.0 360.2,623.1 360.2,622.4 360.3,622.4 360.4,621.3 360.5,621.1 360.5,621.2 360.6,621.4 360.7,620.7 360.8,620.9 360.9,621.1 360.9,621.1 361.0,621.6 361.1,622.5 361.1,622.3 361.2,623.2 361.3,623.6 361.3,624.7 361.4,625.7 361.5,625.7 361.5,627.0 361.6,627.6 361.7,629.1 361.7,630.2 361.8,630.7 361.9,631.8 361.9,633.0 362.0,634.2 362.1,636.1 362.1,637.2 362.2,638.4 362.3,639.2 362.3,640.5 362.4,641.5 362.5,643.1 362.5,644.9 362.6,645.2 362.7,646.9 362.8,647.9 362.8,650.0 362.9,650.6 363.0,652.0 363.1,652.7 363.1,654.7 363.2,655.7 363.3,657.1 363.3,658.2 363.4,659.3 363.5,659.7 363.6,660.7 363.6,662.1 363.7,662.4 363.8,664.4 363.9,665.1 364.0,665.7 364.0,666.5 364.1,667.1 364.2,668.6 364.3,669.8 364.3,669.9 364.4,670.8 364.5,672.4 364.6,673.1 364.7,674.4 364.7,674.9 364.8,676.5 364.9,677.3 365.0,677.5 365.1,678.7 365.1,679.7 365.2,680.5 365.3,681.9 365.4,682.8 365.5,683.9 365.6,684.2 365.6,685.5 365.7,686.6 365.8,687.6 365.9,688.0 366.0,690.0 366.0,690.6 366.1,691.4 366.2,693.3 366.3,694.1 366.4,695.5 366.5,696.6 366.5,697.7 366.6,699.3 366.7,699.5 366.8,700.6 366.8,701.3 366.9,702.7 366.9,703.1 367.0,703.8 367.0,704.8 367.1,705.8 367.1,707.2 367.2,708.1 367.2,709.0 367.3,709.5 367.3,711.1 367.4,711.7 367.4,712.6 367.5,713.5 367.5,714.7 367.6,716.0 367.7,716.8 367.7,718.2 367.8,718.9 367.8,720.6 367.9,721.8 367.9,722.2 368.0,723.0 368.0,725.2 368.1,725.2 368.1,726.9 368.2,728.1 368.2,728.9 368.3,730.5 368.3,730.7 368.4,732.4 368.4,733.7 368.5,734.8 368.6,735.8 368.6,736.4 368.7,737.6 368.7,739.0 368.8,739.5 368.8,740.4 368.9,741.2 368.9,742.5 369.0,743.4 369.1,745.4 369.1,745.7 369.2,746.8 369.2,748.5 369.3,749.2 369.3,749.9 369.4,750.5 369.5,751.7 369.5,752.6 369.6,754.3 369.6,754.6 369.7,756.2 369.8,756.3 369.8,756.9 369.9,758.8 369.9,758.6 370.0,760.3 370.1,761.4 370.2,762.2 370.3,764.1 370.4,764.8 370.5,766.6 370.6,767.3 370.7,768.9 370.8,770.0 370.9,770.5 371.0,772.0 371.1,773.1 371.2,774.1 371.3,774.4 371.4,776.3 371.5,777.4 371.7,777.8 371.8,778.7 371.9,779.7 372.0,781.3 372.1,781.7 372.2,783.6 372.3,784.0 372.4,785.7 372.5,786.3 372.7,786.9 372.8,787.5 372.9,788.7 373.0,789.9 373.1,791.1 373.2,792.0 373.3,792.2 373.4,792.7 373.5,794.3 373.6,795.2 373.7,796.0 373.8,797.1 373.9,797.9 374.0,798.5 374.1,799.6 374.2,799.6 374.3,801.8 374.5,802.7 374.6,803.2 374.8,804.4 374.9,806.1 375.0,806.8 375.1,808.6 375.3,808.8 375.4,810.1 375.5,811.1 375.6,812.6 375.7,812.7 375.9,814.4 376.0,815.1 376.1,815.8 376.2,817.2 376.3,818.0 376.5,818.7 376.6,819.4 376.7,819.7 376.9,820.8 377.0,822.3 377.2,822.6 377.3,824.2 377.5,824.8 377.7,825.9 377.8,827.4 378.0,828.5 378.2,829.4 378.4,830.1 378.6,831.2 378.8,832.8 379.0,833.8 379.2,834.5 379.4,834.9 379.6,837.0 379.8,837.0 380.1,838.1 380.3,839.8 380.5,840.3 380.7,842.0 380.9,842.9 381.1,843.3 381.3,845.1 381.6,846.2 381.8,846.7 382.0,848.1 382.2,848.7 382.4,849.2 382.6,850.5 382.9,851.8 383.2,852.7 383.5,853.1 383.7,854.5 384.0,856.0 384.3,856.6 384.5,857.4 384.8,858.7 385.1,859.3 385.4,860.6 385.7,861.1 385.9,862.7 386.3,863.0 386.6,864.7 386.9,864.6 387.2,866.1 387.6,867.0 388.1,867.5 388.5,869.0 389.0,869.9 389.5,871.0 390.0,871.4 390.6,872.7 391.1,874.0 391.6,874.7 392.2,875.1 392.8,876.0 393.3,877.5 393.9,877.3 394.5,878.6 395.1,879.4 395.8,880.2 396.6,880.5 397.3,881.5 398.1,883.2 398.9,883.6 399.7,884.1 400.5,885.0 401.3,885.2 402.1,885.9 402.8,887.3 403.6,887.6 404.3,887.3 405.5,887.9 406.6,887.7 407.7,887.8 408.8,887.8 409.8,887.8 410.9,887.2 412.0,887.4 412.9,887.5 413.8,886.8 414.7,886.0 415.5,885.9 416.5,886.4 417.5,885.6 418.7,886.5 420.0,885.5 420.8,885.5 421.7,886.7 422.6,886.0 423.5,886.3 424.5,886.4 425.5,886.0 426.6,886.3 427.7,886.5 428.7,887.1 429.8,887.3 430.9,887.3 432.0,886.8 433.0,887.2 434.0,887.9 435.0,887.1 436.1,887.4 437.1,887.8 438.1,888.4 439.0,887.3 439.9,888.2 440.8,888.0 441.8,888.1 442.8,888.6 443.8,887.8 445.0,888.5 446.2,888.3 447.5,888.9 448.9,889.1 449.7,888.8 450.6,888.6 451.5,889.4 452.5,889.5 453.5,889.5 454.6,889.8 455.7,890.2 456.8,889.6 457.9,890.3 459.1,890.6 460.3,890.1 461.4,891.0 462.6,890.5 463.7,891.4 464.9,891.1 466.0,891.7 467.1,891.8 468.1,891.8 469.1,891.4 470.1,891.6 471.0,891.8 471.9,892.2 472.6,891.7 473.4,892.4 474.0,891.6 476.3,891.8 477.4,890.9 477.9,890.2 478.3,889.6 479.0,888.5 479.7,888.5 480.5,887.9 481.3,887.0 482.1,886.8 482.8,885.6 483.6,884.9 484.4,883.1 484.9,882.6 485.4,881.4 485.9,880.7 486.4,880.5 486.9,878.7 487.3,878.2 487.9,876.9 488.4,876.2 488.9,875.4 489.4,874.4 490.0,873.6 490.5,872.7 491.1,871.2 491.6,871.1 492.2,870.0 492.8,868.6 493.4,867.8 494.0,867.2 494.6,866.8 495.2,865.0 495.8,865.1 496.4,863.9 497.0,862.8 497.5,861.7 498.0,860.8 498.5,859.8 499.0,859.1 499.5,857.6 500.1,856.8 500.6,855.9 501.1,853.8 501.6,852.7 502.1,852.8 502.6,851.0 503.1,851.0 503.5,849.8 503.9,849.1 504.3,848.5 505.1,849.0 505.9,850.1 506.5,851.0 507.0,852.5 507.5,854.2 508.0,855.5 508.5,855.7 508.9,855.7 509.3,855.6 509.6,854.0 510.0,850.3 510.0,849.2 510.1,848.7 510.1,848.3 510.2,847.4 510.2,847.0 510.2,846.7 510.3,845.8 510.3,844.5 510.3,844.2 510.4,843.8 510.4,842.6 510.4,842.1 510.5,841.5 510.5,840.5 510.5,839.5 510.6,839.5 510.6,837.7 510.6,837.9 510.7,836.0 510.7,835.7 510.7,834.8 510.8,833.7 510.8,833.0 510.8,832.4 510.9,830.7 510.9,829.4 510.9,828.6 511.0,828.3 511.0,827.0 511.0,826.1 511.1,824.5 511.1,823.3 511.1,822.6 511.2,821.3 511.2,820.6 511.3,818.5 511.3,817.5 511.4,816.7 511.4,815.7 511.5,813.9 511.5,813.0 511.6,810.8 511.6,810.1 511.7,808.4 511.7,807.5 511.8,805.6 511.8,804.0 511.9,802.7 511.9,801.8 512.0,800.3 512.0,799.7 512.1,798.4 512.1,797.2 512.1,797.3 512.2,795.8 512.2,795.5 512.2,794.4 512.3,793.5 512.3,792.2 512.3,791.6 512.4,791.3 512.4,790.1 512.5,789.7 512.5,788.7 512.5,787.5 512.6,787.1 512.6,785.0 512.7,784.5 512.7,783.7 512.7,782.2 512.8,782.2 512.8,780.4 512.9,779.9 512.9,778.5 513.0,777.7 513.0,776.8 513.1,775.5 513.1,774.4 513.1,774.0 513.2,772.9 513.2,771.2 513.3,771.2 513.3,769.1 513.4,768.2 513.4,767.2 513.5,766.3 513.5,765.4 513.6,764.8 513.6,762.8 513.7,762.2 513.7,761.2 513.8,759.7 513.8,758.7 513.8,757.8 513.9,757.2 513.9,756.0 514.0,754.5 514.0,752.9 514.1,752.2 514.1,751.6 514.2,750.1 514.2,748.9 514.3,748.1 514.3,746.3 514.4,745.9 514.4,744.9 514.5,743.1 514.5,742.3 514.6,741.8 514.6,740.0 514.7,739.2 514.7,737.9 514.8,737.0 514.8,735.7 514.9,734.6 514.9,734.2 515.0,732.8 515.0,732.1 515.0,730.2 515.1,729.3 515.1,728.1 515.2,727.7 515.2,726.0 515.3,725.3 515.3,723.7 515.4,723.1 515.4,721.7 515.5,721.4 515.5,719.7 515.5,719.4 515.6,717.9 515.6,716.7 515.7,715.9 515.7,715.4 515.7,714.1 515.8,713.3 515.8,712.0 515.9,711.1 515.9,709.5 515.9,709.4 516.0,708.2 516.0,707.3 516.1,706.0 516.1,705.6 516.1,704.4 516.2,703.3 516.2,703.2 516.2,702.0 516.3,701.1 516.3,700.4 516.3,699.0 516.4,697.4 516.4,696.9 516.5,695.7 516.5,694.2 516.6,692.7 516.6,691.6 516.6,689.9 516.7,689.7 516.7,688.4 516.8,687.0 516.8,685.7 516.8,684.9 516.9,682.8 516.9,682.1 516.9,680.8 517.0,680.1 517.0,678.6 517.0,677.8 517.1,677.0 517.1,675.3 517.1,673.8 517.1,672.6 517.2,672.5 517.2,670.9 517.2,669.8 517.3,668.2 517.3,667.3 517.3,666.1 517.3,666.1 517.4,664.0 517.4,663.3 517.4,662.4 517.4,661.5 517.5,660.0 517.5,659.5 517.5,658.5 517.5,657.9 517.6,655.9 517.6,655.1 517.6,653.9 517.6,653.1 517.7,652.1 517.7,650.9 517.7,650.9 517.8,649.3 517.8,649.0 517.8,648.1 517.8,647.2 517.9,645.4 517.9,645.1 517.9,644.6 517.9,643.4 518.0,642.5 518.0,641.5 518.0,641.1 518.1,639.9 518.1,638.9 518.1,638.2 518.2,637.4 518.2,636.3 518.2,636.1 518.2,635.5 518.3,634.5 518.3,633.0 518.4,632.7 518.4,632.4 518.4,631.0 518.5,630.7 518.5,630.2 518.6,628.2 518.7,626.2 518.8,624.1 518.9,623.2 519.1,620.9 519.2,619.8 519.3,618.2 519.4,617.0 519.6,614.8 519.7,614.5 519.8,613.0 520.0,611.9 520.1,609.9 520.2,609.5 520.4,608.2 520.5,607.7 520.6,606.9 520.7,605.8 520.9,605.8 521.0,604.7 521.1,604.3 521.2,604.3 521.4,603.4 521.5,604.2 521.6,603.6 521.7,604.4 521.8,603.7 521.8,603.9 521.9,604.9 522.0,604.9 522.1,605.7 522.1,606.0 522.2,607.4 522.3,608.2 522.3,609.0 522.4,609.2 522.5,610.1 522.5,611.7 522.6,612.2 522.6,614.0 522.7,615.0 522.8,616.6 522.8,617.7 522.9,618.7 522.9,620.2 523.0,621.1 523.1,622.1 523.1,623.1 523.2,625.2 523.2,626.4 523.3,627.7 523.4,628.8 523.4,630.0 523.5,631.8 523.5,632.4 523.6,633.3 523.7,635.4 523.7,636.3 523.8,637.5 523.9,638.7 523.9,639.0 524.0,639.6 524.1,641.1 524.2,642.2 524.3,643.2 524.4,644.8 524.5,645.2 524.5,647.1 524.6,647.2 524.7,648.3 524.8,650.0 524.9,650.2 525.0,651.8 525.1,652.2 525.2,653.4 525.3,654.4 525.4,655.1 525.5,656.7 525.6,657.8 525.7,658.8 525.8,658.8 525.9,659.6 526.0,661.1 526.1,662.4 526.2,663.2 526.3,664.7 526.3,665.7 526.4,666.4 526.5,667.0 526.6,668.2 526.7,668.8 526.7,670.1 526.8,671.6 526.9,672.1 527.0,673.0 527.0,674.4 527.1,675.9 527.2,676.7 527.2,677.1 527.3,678.6 527.4,679.4 527.4,681.2 527.5,681.9 527.6,683.0 527.6,684.6 527.7,685.0 527.8,686.2 527.8,687.9 527.9,688.2 527.9,689.5 528.0,690.7 528.1,691.4 528.1,692.7 528.2,693.5 528.2,694.9 528.3,695.6 528.3,696.7 528.4,697.5 528.4,698.5 528.5,699.0 528.5,699.6 528.6,701.1 528.6,702.2 528.7,702.9 528.7,704.8 528.7,705.4 528.8,706.2 528.8,707.3 528.8,707.4 528.8,708.2 528.9,709.7 528.9,709.7 528.9,711.6 528.9,712.0 528.9,713.5 529.0,714.3 529.0,714.8 529.0,715.8 529.1,717.2 529.1,718.9 529.2,720.0 529.2,721.0 529.3,722.2 529.3,722.7 529.3,723.3 529.4,724.5 529.4,725.1 529.4,726.2 529.5,726.9 529.5,728.6 529.6,729.6 529.6,730.2 529.7,731.2 529.7,731.8 529.7,733.4 529.8,734.9 529.8,735.2 529.9,737.0 529.9,737.5 530.0,739.1 530.0,739.7 530.1,741.2 530.1,742.6 530.2,742.8 530.2,744.9 530.3,745.6 530.3,746.4 530.4,747.5 530.4,748.9 530.5,750.2 530.5,750.6 530.6,751.4 530.6,752.6 530.7,754.1 530.7,754.8 530.8,756.1 530.8,757.0 530.9,757.4 530.9,758.5 531.0,758.8 531.0,760.1 531.1,761.6 531.2,762.4 531.2,764.2 531.3,764.6 531.4,766.7 531.5,767.1 531.5,768.5 531.6,769.0 531.7,769.3 531.7,770.7 531.8,771.3 531.9,771.8 532.0,773.0 532.1,774.0 532.2,774.7 532.3,775.1 532.4,777.0 532.5,778.0 532.6,778.6 532.8,780.5 532.9,781.4 533.0,781.5 533.1,782.2 533.2,783.2 533.4,784.4 533.5,785.0 533.6,786.1 533.7,787.7 533.9,787.9 534.0,789.6 534.2,790.4 534.3,791.9 534.5,792.4 534.6,793.8 534.8,794.6 534.9,795.4 535.1,797.5 535.2,798.1 535.4,799.1 535.5,800.9 535.7,801.4 535.8,802.6 536.0,803.2 536.1,804.6 536.3,806.2 536.4,807.2 536.5,808.2 536.7,809.3 536.8,809.5 536.9,810.2 537.1,811.2 537.2,812.7 537.3,813.5 537.5,814.5 537.6,816.1 537.8,816.7 537.9,818.3 538.0,819.1 538.1,819.8 538.2,821.6 538.4,821.9 538.5,823.7 538.6,824.6 538.7,825.2 538.8,826.1 538.9,826.8 539.0,827.6 539.1,829.2 539.2,829.8 539.3,830.9 539.5,831.6 539.6,832.5 539.8,833.3 539.9,835.0 540.1,835.6 540.3,836.3 540.5,838.2 540.6,838.4 540.8,839.5 541.0,840.5 541.2,842.0 541.4,843.3 541.6,843.5 541.8,845.6 542.0,846.4 542.2,847.6 542.4,848.1 542.6,849.2 542.9,849.8 543.1,851.0 543.4,852.8 543.6,853.1 543.9,854.8 544.2,855.6 544.5,856.7 544.8,856.7 545.1,857.9 545.5,859.4 545.9,859.8 546.3,860.7 546.7,861.4 547.1,863.0 547.6,863.9 548.0,864.5 548.5,865.4 549.0,866.8 549.5,867.1 550.0,868.7 550.5,869.6 551.0,869.9 551.5,870.4 552.1,871.7 552.7,872.2 553.3,872.7 553.9,874.2 554.5,874.8 555.2,875.2 555.9,875.9 556.7,877.3 557.5,878.2 558.4,878.3 559.2,879.3 560.1,879.5 561.0,880.5 561.9,881.3 562.8,881.6 563.7,882.6 564.6,883.1 565.4,883.0 566.2,883.6 567.0,884.5 567.7,884.6 568.4,885.5 569.0,885.9 570.6,886.8 572.1,887.6 573.3,887.5 574.3,887.7 575.1,887.0 575.7,887.9" fill="none" stroke="#ff0000" stroke-width="3.4" stroke-linejoin="round" />
<line x1="97.3" y1="497.3" x2="600.3" y2="497.3" stroke="#000" stroke-width="1.8"/>
<line x1="97.3" y1="900.8" x2="600.3" y2="900.8" stroke="#000" stroke-width="1.8"/>
<line x1="600.3" y1="497.3" x2="608.7" y2="497.3" stroke="#7d7d7d" stroke-width="1.6"/>
<line x1="600.3" y1="900.8" x2="608.7" y2="900.8" stroke="#7d7d7d" stroke-width="1.6"/>
<line x1="608.7" y1="496.5" x2="608.7" y2="901.5999999999999" stroke="#7d7d7d" stroke-width="1.6"/>
<line x1="97.3" y1="496.40000000000003" x2="97.3" y2="901.6999999999999" stroke="#000" stroke-width="1.8"/>
<line x1="97.3" y1="867.17" x2="101.8" y2="867.17" stroke="#000" stroke-width="1.4"/>
<line x1="97.3" y1="833.55" x2="105.3" y2="833.55" stroke="#000" stroke-width="1.4"/>
<line x1="97.3" y1="799.92" x2="101.8" y2="799.92" stroke="#000" stroke-width="1.4"/>
<line x1="97.3" y1="766.30" x2="105.3" y2="766.30" stroke="#000" stroke-width="1.4"/>
<line x1="97.3" y1="732.67" x2="101.8" y2="732.67" stroke="#000" stroke-width="1.4"/>
<line x1="97.3" y1="699.05" x2="105.3" y2="699.05" stroke="#000" stroke-width="1.4"/>
<line x1="97.3" y1="665.42" x2="101.8" y2="665.42" stroke="#000" stroke-width="1.4"/>
<line x1="97.3" y1="631.80" x2="105.3" y2="631.80" stroke="#000" stroke-width="1.4"/>
<line x1="97.3" y1="598.17" x2="101.8" y2="598.17" stroke="#000" stroke-width="1.4"/>
<line x1="97.3" y1="564.55" x2="105.3" y2="564.55" stroke="#000" stroke-width="1.4"/>
<line x1="97.3" y1="530.92" x2="101.8" y2="530.92" stroke="#000" stroke-width="1.4"/>
<text x="88.3" y="909.6" font-family="'Liberation Sans', sans-serif" font-size="32" text-anchor="end">0</text>
<text x="88.3" y="842.3" font-family="'Liberation Sans', sans-serif" font-size="32" text-anchor="end">1</text>
<text x="88.3" y="775.1" font-family="'Liberation Sans', sans-serif" font-size="32" text-anchor="end">2</text>
<text x="88.3" y="707.8" font-family="'Liberation Sans', sans-serif" font-size="32" text-anchor="end">3</text>
<text x="88.3" y="640.6" font-family="'Liberation Sans', sans-serif" font-size="32" text-anchor="end">4</text>
<text x="88.3" y="573.3" font-family="'Liberation Sans', sans-serif" font-size="32" text-anchor="end">5</text>
<text x="88.3" y="506.1" font-family="'Liberation Sans', sans-serif" font-size="32" text-anchor="end">6</text>
<line x1="603.7" y1="871.98" x2="608.7" y2="871.98" stroke="#7d7d7d" stroke-width="1.4"/>
<line x1="599.7" y1="843.16" x2="608.7" y2="843.16" stroke="#7d7d7d" stroke-width="1.4"/>
<line x1="603.7" y1="814.34" x2="608.7" y2="814.34" stroke="#7d7d7d" stroke-width="1.4"/>
<line x1="599.7" y1="785.51" x2="608.7" y2="785.51" stroke="#7d7d7d" stroke-width="1.4"/>
<line x1="603.7" y1="756.69" x2="608.7" y2="756.69" stroke="#7d7d7d" stroke-width="1.4"/>
<line x1="599.7" y1="727.87" x2="608.7" y2="727.87" stroke="#7d7d7d" stroke-width="1.4"/>
<line x1="603.7" y1="699.05" x2="608.7" y2="699.05" stroke="#7d7d7d" stroke-width="1.4"/>
<line x1="599.7" y1="670.23" x2="608.7" y2="670.23" stroke="#7d7d7d" stroke-width="1.4"/>
<line x1="603.7" y1="641.41" x2="608.7" y2="641.41" stroke="#7d7d7d" stroke-width="1.4"/>
<line x1="599.7" y1="612.59" x2="608.7" y2="612.59" stroke="#7d7d7d" stroke-width="1.4"/>
<line x1="603.7" y1="583.76" x2="608.7" y2="583.76" stroke="#7d7d7d" stroke-width="1.4"/>
<line x1="599.7" y1="554.94" x2="608.7" y2="554.94" stroke="#7d7d7d" stroke-width="1.4"/>
<line x1="603.7" y1="526.12" x2="608.7" y2="526.12" stroke="#7d7d7d" stroke-width="1.4"/>
<text x="617.5" y="909.6" font-family="'Liberation Sans', sans-serif" font-size="32" fill="#7d7d7d">0.0</text>
<text x="617.5" y="852.0" font-family="'Liberation Sans', sans-serif" font-size="32" fill="#7d7d7d">0.2</text>
<text x="617.5" y="794.3" font-family="'Liberation Sans', sans-serif" font-size="32" fill="#7d7d7d">0.4</text>
<text x="617.5" y="736.7" font-family="'Liberation Sans', sans-serif" font-size="32" fill="#7d7d7d">0.6</text>
<text x="617.5" y="679.0" font-family="'Liberation Sans', sans-serif" font-size="32" fill="#7d7d7d">0.8</text>
<text x="617.5" y="621.4" font-family="'Liberation Sans', sans-serif" font-size="32" fill="#7d7d7d">1.0</text>
<text x="617.5" y="563.7" font-family="'Liberation Sans', sans-serif" font-size="32" fill="#7d7d7d">1.2</text>
<text x="617.5" y="506.1" font-family="'Liberation Sans', sans-serif" font-size="32" fill="#7d7d7d">1.4</text>
<text x="12.9" y="522.5" font-family="'Liberation Sans', sans-serif" font-size="48" letter-spacing="1.5">b)</text>
<text transform="translate(43.3,797.1) rotate(-90)" font-family="'Liberation Sans', sans-serif" font-size="40" fill="#000">Ir193 (µg/L)</text>
<text transform="translate(708,807.9) rotate(-90)" font-family="'Liberation Sans', sans-serif" font-size="40" fill="#7d7d7d">E (V vs RHE)</text>
<text x="298" y="944" font-family="'Liberation Sans', sans-serif" font-size="33">Time (s)</text>
<text x="209.7" y="525.3" font-family="'Liberation Sans', sans-serif" font-size="26.4" fill="#000">HCl</text>
<text x="209.7" y="556.5" font-family="'Liberation Sans', sans-serif" font-size="26.4" fill="#0000f0">Ethanol</text>
<text x="209.7" y="587.7" font-family="'Liberation Sans', sans-serif" font-size="26.4" fill="#008000">FA</text>
<text x="209.7" y="618.9" font-family="'Liberation Sans', sans-serif" font-size="26.4" fill="#ff0000">IPA</text>
<line x1="390.9" y1="532.1" x2="457" y2="532.1" stroke="#000" stroke-width="3.6"/>
<line x1="390.9" y1="524.5" x2="390.9" y2="541" stroke="#000" stroke-width="3.6" stroke-linecap="round"/>
<line x1="457" y1="524.5" x2="457" y2="541" stroke="#000" stroke-width="3.6" stroke-linecap="round"/>
<text x="387" y="521.5" font-family="'Liberation Sans', sans-serif" font-size="31" font-weight="bold">200 s</text>
<polyline points="92.1,1381.4 384.5,976.3 416.7,976.3 418.5,1150.0 420.6,1370.0 421.5,1378.0 424.5,1381.4 611.0,1381.3" fill="none" stroke="#7d7d7d" stroke-width="1.9" stroke-linejoin="miter" />
<line x1="384.1" y1="971.1" x2="384.1" y2="1384.6" stroke="#000" stroke-width="2.2" stroke-dasharray="11.2 11"/>
<line x1="415.6" y1="971.1" x2="415.6" y2="1384.6" stroke="#000" stroke-width="2.2" stroke-dasharray="11.2 11"/>
<polyline points="92.0,1379.0 92.6,1378.6 93.2,1378.8 94.0,1378.4 94.9,1378.2 95.8,1377.8 96.9,1378.0 97.9,1378.2 99.1,1378.2 100.2,1378.3 101.4,1377.7 102.6,1378.2 103.8,1377.4 105.0,1376.9 105.9,1377.4 106.9,1377.5 107.8,1377.7 108.8,1377.0 109.8,1376.7 110.9,1377.5 111.9,1376.9 113.0,1377.6 114.1,1377.2 115.1,1376.7 116.2,1377.1 117.3,1377.4 118.4,1376.8 119.4,1377.6 120.5,1376.6 121.6,1376.7 122.6,1377.2 123.6,1377.3 124.6,1377.3 125.6,1377.7 126.5,1376.8 127.5,1376.7 128.4,1377.3 129.4,1377.2 130.3,1377.3 131.3,1377.3 132.3,1378.0 133.3,1377.3 134.3,1377.9 135.4,1377.8 136.5,1377.5 137.6,1378.3 138.8,1377.6 140.0,1377.8 140.9,1377.7 141.7,1378.3 142.6,1378.4 143.5,1378.1 144.4,1377.8 145.3,1378.5 146.2,1378.2 147.2,1378.6 148.1,1378.8 149.1,1378.0 150.0,1378.2 151.0,1379.2 152.0,1379.3 153.0,1378.4 154.1,1378.7 155.1,1379.0 156.2,1379.5 157.2,1379.0 158.3,1379.8 159.4,1378.8 160.5,1379.9 161.7,1378.9 162.8,1379.6 164.0,1380.1 165.2,1379.9 166.1,1380.1 167.0,1379.5 167.8,1380.2 168.7,1380.2 169.6,1379.5 170.4,1380.1 171.3,1380.3 172.2,1379.5 173.1,1379.7 174.0,1380.2 174.9,1380.0 175.8,1380.4 176.7,1379.8 177.6,1379.9 178.5,1379.5 179.5,1379.7 180.4,1380.4 181.4,1379.7 182.4,1380.5 183.4,1380.4 184.4,1380.1 185.5,1379.8 186.5,1379.5 187.6,1379.6 188.7,1380.5 189.9,1380.6 191.0,1380.7 192.2,1379.8 193.4,1380.7 194.7,1380.1 196.0,1380.0 197.3,1380.7 198.6,1380.6 200.0,1380.4 200.8,1380.0 201.6,1379.7 202.5,1379.8 203.3,1380.0 204.2,1379.9 205.1,1380.3 206.0,1380.0 206.9,1379.9 207.8,1380.7 208.8,1380.1 209.8,1379.7 210.7,1379.7 211.7,1380.4 212.7,1379.8 213.8,1380.4 214.8,1379.8 215.8,1380.3 216.9,1380.5 217.9,1380.4 219.0,1380.1 220.0,1380.8 221.1,1381.0 222.2,1380.8 223.3,1381.0 224.3,1381.0 225.4,1380.3 226.5,1380.5 227.6,1380.4 228.7,1380.9 229.8,1380.1 230.9,1380.2 232.0,1380.5 233.1,1380.6 234.2,1381.1 235.3,1380.4 236.4,1380.0 237.5,1380.5 238.6,1381.0 239.7,1380.1 240.7,1380.6 241.8,1380.7 242.9,1381.0 243.9,1380.4 244.9,1380.8 246.0,1381.2 247.0,1381.2 248.0,1380.7 249.0,1380.5 250.0,1380.9 251.0,1381.0 252.0,1380.9 252.9,1380.9 253.9,1380.5 254.8,1381.0 255.7,1380.5 256.6,1380.4 257.5,1380.2 258.3,1380.8 259.2,1380.3 260.0,1380.4 261.3,1380.5 262.6,1380.5 263.9,1380.6 265.2,1381.3 266.4,1380.7 267.6,1380.7 268.9,1380.6 270.1,1380.7 271.3,1381.1 272.4,1380.7 273.6,1380.7 274.7,1380.5 275.9,1380.3 277.0,1380.3 278.1,1380.1 279.2,1380.4 280.2,1380.1 281.3,1380.5 282.3,1380.7 283.3,1380.1 284.3,1380.9 285.3,1380.5 286.2,1380.7 287.1,1380.4 288.1,1380.8 289.0,1380.7 289.8,1380.0 290.7,1380.5 291.6,1380.1 292.4,1380.7 293.2,1380.2 294.0,1380.0 294.7,1379.8 295.5,1380.9 296.2,1379.8 296.9,1379.9 297.6,1380.7 299.5,1379.6 301.1,1379.9 302.5,1379.9 303.6,1380.1 304.6,1380.1 305.4,1380.2 306.1,1379.3 306.8,1378.9 307.5,1378.9 308.2,1378.4 309.1,1378.5 310.0,1378.6 310.9,1378.7 311.9,1377.4 312.8,1377.2 313.7,1377.6 314.6,1376.8 315.5,1376.2 316.4,1375.4 317.3,1374.9 318.2,1374.6 319.2,1374.6 320.1,1373.5 321.0,1373.5 322.0,1373.4 322.8,1372.0 323.7,1371.9 324.6,1371.6 325.4,1371.3 326.3,1371.0 327.2,1370.4 328.1,1369.7 329.0,1369.0 329.9,1368.9 330.8,1368.2 331.7,1368.2 332.6,1367.2 333.5,1366.8 334.3,1366.4 335.2,1365.7 336.1,1365.1 337.1,1364.8 338.0,1364.2 338.9,1364.1 339.8,1362.7 340.7,1362.3 341.7,1362.3 342.6,1361.6 343.5,1360.7 344.4,1359.9 345.3,1359.2 346.2,1358.9 347.1,1358.4 348.0,1357.9 349.0,1357.2 349.9,1356.9 350.9,1356.5 351.8,1355.5 352.8,1355.6 353.7,1355.2 354.7,1354.1 355.6,1353.7 356.6,1353.1 357.5,1353.1 358.4,1353.0 359.4,1352.3 360.3,1352.1 361.3,1351.7 362.3,1350.7 363.3,1350.4 364.2,1350.6 365.2,1350.8 366.2,1350.2 367.1,1349.6 368.1,1349.1 369.1,1348.7 370.0,1349.1 371.0,1349.0 372.0,1348.4 373.0,1347.8 374.1,1347.9 375.1,1348.3 376.2,1348.3 377.3,1347.7 378.4,1348.2 379.4,1347.5 380.4,1347.0 381.4,1347.1 382.3,1347.8 383.2,1347.4 384.0,1346.5 385.3,1346.3 386.4,1345.8 387.3,1345.3 388.1,1344.1 389.0,1344.5 390.0,1343.5 391.0,1342.8 392.1,1342.1 393.2,1342.3 394.3,1342.4 395.5,1341.9 396.5,1341.9 397.5,1341.9 398.5,1342.0 399.5,1341.7 400.4,1342.6 401.3,1343.7 402.1,1344.2 403.0,1344.7 403.8,1345.2 404.6,1346.9 405.4,1347.4 406.2,1347.8 407.1,1348.7 408.0,1349.7 408.9,1349.3 410.0,1350.3 411.1,1350.2 412.2,1351.4 413.2,1351.5 414.2,1351.8 415.0,1351.2 416.3,1350.9 417.2,1349.9 418.0,1348.8 418.6,1348.9 419.1,1348.4 419.6,1347.3 420.0,1345.0 420.1,1343.8 420.2,1343.3 420.3,1342.8 420.3,1341.4 420.4,1341.1 420.5,1340.0 420.6,1338.4 420.6,1337.5 420.7,1336.8 420.8,1335.1 420.9,1334.1 420.9,1332.9 421.0,1331.6 421.1,1331.4 421.2,1330.3 421.2,1328.9 421.3,1327.4 421.4,1326.5 421.5,1325.2 421.6,1324.0 421.6,1323.3 421.7,1321.9 421.8,1321.2 421.9,1320.4 421.9,1319.5 422.0,1319.0 422.1,1317.6 422.1,1316.7 422.2,1316.6 422.3,1315.5 422.4,1314.8 422.4,1313.6 422.5,1312.0 422.6,1311.3 422.7,1310.7 422.8,1309.7 422.9,1307.9 422.9,1307.1 423.0,1306.2 423.1,1304.3 423.2,1303.4 423.3,1302.8 423.4,1301.5 423.5,1299.9 423.6,1299.3 423.6,1298.4 423.7,1297.3 423.8,1296.1 423.8,1295.9 423.9,1295.0 424.0,1293.7 424.0,1293.1 424.1,1292.2 424.2,1291.1 424.3,1290.2 424.3,1289.3 424.4,1287.2 424.5,1287.2 424.6,1285.6 424.6,1284.9 424.7,1283.8 424.8,1282.0 424.9,1281.5 424.9,1279.8 425.0,1279.5 425.1,1278.0 425.2,1276.9 425.3,1275.7 425.3,1275.3 425.4,1274.0 425.5,1272.6 425.6,1272.0 425.6,1270.3 425.7,1270.0 425.8,1268.7 425.9,1267.9 426.0,1266.7 426.0,1266.2 426.1,1264.9 426.2,1263.6 426.3,1262.8 426.3,1261.9 426.4,1260.6 426.5,1259.8 426.6,1259.2 426.7,1258.1 426.8,1257.2 426.9,1255.7 427.0,1254.4 427.1,1253.2 427.2,1252.6 427.3,1251.5 427.4,1250.8 427.5,1249.6 427.6,1248.1 427.7,1247.0 427.8,1245.8 427.9,1245.7 428.0,1244.3 428.1,1243.3 428.2,1241.9 428.3,1241.5 428.4,1241.1 428.5,1239.4 428.6,1239.0 428.7,1238.0 428.8,1237.0 428.9,1236.0 429.0,1234.6 429.1,1234.1 429.2,1233.1 429.3,1232.5 429.4,1231.0 429.5,1229.8 429.6,1229.5 429.7,1228.1 429.8,1226.8 429.9,1226.2 430.0,1224.6 430.1,1223.6 430.2,1223.5 430.3,1222.0 430.4,1221.4 430.5,1219.7 430.6,1219.0 430.7,1217.7 430.8,1217.4 430.9,1216.1 431.0,1214.9 431.1,1213.9 431.2,1212.7 431.3,1211.7 431.4,1211.2 431.5,1209.8 431.6,1208.5 431.7,1207.9 431.8,1206.9 431.9,1206.6 432.0,1204.9 432.1,1203.9 432.2,1203.6 432.3,1202.3 432.4,1201.0 432.5,1199.9 432.6,1198.7 432.7,1197.6 432.8,1197.0 432.9,1196.2 432.9,1194.5 433.0,1194.0 433.1,1192.6 433.2,1192.1 433.3,1190.8 433.4,1190.2 433.5,1189.3 433.5,1187.9 433.6,1186.9 433.7,1185.5 433.8,1184.7 433.9,1184.1 433.9,1183.4 434.0,1181.6 434.1,1181.6 434.2,1180.5 434.3,1178.8 434.3,1178.0 434.4,1177.2 434.5,1175.8 434.6,1174.8 434.7,1174.3 434.8,1173.0 434.8,1171.9 434.9,1171.1 435.0,1169.5 435.1,1169.0 435.2,1167.7 435.2,1166.6 435.3,1166.0 435.4,1165.2 435.5,1164.0 435.6,1162.9 435.7,1162.1 435.8,1160.7 435.8,1160.4 435.9,1158.4 436.0,1157.2 436.1,1156.8 436.2,1155.9 436.2,1154.5 436.3,1153.5 436.4,1152.5 436.5,1151.3 436.6,1151.0 436.7,1150.1 436.8,1148.4 436.8,1147.7 436.9,1146.6 437.0,1145.2 437.1,1145.0 437.2,1143.8 437.2,1143.4 437.3,1142.3 437.4,1141.4 437.5,1139.7 437.6,1138.4 437.7,1138.2 437.8,1136.3 437.9,1135.9 438.0,1134.2 438.1,1133.8 438.2,1132.0 438.3,1131.0 438.4,1130.9 438.5,1129.4 438.6,1128.3 438.7,1127.9 438.8,1126.7 438.9,1125.1 439.0,1124.6 439.1,1123.3 439.2,1122.4 439.3,1121.3 439.4,1120.2 439.5,1119.4 439.6,1118.4 439.7,1117.4 439.8,1117.3 439.9,1115.8 440.0,1115.1 440.1,1114.2 440.3,1113.0 440.4,1111.2 440.5,1111.0 440.7,1109.9 440.8,1108.7 440.9,1107.0 441.1,1106.5 441.2,1105.2 441.3,1103.4 441.5,1102.8 441.6,1102.2 441.7,1101.0 441.8,1100.6 442.0,1099.5 442.1,1098.6 442.2,1097.9 442.3,1096.3 442.4,1096.2 442.5,1094.4 442.7,1093.9 442.9,1091.7 443.0,1091.1 443.1,1090.0 443.3,1088.7 443.4,1088.5 443.5,1087.9 443.6,1086.5 443.8,1085.7 444.1,1085.2 444.3,1083.8 444.6,1082.3 444.9,1081.7 445.2,1081.5 445.5,1079.7 445.8,1078.5 446.1,1077.2 446.3,1076.2 446.6,1074.8 446.9,1073.5 447.2,1073.8 447.4,1073.4 447.5,1074.0 447.7,1075.2 447.8,1076.5 448.0,1077.0 448.2,1078.1 448.3,1080.3 448.5,1080.8 448.7,1082.0 448.8,1083.3 449.0,1084.5 449.1,1085.7 449.3,1087.0 449.4,1088.0 449.5,1088.5 449.7,1089.8 449.8,1090.6 450.0,1091.9 450.1,1092.4 450.2,1094.0 450.4,1094.3 450.6,1096.4 450.7,1096.6 450.9,1098.0 451.1,1098.6 451.3,1099.9 451.5,1100.7 451.8,1102.1 452.0,1103.3 452.3,1104.3 452.5,1105.4 452.8,1105.8 453.0,1106.9 453.3,1107.7 453.6,1108.7 453.8,1110.0 454.1,1111.7 454.3,1111.8 454.5,1113.9 454.6,1114.3 454.8,1115.5 454.9,1116.0 455.0,1117.5 455.1,1118.1 455.3,1118.9 455.4,1120.0 455.5,1120.5 455.6,1121.6 455.7,1123.6 455.8,1123.7 455.9,1125.1 456.1,1126.5 456.2,1126.8 456.3,1128.9 456.4,1129.2 456.5,1131.2 456.6,1131.6 456.7,1132.9 456.9,1134.0 457.0,1134.5 457.1,1135.9 457.2,1137.2 457.3,1138.2 457.5,1139.2 457.6,1140.1 457.7,1140.5 457.8,1141.9 458.0,1143.1 458.1,1143.6 458.2,1145.5 458.3,1145.8 458.5,1147.4 458.6,1148.2 458.7,1149.1 458.8,1151.1 459.0,1151.7 459.1,1152.9 459.2,1153.8 459.3,1154.7 459.4,1156.0 459.6,1156.0 459.7,1157.3 459.8,1158.0 459.9,1159.3 460.0,1159.9 460.2,1161.8 460.3,1162.2 460.5,1163.4 460.7,1165.2 460.8,1166.0 461.0,1166.6 461.1,1167.5 461.3,1168.9 461.4,1169.1 461.5,1170.6 461.7,1170.9 461.8,1172.5 461.9,1172.6 462.1,1174.5 462.2,1175.4 462.3,1175.4 462.4,1176.5 462.6,1178.4 462.7,1179.2 462.8,1179.5 462.9,1181.0 463.0,1181.7 463.1,1182.2 463.2,1183.7 463.3,1184.4 463.4,1185.0 463.5,1187.0 463.7,1187.9 463.8,1188.5 463.9,1189.9 464.0,1191.1 464.1,1191.6 464.2,1192.4 464.3,1193.6 464.3,1195.1 464.4,1195.1 464.5,1196.3 464.6,1197.6 464.7,1199.2 464.8,1200.2 464.9,1200.1 465.0,1201.9 465.1,1202.4 465.2,1203.5 465.3,1204.5 465.4,1206.0 465.5,1207.7 465.6,1208.7 465.7,1209.0 465.9,1210.7 466.0,1211.5 466.1,1211.8 466.2,1213.8 466.4,1214.1 466.5,1215.9 466.6,1215.9 466.8,1217.8 466.9,1218.4 467.1,1219.4 467.2,1220.0 467.4,1221.4 467.5,1222.7 467.7,1223.5 467.9,1225.0 468.0,1225.5 468.2,1227.0 468.3,1227.1 468.5,1228.8 468.7,1229.7 468.8,1231.0 469.0,1231.4 469.2,1232.5 469.3,1234.0 469.5,1234.3 469.7,1235.5 469.8,1237.0 470.0,1237.8 470.2,1238.6 470.3,1239.1 470.5,1241.0 470.7,1241.6 470.8,1242.4 471.0,1243.6 471.2,1244.3 471.4,1246.2 471.5,1247.1 471.7,1248.3 471.9,1249.0 472.1,1249.4 472.2,1250.7 472.4,1252.4 472.6,1252.3 472.8,1253.7 473.0,1254.5 473.2,1255.5 473.4,1256.6 473.6,1258.1 473.8,1258.4 474.1,1260.5 474.3,1261.0 474.5,1261.8 474.8,1262.8 475.0,1264.4 475.3,1265.3 475.5,1266.5 475.8,1267.2 476.0,1268.5 476.3,1269.8 476.6,1270.3 476.8,1271.9 477.0,1273.3 477.3,1274.0 477.5,1274.4 477.7,1275.9 477.9,1276.1 478.1,1277.1 478.2,1277.7 478.4,1279.1 478.7,1280.1 478.9,1281.5 479.0,1282.5 479.2,1284.4 479.3,1284.4 479.4,1286.0 479.4,1286.9 479.5,1287.3 479.6,1288.3 479.7,1288.9 479.9,1290.4 480.1,1291.3 480.3,1291.6 480.6,1293.3 480.8,1293.7 481.0,1295.1 481.3,1295.7 481.6,1297.0 481.8,1298.2 482.1,1299.3 482.3,1299.8 482.5,1300.5 482.7,1301.9 482.9,1303.3 483.0,1303.8 483.2,1304.8 483.4,1305.9 483.7,1306.9 484.2,1308.5 484.7,1310.0 485.0,1310.5 485.3,1311.4 485.6,1311.4 486.0,1312.4 486.4,1313.8 486.7,1314.6 487.2,1315.8 487.6,1316.7 488.0,1317.2 488.5,1318.0 488.9,1319.6 489.4,1319.9 489.9,1321.4 490.3,1322.1 490.8,1323.3 491.3,1324.6 491.7,1325.5 492.2,1326.5 492.6,1326.7 493.1,1328.6 493.5,1329.2 494.0,1330.5 494.5,1331.2 495.0,1332.2 495.5,1333.5 496.0,1334.3 496.5,1335.1 497.0,1335.3 497.5,1336.3 498.0,1338.0 498.5,1339.1 499.0,1339.4 499.5,1340.1 500.0,1341.2 500.6,1342.5 501.1,1343.3 501.7,1343.3 502.3,1344.2 503.0,1345.1 503.6,1346.6 504.3,1346.8 505.0,1348.4 505.7,1348.6 506.5,1349.1 507.2,1350.1 508.0,1350.5 508.7,1352.1 509.5,1351.8 510.2,1353.0 511.0,1353.6 511.8,1353.8 512.5,1354.7 513.3,1356.3 514.0,1356.7 514.8,1356.9 515.7,1358.1 516.5,1358.8 517.3,1359.4 518.1,1359.8 518.9,1360.2 519.7,1360.7 520.6,1361.5 521.4,1361.9 522.2,1362.8 523.1,1362.4 523.9,1363.7 524.8,1364.0 525.7,1364.0 526.6,1364.9 527.5,1364.6 528.4,1365.1 529.2,1365.6 530.1,1366.3 531.0,1365.7 531.9,1366.7 532.9,1366.7 533.8,1367.3 534.8,1366.8 535.9,1367.4 537.0,1367.9 538.1,1368.2 539.3,1368.2 540.1,1368.6 541.0,1368.5 541.8,1368.6 542.7,1368.4 543.6,1369.0 544.6,1369.7 545.5,1369.9 546.5,1369.0 547.4,1369.5 548.4,1369.6 549.4,1370.6 550.5,1370.0 551.5,1370.9 552.5,1370.4 553.6,1370.7 554.6,1371.7 555.7,1370.8 556.8,1371.6 557.8,1371.4 558.9,1372.1 560.0,1371.5 560.9,1372.4 561.9,1372.0 562.8,1373.0 563.7,1372.3 564.7,1372.9 565.7,1372.3 566.7,1373.5 567.6,1373.2 568.6,1373.7 569.6,1373.6 570.6,1372.9 571.7,1373.9 572.7,1373.6 573.7,1373.5 574.7,1374.4 575.7,1374.2 576.8,1374.0 577.8,1373.8 578.8,1374.6 579.9,1374.0 580.9,1374.3 581.9,1374.2 583.0,1374.4 584.0,1375.2 585.0,1374.7 586.0,1375.7 587.0,1374.9 588.1,1375.6 589.2,1375.6 590.3,1375.6 591.5,1375.7 592.6,1375.2 593.8,1376.1 594.9,1376.3 596.1,1375.9 597.3,1375.6 598.4,1375.5 599.6,1375.8 600.7,1376.7 601.8,1376.0 602.8,1376.0 603.9,1376.4 604.9,1375.9 605.8,1376.8 606.8,1376.9 607.6,1376.4 608.4,1376.1 609.2,1377.2 609.8,1377.1 610.5,1377.1 611.0,1376.5" fill="none" stroke="#000" stroke-width="3.0" stroke-linejoin="round" />
<polyline points="92.0,1375.2 92.6,1374.8 93.2,1374.1 94.0,1375.2 94.9,1374.8 95.8,1374.2 96.9,1375.0 97.9,1374.6 99.1,1374.6 100.2,1373.8 101.4,1374.0 102.6,1374.6 103.8,1373.7 105.0,1373.8 105.9,1373.7 106.9,1374.2 107.8,1373.7 108.8,1374.4 109.8,1374.0 110.9,1374.3 111.9,1374.5 113.0,1374.5 114.1,1373.5 115.1,1373.7 116.2,1374.2 117.3,1373.6 118.4,1374.3 119.4,1373.6 120.5,1373.9 121.6,1373.5 122.6,1374.1 123.6,1373.6 124.6,1373.8 125.6,1374.2 126.5,1374.3 127.5,1373.6 128.4,1373.7 129.4,1373.8 130.3,1374.5 131.3,1374.5 132.3,1374.6 133.3,1374.8 134.3,1374.1 135.4,1374.5 136.5,1374.0 137.6,1374.5 138.8,1374.9 140.0,1374.5 140.9,1375.2 141.7,1374.5 142.6,1374.8 143.5,1375.2 144.4,1374.7 145.3,1375.2 146.2,1375.0 147.2,1374.6 148.1,1374.7 149.1,1375.4 150.0,1375.6 151.0,1375.5 152.0,1375.7 153.0,1375.5 154.1,1375.7 155.1,1375.8 156.2,1375.6 157.2,1375.5 158.3,1375.1 159.4,1375.3 160.5,1375.1 161.7,1375.2 162.8,1375.6 164.0,1375.5 165.2,1375.9 166.1,1376.2 167.0,1375.6 167.8,1376.4 168.7,1376.3 169.6,1375.6 170.4,1376.1 171.3,1375.7 172.2,1375.5 173.1,1375.8 174.0,1375.8 174.9,1375.6 175.8,1375.6 176.7,1376.6 177.6,1376.7 178.5,1376.7 179.5,1375.8 180.4,1375.8 181.4,1376.8 182.4,1376.3 183.4,1376.3 184.4,1376.8 185.5,1376.6 186.5,1376.4 187.6,1376.2 188.7,1376.2 189.9,1377.0 191.0,1377.2 192.2,1376.2 193.4,1376.5 194.7,1376.9 196.0,1376.6 197.3,1376.9 198.6,1377.0 200.0,1376.7 200.8,1376.6 201.6,1376.9 202.5,1377.4 203.3,1376.7 204.2,1377.2 205.1,1377.5 206.0,1377.2 206.9,1377.0 207.8,1377.7 208.8,1377.6 209.8,1377.9 210.7,1377.0 211.7,1377.3 212.7,1377.3 213.8,1377.8 214.8,1377.5 215.8,1377.5 216.9,1377.5 217.9,1377.9 219.0,1377.3 220.0,1377.1 221.1,1377.1 222.2,1377.3 223.3,1377.1 224.3,1378.2 225.4,1377.7 226.5,1378.0 227.6,1377.6 228.7,1377.7 229.8,1377.4 230.9,1378.2 232.0,1377.7 233.1,1377.7 234.2,1378.1 235.3,1378.3 236.4,1378.5 237.5,1377.9 238.6,1377.8 239.7,1378.4 240.7,1377.9 241.8,1377.6 242.9,1378.0 243.9,1377.8 244.9,1377.8 246.0,1378.4 247.0,1377.9 248.0,1378.3 249.0,1377.9 250.0,1377.7 251.0,1378.5 252.0,1378.5 252.9,1378.5 253.9,1378.4 254.8,1377.8 255.7,1378.2 256.6,1378.7 257.5,1378.6 258.3,1378.4 259.2,1378.4 260.0,1377.9 261.3,1377.8 262.6,1378.7 263.9,1377.8 265.2,1378.0 266.4,1378.2 267.6,1378.6 268.9,1378.6 270.1,1378.8 271.3,1378.9 272.4,1378.1 273.6,1378.1 274.7,1377.9 275.9,1378.2 277.0,1377.9 278.1,1378.9 279.2,1378.5 280.2,1378.4 281.3,1377.8 282.3,1378.8 283.3,1378.0 284.3,1378.7 285.3,1378.0 286.2,1378.0 287.1,1377.9 288.1,1378.3 289.0,1378.0 289.8,1378.3 290.7,1378.5 291.6,1377.9 292.4,1377.7 293.2,1378.2 294.0,1378.0 294.7,1378.1 295.5,1377.9 296.2,1377.7 296.9,1377.6 297.6,1378.3 299.5,1378.1 301.1,1378.0 302.5,1377.9 303.6,1377.6 304.6,1377.1 305.4,1377.8 306.1,1377.2 306.8,1376.9 307.5,1376.5 308.2,1376.4 309.1,1376.9 310.0,1375.9 310.9,1376.1 311.9,1374.9 312.8,1375.1 313.7,1374.3 314.6,1373.9 315.5,1373.5 316.4,1373.2 317.3,1373.1 318.2,1372.3 319.2,1372.4 320.1,1371.0 321.0,1371.4 322.0,1370.4 322.9,1370.4 323.8,1369.5 324.8,1368.8 325.7,1369.1 326.6,1368.3 327.6,1368.0 328.5,1367.2 329.5,1366.9 330.5,1366.7 331.4,1365.9 332.4,1365.7 333.3,1364.4 334.3,1363.8 335.2,1364.0 336.1,1363.4 336.9,1362.9 337.8,1361.8 338.7,1361.2 339.5,1361.2 340.4,1359.7 341.2,1359.1 342.1,1358.5 342.9,1358.1 343.8,1357.6 344.6,1357.0 345.5,1356.5 346.3,1355.5 347.2,1355.3 348.0,1355.0 349.0,1353.9 349.9,1353.9 350.9,1353.9 351.8,1353.1 352.8,1353.0 353.7,1352.4 354.7,1351.6 355.6,1350.5 356.6,1350.2 357.5,1350.4 358.4,1350.3 359.4,1349.2 360.3,1348.6 361.3,1348.9 362.3,1348.1 363.3,1347.6 364.2,1346.8 365.2,1346.8 366.2,1346.4 367.1,1346.2 368.1,1346.0 369.1,1344.6 370.0,1345.1 371.0,1344.1 372.0,1343.9 373.0,1343.5 374.1,1343.7 375.1,1343.0 376.2,1342.3 377.3,1342.5 378.4,1341.9 379.4,1341.4 380.4,1341.2 381.4,1341.4 382.3,1341.2 383.2,1340.3 384.0,1340.2 385.2,1340.5 386.1,1339.4 386.9,1339.2 387.6,1338.0 388.4,1337.8 389.1,1336.8 390.0,1335.9 390.9,1335.0 391.8,1334.6 392.8,1334.8 393.8,1334.2 394.8,1333.3 395.7,1332.8 396.6,1333.1 397.5,1333.3 398.7,1332.6 399.9,1333.8 400.9,1333.8 402.0,1334.0 403.0,1334.6 403.8,1335.8 404.6,1336.7 405.4,1336.6 406.2,1337.3 407.1,1337.8 408.0,1338.3 408.9,1338.5 410.0,1338.8 411.1,1338.6 412.2,1339.1 413.2,1338.5 414.2,1338.4 415.0,1338.5 416.3,1337.9 417.2,1337.2 418.0,1336.5 418.7,1335.8 419.4,1335.7 420.0,1333.2 420.2,1333.1 420.3,1333.0 420.4,1332.0 420.6,1331.0 420.7,1330.4 420.8,1329.7 421.0,1328.6 421.1,1327.3 421.3,1326.2 421.4,1324.8 421.6,1323.3 421.8,1321.6 421.9,1320.6 421.9,1320.5 422.0,1319.3 422.1,1318.9 422.1,1318.3 422.2,1317.3 422.3,1316.7 422.4,1315.9 422.4,1314.6 422.5,1313.4 422.6,1312.3 422.7,1312.1 422.7,1310.7 422.8,1309.7 422.9,1308.4 423.0,1307.5 423.0,1307.3 423.1,1305.8 423.2,1305.1 423.3,1304.1 423.4,1302.2 423.5,1301.1 423.6,1300.8 423.6,1298.9 423.7,1298.2 423.8,1297.4 423.9,1295.7 424.0,1294.5 424.1,1294.0 424.2,1292.7 424.3,1291.6 424.5,1290.2 424.6,1288.4 424.7,1287.0 424.8,1285.8 424.9,1286.0 425.0,1284.7 425.1,1284.1 425.2,1283.3 425.3,1281.5 425.4,1281.4 425.5,1279.6 425.6,1278.4 425.7,1277.5 425.8,1277.4 425.9,1276.3 426.0,1274.5 426.2,1273.7 426.3,1273.0 426.4,1271.9 426.5,1271.0 426.6,1269.2 426.7,1268.0 426.9,1267.3 427.0,1266.7 427.1,1265.2 427.2,1264.4 427.4,1262.5 427.5,1261.8 427.6,1261.2 427.7,1259.7 427.9,1258.9 428.0,1257.9 428.1,1256.4 428.2,1255.6 428.3,1254.5 428.5,1253.2 428.6,1252.2 428.7,1251.6 428.8,1250.6 428.9,1249.8 429.1,1248.0 429.2,1247.4 429.3,1246.3 429.4,1245.7 429.5,1244.0 429.6,1243.4 429.7,1242.2 429.8,1242.0 429.9,1241.0 430.0,1239.3 430.1,1238.6 430.2,1237.4 430.4,1236.6 430.5,1235.6 430.7,1233.9 430.8,1232.4 430.9,1231.8 431.1,1230.7 431.2,1229.4 431.3,1228.1 431.4,1227.2 431.5,1226.0 431.7,1225.7 431.8,1224.2 431.9,1223.6 432.0,1222.4 432.1,1221.1 432.2,1220.2 432.3,1219.8 432.4,1219.1 432.5,1218.3 432.6,1216.5 432.7,1215.7 432.9,1214.6 433.0,1213.9 433.1,1213.3 433.2,1212.8 433.3,1212.2 433.4,1211.0 433.5,1209.6 433.7,1208.7 433.8,1207.3 434.0,1206.5 434.1,1205.9 434.3,1204.9 434.4,1203.6 434.6,1203.0 434.8,1202.9 434.9,1201.8 435.1,1201.0 435.2,1199.8 435.4,1198.9 435.5,1198.6 435.7,1196.8 435.8,1196.5 435.9,1195.8 436.1,1194.3 436.2,1192.3 436.4,1190.9 436.5,1190.3 436.6,1188.9 436.6,1188.3 436.7,1187.8 436.8,1187.0 436.8,1185.6 436.9,1185.1 436.9,1184.5 437.0,1182.9 437.1,1181.9 437.1,1181.2 437.2,1180.4 437.2,1179.1 437.3,1178.3 437.3,1177.0 437.4,1176.1 437.5,1174.1 437.5,1173.5 437.6,1171.8 437.6,1170.6 437.7,1169.7 437.7,1169.3 437.8,1167.4 437.8,1166.2 437.9,1165.8 438.0,1164.8 438.0,1163.4 438.1,1161.8 438.1,1161.2 438.2,1159.2 438.2,1158.1 438.3,1157.1 438.3,1156.4 438.4,1155.3 438.5,1155.0 438.5,1153.5 438.6,1153.1 438.6,1151.7 438.7,1150.7 438.7,1149.8 438.8,1148.6 438.8,1148.3 438.9,1148.1 439.0,1146.6 439.1,1145.1 439.3,1142.7 439.4,1141.8 439.5,1141.1 439.6,1139.2 439.8,1138.0 439.9,1137.2 440.0,1136.1 440.1,1135.9 440.2,1135.0 440.4,1134.5 440.5,1132.6 440.6,1132.6 440.8,1131.9 440.9,1130.3 441.0,1129.4 441.2,1129.6 441.3,1128.5 441.5,1126.5 441.7,1125.5 441.9,1125.0 442.2,1123.4 442.4,1122.6 442.6,1121.3 442.9,1120.2 443.1,1119.8 443.3,1118.9 443.5,1118.4 443.8,1116.5 444.0,1116.0 444.1,1114.8 444.3,1114.6 444.5,1112.8 444.7,1111.8 444.9,1111.4 445.0,1109.9 445.2,1108.9 445.3,1107.8 445.4,1106.4 445.5,1106.1 445.7,1105.6 446.0,1103.0 446.3,1102.6 446.5,1100.8 446.8,1099.8 447.2,1100.1 447.6,1100.7 448.1,1100.7 448.5,1102.0 449.0,1103.7 449.5,1104.6 449.8,1105.9 450.2,1107.5 450.6,1107.3 450.9,1108.9 451.3,1109.6 451.6,1110.6 452.0,1112.1 452.4,1113.4 452.8,1113.3 453.2,1113.9 453.6,1114.8 454.1,1116.5 454.5,1119.0 454.6,1118.8 454.7,1119.3 454.8,1121.0 454.9,1121.4 455.0,1122.5 455.0,1122.5 455.1,1124.2 455.2,1124.3 455.3,1125.3 455.4,1126.3 455.5,1127.6 455.6,1128.8 455.7,1130.1 455.8,1131.5 455.8,1132.0 455.9,1133.3 456.0,1134.3 456.1,1135.4 456.2,1136.4 456.3,1137.2 456.4,1138.6 456.6,1140.3 456.7,1141.5 456.8,1142.5 456.9,1143.3 457.0,1144.4 457.1,1145.2 457.3,1146.3 457.4,1148.2 457.5,1148.7 457.7,1149.5 457.8,1150.7 458.0,1151.7 458.1,1152.6 458.3,1153.8 458.5,1154.9 458.6,1156.6 458.8,1157.7 459.0,1158.0 459.2,1159.3 459.3,1160.2 459.5,1162.1 459.7,1162.2 459.9,1163.7 460.1,1164.2 460.3,1165.8 460.4,1166.8 460.6,1167.3 460.8,1168.5 461.0,1169.9 461.1,1170.8 461.3,1171.6 461.5,1172.2 461.7,1173.4 461.8,1174.3 462.0,1174.8 462.1,1176.2 462.3,1176.5 462.6,1178.4 463.0,1179.9 463.3,1180.2 463.6,1181.7 463.9,1182.8 464.2,1183.9 464.5,1184.4 464.8,1185.4 465.0,1186.0 465.3,1186.3 465.6,1188.0 465.8,1189.0 466.1,1190.0 466.2,1191.3 466.4,1191.1 466.5,1193.1 466.6,1193.3 466.8,1194.5 466.9,1195.8 467.0,1196.0 467.1,1197.4 467.2,1197.9 467.3,1199.0 467.5,1201.1 467.6,1201.3 467.7,1202.6 467.8,1203.4 467.9,1205.4 468.0,1206.0 468.2,1207.5 468.3,1207.8 468.4,1209.1 468.6,1209.9 468.7,1211.4 468.9,1212.5 469.1,1213.4 469.2,1214.4 469.4,1215.1 469.6,1216.9 469.8,1216.8 470.0,1218.0 470.2,1219.6 470.4,1221.0 470.6,1221.8 470.8,1222.1 471.0,1224.0 471.2,1224.4 471.4,1225.6 471.7,1226.7 471.9,1227.6 472.1,1229.0 472.3,1230.0 472.5,1230.3 472.7,1232.0 473.0,1232.4 473.2,1233.8 473.4,1234.2 473.6,1235.8 473.8,1236.4 474.1,1238.2 474.3,1238.9 474.5,1239.5 474.7,1241.2 475.0,1241.2 475.2,1243.0 475.4,1243.9 475.6,1244.2 475.9,1245.7 476.1,1246.3 476.3,1248.4 476.6,1248.3 476.8,1250.0 477.0,1250.9 477.3,1251.4 477.5,1253.4 477.7,1254.0 477.9,1255.0 478.2,1255.6 478.4,1256.5 478.6,1257.7 478.9,1258.4 479.1,1259.7 479.3,1261.1 479.6,1262.0 479.8,1263.6 480.1,1263.9 480.3,1265.1 480.6,1266.6 480.8,1267.9 481.1,1268.5 481.3,1269.4 481.6,1270.4 481.8,1271.7 482.0,1272.7 482.2,1274.2 482.5,1274.5 482.7,1275.6 482.9,1276.9 483.1,1277.2 483.2,1277.8 483.4,1279.7 483.7,1281.0 484.0,1281.6 484.2,1282.7 484.4,1283.9 484.5,1284.5 484.7,1286.1 484.8,1287.0 485.0,1287.7 485.1,1288.1 485.3,1289.5 485.5,1290.5 485.7,1290.7 486.0,1292.3 486.2,1292.7 486.4,1294.7 486.7,1295.4 486.9,1296.0 487.1,1297.4 487.4,1297.8 487.6,1298.5 487.9,1300.0 488.1,1300.5 488.3,1301.9 488.5,1303.3 488.7,1303.8 488.9,1304.3 489.2,1305.3 489.5,1306.8 490.0,1308.0 490.6,1310.0 490.9,1309.8 491.2,1310.9 491.6,1311.7 492.0,1312.5 492.4,1313.2 492.8,1314.3 493.3,1315.5 493.7,1316.0 494.2,1317.1 494.7,1318.4 495.2,1319.9 495.7,1320.4 496.2,1321.2 496.7,1321.9 497.2,1323.4 497.8,1324.2 498.3,1324.9 498.8,1326.3 499.3,1327.4 499.8,1328.0 500.3,1329.3 500.9,1330.1 501.4,1330.4 501.9,1331.3 502.4,1332.8 503.0,1333.9 503.5,1334.7 504.0,1335.2 504.5,1336.2 505.0,1337.5 505.6,1338.0 506.2,1339.0 506.7,1339.5 507.4,1340.8 508.0,1341.4 508.7,1341.7 509.5,1343.4 510.3,1344.2 511.1,1345.2 511.8,1345.7 512.5,1346.0 513.3,1346.3 514.2,1346.7 515.0,1347.8 515.9,1348.0 516.8,1348.4 517.8,1348.7 518.7,1349.9 519.7,1350.5 520.6,1351.1 521.6,1350.9 522.6,1351.5 523.6,1352.5 524.5,1352.4 525.5,1353.8 526.4,1354.3 527.3,1354.4 528.2,1354.4 529.1,1355.2 529.9,1355.8 530.7,1355.7 531.5,1356.5 532.6,1357.0 533.7,1357.9 534.6,1358.3 535.5,1358.6 536.4,1358.9 537.2,1359.7 538.0,1359.7 538.8,1360.1 539.6,1360.0 540.5,1360.1 541.5,1361.0 542.5,1360.9 543.7,1362.2 545.0,1361.7 545.8,1362.7 546.6,1362.2 547.5,1362.3 548.4,1363.0 549.3,1362.9 550.3,1363.9 551.3,1363.7 552.3,1363.2 553.4,1363.7 554.4,1363.7 555.5,1364.4 556.6,1364.6 557.6,1364.6 558.7,1365.2 559.8,1365.1 560.9,1365.8 562.0,1365.8 563.0,1365.5 564.1,1366.4 565.1,1365.6 566.2,1366.0 567.2,1365.9 568.1,1367.2 569.1,1366.9 570.0,1367.4 571.1,1367.8 572.2,1366.9 573.3,1368.0 574.3,1367.1 575.3,1368.1 576.3,1368.4 577.3,1368.0 578.3,1368.8 579.3,1368.8 580.2,1368.6 581.2,1368.4 582.2,1368.4 583.1,1368.5 584.1,1369.1 585.0,1369.2 586.0,1368.9 587.0,1369.5 588.0,1369.1 589.0,1369.4 590.0,1370.0 591.0,1369.5 592.0,1370.1 593.1,1369.7 594.2,1370.7 595.4,1370.0 596.5,1371.0 597.7,1371.1 598.9,1371.3 600.0,1370.6 601.2,1371.2 602.3,1370.6 603.4,1371.8 604.5,1371.5 605.5,1370.8 606.5,1371.0 607.4,1371.1 608.3,1371.5 609.1,1372.2 609.8,1372.1 610.5,1371.6 611.0,1372.3" fill="none" stroke="#0000f0" stroke-width="3.4" stroke-linejoin="round" />
<polyline points="92.0,1375.4 92.6,1376.0 93.2,1375.8 94.0,1375.3 94.9,1376.2 95.8,1375.9 96.9,1376.2 97.9,1375.6 99.1,1375.5 100.2,1374.8 101.4,1375.2 102.6,1375.6 103.8,1375.1 105.0,1375.2 105.9,1374.9 106.9,1374.7 107.8,1374.3 108.8,1374.5 109.8,1374.4 110.9,1374.3 111.9,1374.2 113.0,1375.0 114.1,1375.3 115.1,1374.9 116.2,1375.0 117.3,1374.3 118.4,1375.0 119.4,1374.5 120.5,1375.0 121.6,1374.3 122.6,1374.4 123.6,1374.6 124.6,1374.3 125.6,1374.4 126.5,1375.0 127.5,1375.1 128.4,1375.3 129.4,1375.0 130.3,1374.7 131.3,1374.8 132.3,1375.0 133.3,1375.1 134.3,1375.5 135.4,1375.2 136.5,1375.7 137.6,1375.2 138.8,1375.2 140.0,1374.7 140.9,1375.1 141.7,1375.4 142.6,1374.8 143.5,1375.4 144.4,1375.0 145.3,1375.3 146.2,1376.0 147.2,1376.1 148.1,1375.2 149.1,1375.8 150.0,1375.7 151.0,1375.3 152.0,1375.6 153.0,1375.9 154.1,1375.9 155.1,1376.1 156.2,1375.5 157.2,1376.2 158.3,1376.3 159.4,1375.8 160.5,1376.3 161.7,1376.8 162.8,1376.8 164.0,1376.5 165.2,1376.4 166.1,1376.7 167.0,1376.4 167.8,1376.7 168.7,1376.4 169.6,1376.6 170.4,1376.9 171.3,1376.7 172.2,1376.8 173.1,1376.6 174.0,1376.6 174.9,1377.0 175.8,1376.8 176.7,1376.8 177.6,1376.7 178.5,1376.7 179.5,1377.1 180.4,1377.5 181.4,1376.7 182.4,1377.2 183.4,1377.1 184.4,1377.3 185.5,1377.4 186.5,1377.1 187.6,1376.6 188.7,1377.1 189.9,1377.3 191.0,1377.5 192.2,1377.9 193.4,1377.6 194.7,1377.6 196.0,1377.3 197.3,1377.8 198.6,1377.0 200.0,1378.0 200.8,1377.5 201.6,1377.5 202.5,1377.8 203.3,1377.6 204.2,1378.2 205.1,1377.1 206.0,1377.1 206.9,1377.7 207.8,1377.3 208.8,1377.3 209.8,1378.2 210.7,1377.7 211.7,1377.4 212.7,1377.5 213.8,1377.3 214.8,1377.4 215.8,1377.2 216.9,1378.3 217.9,1378.0 219.0,1377.5 220.0,1377.2 221.1,1378.3 222.2,1378.2 223.3,1377.2 224.3,1378.2 225.4,1377.8 226.5,1378.3 227.6,1377.7 228.7,1377.7 229.8,1377.2 230.9,1377.9 232.0,1377.5 233.1,1378.2 234.2,1377.5 235.3,1378.3 236.4,1377.6 237.5,1378.2 238.6,1378.1 239.7,1378.3 240.7,1377.9 241.8,1377.6 242.9,1377.5 243.9,1377.5 244.9,1377.3 246.0,1377.6 247.0,1377.6 248.0,1378.2 249.0,1377.2 250.0,1377.8 251.0,1377.8 252.0,1377.4 252.9,1378.1 253.9,1377.5 254.8,1378.1 255.7,1377.4 256.6,1378.3 257.5,1377.6 258.3,1377.3 259.2,1377.4 260.0,1377.4 261.3,1377.4 262.6,1377.6 263.9,1378.3 265.2,1377.6 266.4,1377.6 267.6,1378.1 268.9,1377.2 270.1,1377.2 271.3,1378.2 272.4,1377.5 273.6,1377.3 274.7,1377.3 275.9,1378.0 277.0,1378.2 278.1,1377.5 279.2,1377.9 280.2,1377.6 281.3,1377.3 282.3,1377.4 283.3,1377.4 284.3,1377.3 285.3,1377.9 286.2,1377.0 287.1,1377.4 288.1,1377.7 289.0,1376.9 289.8,1378.0 290.7,1377.5 291.5,1377.5 292.4,1376.9 293.2,1376.9 294.0,1377.6 294.7,1377.8 295.5,1376.6 296.2,1377.5 296.9,1376.7 297.6,1376.5 299.5,1377.0 301.1,1376.2 302.5,1376.9 303.6,1376.7 304.6,1375.8 305.5,1375.4 306.2,1375.6 306.9,1375.6 307.6,1374.5 308.3,1375.0 309.2,1373.9 310.1,1373.9 311.0,1373.2 312.0,1372.7 312.9,1372.8 313.8,1372.0 314.7,1372.3 315.6,1371.8 316.5,1371.0 317.4,1370.2 318.3,1369.8 319.2,1368.9 320.1,1368.5 321.0,1368.1 322.0,1367.4 322.8,1367.0 323.7,1367.0 324.6,1366.7 325.4,1365.9 326.3,1365.6 327.2,1364.4 328.1,1363.7 329.0,1363.3 329.9,1363.2 330.8,1363.0 331.7,1362.5 332.6,1362.2 333.5,1361.5 334.3,1360.5 335.2,1359.7 336.1,1359.6 337.1,1358.9 338.0,1359.0 338.9,1358.5 339.8,1357.5 340.7,1357.2 341.7,1356.6 342.6,1355.8 343.5,1355.2 344.4,1355.2 345.3,1354.5 346.2,1353.7 347.1,1353.6 348.0,1352.1 348.9,1352.3 349.8,1351.5 350.7,1350.6 351.6,1349.8 352.5,1349.8 353.3,1349.6 354.2,1348.2 355.1,1348.6 356.0,1348.1 356.8,1346.7 357.7,1346.6 358.6,1346.0 359.4,1345.4 360.3,1344.6 361.3,1344.3 362.3,1344.6 363.3,1344.1 364.2,1343.8 365.2,1342.8 366.2,1342.4 367.1,1341.5 368.1,1341.5 369.1,1341.3 370.0,1341.4 371.0,1339.9 372.0,1340.2 372.9,1339.1 373.9,1339.8 374.8,1338.4 375.8,1338.6 376.8,1338.1 377.7,1337.2 378.7,1337.0 379.7,1336.6 380.6,1335.9 381.5,1335.7 382.4,1334.9 383.2,1335.3 384.0,1335.3 385.1,1334.2 386.1,1333.6 387.1,1333.2 388.0,1332.3 388.8,1332.6 389.7,1332.0 390.5,1330.9 391.2,1330.8 392.0,1330.0 393.1,1330.0 394.0,1328.4 394.9,1328.7 395.8,1327.1 396.6,1327.5 397.5,1326.5 398.4,1327.1 399.4,1327.7 400.3,1328.6 401.2,1329.2 402.1,1329.0 403.0,1330.3 404.0,1330.5 404.9,1330.6 405.9,1331.5 406.9,1332.6 408.0,1332.2 408.8,1333.6 409.7,1334.1 410.7,1335.3 411.6,1335.6 412.6,1336.1 413.5,1337.5 414.3,1337.2 415.0,1338.2 416.3,1338.0 417.2,1337.2 418.0,1336.6 418.7,1336.9 419.3,1335.3 420.0,1334.5 420.2,1333.0 420.4,1333.3 420.7,1331.6 420.9,1331.7 421.2,1330.8 421.4,1330.0 421.7,1329.5 421.9,1327.6 422.2,1327.3 422.5,1325.4 422.7,1324.0 423.0,1321.5 423.1,1321.7 423.2,1320.6 423.3,1319.6 423.4,1318.5 423.5,1318.5 423.6,1317.3 423.6,1317.0 423.7,1316.0 423.8,1314.9 423.9,1314.0 424.0,1312.4 424.1,1312.2 424.2,1311.1 424.3,1309.4 424.4,1308.4 424.5,1307.4 424.6,1306.5 424.7,1306.1 424.8,1305.0 424.9,1303.9 425.0,1302.4 425.1,1302.0 425.2,1299.9 425.3,1298.9 425.4,1298.0 425.5,1296.6 425.6,1296.1 425.7,1295.0 425.8,1293.7 425.9,1292.1 426.0,1291.2 426.2,1289.7 426.3,1288.8 426.4,1287.6 426.5,1286.0 426.6,1285.9 426.7,1285.0 426.8,1284.0 426.9,1282.3 427.0,1281.5 427.1,1281.2 427.2,1280.3 427.3,1279.1 427.4,1278.5 427.5,1276.9 427.6,1275.6 427.7,1274.9 427.8,1273.7 427.9,1272.8 428.0,1272.2 428.1,1270.7 428.2,1270.1 428.3,1268.9 428.4,1267.2 428.6,1266.7 428.7,1266.1 428.8,1264.7 428.9,1263.9 429.0,1262.6 429.1,1262.0 429.2,1259.8 429.3,1259.2 429.4,1257.8 429.6,1257.5 429.7,1255.9 429.8,1255.2 429.9,1254.2 430.0,1252.4 430.1,1252.1 430.2,1250.7 430.3,1249.6 430.4,1249.0 430.5,1248.0 430.6,1246.5 430.7,1246.1 430.8,1244.3 430.9,1243.3 431.0,1243.3 431.0,1242.4 431.1,1241.5 431.2,1240.6 431.3,1239.4 431.4,1238.1 431.5,1237.0 431.6,1235.9 431.7,1235.3 431.7,1234.3 431.8,1232.6 431.9,1231.3 432.0,1230.7 432.1,1229.6 432.1,1229.0 432.2,1228.2 432.3,1226.8 432.4,1225.2 432.4,1224.8 432.5,1223.3 432.6,1222.9 432.6,1222.3 432.7,1221.1 432.8,1219.9 432.8,1218.6 432.9,1218.6 432.9,1217.5 433.0,1216.1 433.1,1214.7 433.1,1214.4 433.2,1213.1 433.3,1212.2 433.3,1211.2 433.4,1210.1 433.4,1208.9 433.5,1208.5 433.6,1207.4 433.6,1206.2 433.7,1205.6 433.7,1204.3 433.8,1202.8 433.9,1201.9 433.9,1201.2 434.0,1200.2 434.1,1199.2 434.1,1198.4 434.2,1197.0 434.2,1196.5 434.3,1195.3 434.3,1193.9 434.4,1192.7 434.5,1192.3 434.5,1191.5 434.6,1190.6 434.6,1189.4 434.7,1188.3 434.7,1187.0 434.8,1185.5 434.8,1184.5 434.9,1184.0 435.0,1182.3 435.0,1181.4 435.1,1180.4 435.1,1178.7 435.2,1177.7 435.2,1176.7 435.3,1176.4 435.3,1175.3 435.4,1173.4 435.5,1172.4 435.5,1172.3 435.6,1170.3 435.6,1170.0 435.7,1168.7 435.7,1168.0 435.8,1166.8 435.8,1165.0 435.9,1164.8 435.9,1163.8 436.0,1162.0 436.0,1162.1 436.1,1160.4 436.1,1159.6 436.2,1158.8 436.3,1157.9 436.3,1157.1 436.4,1155.6 436.4,1155.7 436.5,1154.5 436.5,1153.2 436.6,1152.3 436.7,1150.6 436.8,1149.6 436.8,1148.7 436.9,1147.6 437.0,1145.7 437.1,1144.8 437.2,1144.6 437.3,1143.2 437.3,1141.7 437.4,1141.2 437.5,1139.9 437.6,1138.7 437.6,1138.5 437.7,1137.0 437.8,1136.1 437.9,1135.9 438.0,1135.3 438.0,1133.4 438.1,1133.3 438.2,1131.6 438.3,1130.5 438.3,1129.5 438.4,1128.5 438.5,1128.3 438.6,1127.5 438.6,1125.5 438.7,1124.7 438.8,1123.7 438.9,1123.2 438.9,1122.2 439.0,1121.1 439.1,1120.9 439.1,1119.1 439.2,1118.8 439.3,1117.3 439.4,1117.0 439.4,1115.4 439.5,1114.5 439.6,1114.5 439.7,1112.7 439.7,1111.9 439.8,1111.2 439.9,1110.6 439.9,1109.0 440.0,1107.4 440.1,1107.0 440.2,1106.0 440.2,1104.8 440.3,1103.4 440.4,1102.8 440.4,1100.7 440.5,1100.1 440.5,1099.2 440.6,1098.7 440.6,1097.7 440.7,1096.1 440.7,1095.3 440.8,1094.6 440.8,1093.3 440.9,1091.9 440.9,1092.0 441.0,1090.3 441.0,1088.9 441.0,1087.8 441.1,1086.6 441.1,1086.6 441.2,1084.6 441.2,1084.0 441.3,1083.3 441.3,1082.0 441.3,1080.7 441.4,1079.2 441.4,1078.6 441.5,1077.7 441.5,1075.9 441.6,1074.8 441.6,1074.0 441.6,1073.1 441.7,1072.4 441.7,1071.0 441.8,1069.6 441.8,1069.1 441.9,1067.5 441.9,1066.4 442.0,1065.4 442.0,1065.1 442.1,1064.2 442.1,1063.2 442.2,1062.5 442.2,1061.2 442.3,1060.4 442.3,1060.1 442.4,1058.4 442.5,1057.2 442.6,1056.4 442.7,1054.6 442.8,1053.8 442.9,1051.8 443.0,1051.3 443.1,1049.8 443.2,1049.0 443.4,1048.1 443.5,1047.4 443.6,1046.3 443.7,1046.4 443.8,1044.8 443.9,1043.9 444.0,1042.8 444.1,1042.4 444.3,1042.0 444.4,1040.9 444.5,1040.5 444.7,1039.0 444.8,1037.9 445.0,1036.6 445.1,1036.0 445.3,1034.5 445.5,1033.1 445.6,1032.2 445.8,1031.9 446.0,1030.1 446.2,1029.3 446.3,1028.9 446.5,1028.0 446.7,1026.8 446.8,1026.1 447.0,1024.9 447.2,1024.0 447.4,1022.3 447.6,1021.6 447.8,1021.2 448.0,1019.6 448.1,1018.3 448.3,1017.6 448.5,1017.0 448.7,1015.4 448.9,1014.4 449.1,1014.0 449.3,1013.2 449.5,1011.7 449.9,1010.7 450.4,1008.8 450.8,1007.6 451.3,1007.2 451.7,1006.1 452.2,1006.5 452.7,1006.2 453.2,1007.1 453.6,1007.1 454.1,1008.6 454.6,1009.6 455.0,1012.4 455.1,1013.2 455.3,1013.4 455.4,1014.1 455.5,1015.5 455.6,1015.7 455.7,1016.4 455.8,1017.1 455.9,1019.0 456.0,1019.9 456.1,1020.6 456.2,1021.8 456.3,1023.1 456.4,1024.0 456.5,1024.5 456.6,1026.3 456.7,1027.9 456.9,1028.7 457.0,1029.9 457.1,1031.0 457.2,1031.3 457.3,1032.2 457.4,1033.6 457.5,1034.9 457.6,1034.8 457.7,1036.4 457.8,1037.2 457.9,1037.6 458.0,1038.7 458.1,1039.9 458.2,1041.4 458.3,1041.8 458.4,1043.1 458.5,1044.4 458.6,1045.7 458.8,1047.0 458.9,1047.9 459.0,1048.2 459.1,1049.7 459.2,1050.8 459.3,1051.8 459.5,1052.9 459.6,1053.7 459.7,1054.6 459.8,1056.1 459.9,1057.4 460.1,1058.2 460.2,1059.2 460.3,1060.5 460.4,1060.7 460.6,1062.1 460.7,1063.4 460.8,1064.3 460.9,1064.5 461.1,1066.1 461.2,1067.5 461.4,1067.8 461.5,1069.0 461.6,1070.7 461.8,1071.1 461.9,1072.2 462.1,1073.3 462.2,1074.6 462.3,1075.1 462.5,1076.6 462.6,1077.4 462.8,1078.0 462.9,1079.3 463.0,1079.9 463.2,1080.6 463.3,1082.2 463.4,1082.6 463.6,1083.9 463.7,1085.6 463.8,1086.7 464.0,1086.8 464.1,1087.8 464.2,1089.0 464.3,1090.1 464.4,1090.8 464.5,1092.6 464.6,1092.8 464.7,1094.3 464.8,1095.0 464.9,1096.4 465.0,1096.8 465.1,1098.3 465.2,1099.7 465.3,1099.7 465.4,1100.9 465.5,1101.8 465.6,1103.7 465.7,1104.5 465.8,1105.0 465.9,1106.8 466.0,1106.9 466.1,1108.3 466.2,1109.6 466.3,1110.5 466.4,1110.8 466.5,1111.8 466.6,1113.0 466.7,1114.9 466.8,1115.9 466.9,1116.1 467.0,1116.9 467.1,1118.6 467.2,1119.0 467.3,1120.9 467.5,1121.9 467.6,1122.8 467.7,1123.8 467.9,1124.8 468.0,1125.9 468.2,1126.4 468.3,1127.8 468.4,1128.0 468.6,1129.8 468.7,1130.5 468.9,1132.2 469.0,1132.9 469.2,1133.6 469.3,1134.9 469.5,1135.7 469.6,1136.8 469.8,1137.1 469.9,1138.3 470.0,1139.4 470.2,1140.9 470.3,1142.2 470.4,1142.8 470.6,1144.0 470.7,1144.8 470.8,1145.2 470.9,1146.3 471.0,1147.7 471.1,1149.0 471.2,1149.6 471.3,1151.0 471.4,1151.7 471.5,1152.7 471.6,1153.7 471.7,1155.0 471.7,1156.3 471.8,1156.9 471.9,1158.9 472.0,1158.9 472.0,1160.9 472.1,1161.5 472.2,1163.2 472.2,1163.5 472.3,1164.2 472.4,1166.1 472.4,1166.7 472.5,1168.2 472.6,1169.0 472.6,1169.7 472.7,1170.9 472.7,1171.8 472.8,1172.3 472.9,1173.0 472.9,1174.4 473.0,1175.1 473.1,1175.8 473.2,1177.2 473.3,1178.6 473.4,1179.2 473.5,1180.7 473.6,1181.4 473.7,1182.2 473.8,1183.5 473.9,1184.4 474.0,1184.4 474.1,1185.9 474.2,1187.3 474.3,1187.9 474.4,1189.4 474.5,1189.7 474.6,1190.5 474.7,1191.5 474.8,1192.4 474.8,1193.2 474.9,1194.3 475.0,1195.6 475.1,1196.9 475.2,1197.9 475.3,1198.0 475.4,1200.0 475.4,1200.9 475.5,1201.5 475.6,1202.2 475.7,1204.3 475.9,1204.5 476.0,1205.7 476.1,1206.9 476.2,1208.5 476.3,1209.7 476.4,1210.7 476.6,1211.7 476.7,1212.7 476.8,1213.3 477.0,1213.8 477.1,1215.0 477.3,1215.9 477.5,1216.9 477.6,1217.9 477.8,1219.2 478.0,1219.9 478.2,1221.2 478.4,1222.9 478.5,1223.1 478.7,1224.5 478.9,1225.9 479.1,1225.9 479.3,1227.8 479.5,1228.6 479.7,1229.0 479.9,1231.0 480.1,1231.9 480.2,1232.1 480.4,1234.1 480.6,1234.7 480.8,1235.8 481.0,1236.3 481.1,1237.1 481.3,1238.9 481.5,1239.9 481.6,1240.3 481.8,1241.1 482.0,1242.8 482.1,1243.5 482.3,1244.6 482.5,1246.2 482.7,1246.8 482.8,1247.3 483.0,1249.0 483.2,1250.1 483.4,1250.9 483.5,1252.4 483.7,1252.8 483.9,1254.0 484.1,1254.3 484.3,1255.6 484.5,1256.7 484.7,1257.8 484.9,1259.0 485.1,1259.6 485.4,1261.3 485.6,1261.6 485.9,1263.0 486.1,1264.5 486.4,1264.9 486.6,1266.3 486.9,1268.0 487.1,1269.0 487.4,1269.6 487.6,1270.4 487.8,1272.2 488.1,1273.3 488.3,1273.4 488.5,1274.7 488.8,1275.8 489.0,1276.9 489.2,1277.1 489.3,1278.7 489.5,1279.2 489.8,1280.9 490.1,1282.3 490.3,1283.1 490.5,1284.1 490.7,1284.6 490.8,1285.5 491.0,1286.4 491.1,1287.8 491.3,1288.3 491.4,1288.8 491.6,1290.5 491.8,1291.1 492.0,1292.6 492.1,1293.3 492.3,1294.4 492.4,1294.9 492.6,1296.7 492.8,1297.0 493.0,1298.3 493.2,1298.9 493.4,1300.0 493.6,1300.6 493.8,1301.8 494.0,1302.7 494.2,1304.0 494.5,1304.2 494.8,1305.2 495.2,1306.9 495.7,1308.0 496.4,1310.0 496.7,1309.6 497.1,1310.8 497.5,1312.1 497.9,1312.8 498.4,1313.2 498.8,1314.2 499.3,1315.0 499.8,1315.4 500.4,1316.5 500.9,1317.6 501.4,1319.3 502.0,1319.5 502.5,1320.5 503.1,1321.8 503.6,1323.0 504.2,1323.9 504.7,1324.4 505.3,1325.4 505.8,1325.9 506.3,1327.7 506.7,1328.0 507.2,1328.8 507.8,1329.7 508.3,1331.0 508.8,1331.6 509.3,1332.8 509.7,1333.5 510.2,1334.6 510.6,1335.9 511.1,1336.6 511.5,1337.3 512.0,1339.1 512.5,1339.0 513.0,1340.3 513.5,1341.0 514.1,1341.6 514.7,1342.7 515.3,1343.7 516.0,1344.8 516.7,1345.0 517.3,1345.9 518.1,1347.2 518.8,1347.5 519.6,1348.0 520.4,1348.4 521.2,1349.7 522.0,1350.5 522.9,1350.3 523.8,1351.7 524.6,1351.7 525.5,1352.4 526.4,1352.5 527.2,1353.3 528.1,1353.8 529.0,1354.4 529.8,1355.6 530.7,1356.3 531.5,1356.1 532.4,1357.2 533.3,1357.2 534.2,1358.0 535.0,1358.1 535.9,1359.4 536.7,1359.5 537.6,1360.0 538.4,1360.7 539.3,1360.8 540.2,1361.2 541.1,1361.9 542.0,1362.1 542.9,1362.6 543.9,1362.7 544.9,1362.9 546.0,1363.4 547.1,1364.7 548.0,1364.5 548.8,1364.1 549.7,1364.6 550.7,1365.3 551.6,1365.5 552.6,1366.3 553.6,1366.5 554.6,1365.7 555.7,1366.9 556.7,1367.3 557.8,1367.3 558.8,1367.8 559.9,1367.3 560.9,1367.8 562.0,1368.1 563.0,1368.5 564.0,1368.6 565.1,1368.9 566.1,1368.5 567.1,1369.3 568.1,1369.2 569.1,1369.9 570.0,1369.3 571.1,1369.8 572.1,1370.3 573.1,1370.4 574.2,1370.5 575.2,1370.0 576.2,1370.2 577.2,1370.5 578.2,1371.1 579.1,1370.5 580.1,1371.4 581.1,1370.9 582.1,1371.1 583.0,1371.3 584.0,1371.8 585.0,1372.1 586.0,1372.5 587.0,1371.8 588.0,1371.7 589.0,1372.8 590.0,1372.6 591.0,1373.1 592.0,1373.0 593.1,1372.4 594.2,1372.9 595.4,1372.8 596.5,1373.2 597.7,1373.1 598.9,1374.0 600.0,1374.1 601.2,1373.4 602.3,1374.5 603.4,1374.6 604.5,1374.0 605.5,1374.7 606.5,1374.9 607.4,1374.7 608.3,1374.4 609.1,1374.8 609.8,1375.0 610.5,1374.5 611.0,1374.8" fill="none" stroke="#008000" stroke-width="3.4" stroke-linejoin="round" />
<polyline points="92.0,1372.1 92.6,1372.2 93.2,1372.9 94.0,1372.3 94.9,1372.7 95.8,1372.4 96.9,1372.6 97.9,1372.1 99.1,1371.8 100.2,1372.4 101.4,1371.9 102.6,1371.8 103.8,1372.0 105.0,1372.0 105.9,1372.4 106.9,1372.1 107.8,1371.7 108.8,1371.6 109.8,1371.8 110.9,1371.1 111.9,1371.2 113.0,1371.5 114.1,1371.8 115.1,1371.3 116.2,1370.8 117.3,1371.6 118.4,1371.3 119.4,1370.6 120.5,1370.8 121.6,1370.3 122.6,1371.2 123.6,1370.6 124.6,1371.4 125.6,1371.3 126.5,1371.4 127.5,1371.2 128.4,1370.9 129.4,1370.8 130.3,1371.6 131.3,1371.0 132.3,1371.7 133.3,1372.1 134.3,1371.5 135.4,1372.0 136.5,1372.2 137.6,1371.9 138.8,1372.0 140.0,1372.6 140.9,1372.2 141.7,1372.2 142.6,1372.4 143.5,1373.3 144.4,1373.4 145.3,1372.5 146.2,1373.2 147.2,1373.1 148.1,1372.7 149.1,1373.1 150.0,1373.6 151.0,1373.0 152.0,1374.2 153.0,1373.5 154.1,1373.7 155.1,1374.5 156.2,1373.6 157.2,1373.7 158.3,1374.1 159.4,1374.0 160.5,1374.1 161.7,1374.5 162.8,1375.0 164.0,1374.4 165.2,1374.1 166.1,1374.5 167.0,1375.1 167.8,1374.6 168.7,1374.2 169.6,1374.5 170.4,1374.5 171.3,1374.7 172.2,1374.7 173.1,1375.1 174.0,1375.2 174.9,1374.4 175.8,1374.6 176.7,1375.4 177.6,1375.5 178.5,1375.4 179.5,1374.7 180.4,1375.3 181.4,1374.6 182.4,1375.3 183.4,1374.8 184.4,1375.6 185.5,1375.6 186.5,1375.1 187.6,1375.5 188.7,1375.7 189.9,1375.7 191.0,1375.4 192.2,1375.4 193.4,1375.1 194.7,1375.5 196.0,1374.8 197.3,1375.2 198.6,1374.8 200.0,1374.8 200.8,1375.5 201.6,1375.2 202.5,1375.0 203.3,1375.9 204.2,1375.1 205.1,1375.4 206.0,1375.3 206.9,1374.9 207.8,1375.9 208.8,1375.6 209.8,1375.8 210.7,1375.1 211.7,1375.8 212.7,1375.8 213.8,1375.8 214.8,1374.9 215.8,1374.9 216.9,1374.8 217.9,1374.8 219.0,1375.5 220.0,1374.7 221.1,1375.2 222.2,1375.1 223.3,1375.5 224.3,1374.7 225.4,1375.5 226.5,1375.8 227.6,1375.0 228.7,1375.1 229.8,1375.5 230.9,1375.0 232.0,1375.6 233.1,1375.8 234.2,1374.9 235.3,1375.1 236.4,1374.8 237.5,1375.2 238.6,1375.0 239.7,1375.7 240.7,1375.4 241.8,1375.7 242.9,1375.5 243.9,1375.5 244.9,1375.0 246.0,1375.3 247.0,1374.7 248.0,1375.0 249.0,1375.6 250.0,1375.7 251.0,1374.8 252.0,1375.1 252.9,1375.0 253.9,1375.3 254.8,1375.3 255.7,1374.9 256.6,1375.6 257.5,1375.1 258.3,1375.5 259.2,1375.5 260.0,1375.8 261.3,1375.2 262.6,1375.3 263.9,1375.6 265.2,1375.0 266.4,1374.8 267.6,1375.7 268.9,1375.6 270.1,1375.7 271.3,1375.8 272.4,1375.2 273.6,1376.0 274.7,1375.8 275.9,1376.2 277.0,1375.8 278.1,1376.2 279.2,1375.3 280.2,1375.5 281.3,1376.0 282.3,1376.2 283.3,1375.9 284.3,1375.5 285.3,1376.6 286.2,1375.6 287.1,1376.6 288.1,1375.9 289.0,1376.5 289.8,1376.4 290.7,1376.0 291.5,1376.2 292.4,1376.1 293.2,1376.5 294.0,1376.2 294.7,1376.5 295.5,1376.2 296.2,1376.0 296.9,1376.7 297.6,1376.2 299.5,1377.0 301.1,1376.4 302.5,1376.2 303.6,1376.6 304.6,1376.8 305.5,1376.1 306.2,1376.4 306.9,1375.8 307.6,1376.4 308.3,1375.4 309.2,1374.9 310.1,1374.6 311.1,1375.0 312.1,1374.8 313.1,1374.0 314.1,1373.8 315.0,1373.4 316.0,1372.9 317.0,1372.3 318.0,1372.3 318.9,1372.0 319.9,1370.8 321.0,1371.4 322.0,1370.2 322.9,1370.1 323.8,1369.4 324.7,1369.6 325.7,1368.9 326.6,1368.8 327.6,1368.2 328.5,1368.0 329.5,1367.1 330.5,1367.8 331.4,1366.7 332.4,1366.2 333.3,1366.4 334.3,1365.4 335.2,1365.5 336.1,1364.7 337.1,1363.9 338.0,1364.0 338.9,1363.2 339.8,1362.6 340.7,1363.1 341.7,1362.6 342.6,1361.6 343.5,1361.5 344.4,1360.9 345.3,1360.0 346.2,1359.4 347.1,1359.5 348.0,1358.6 349.0,1358.9 349.9,1358.3 350.9,1357.4 351.8,1357.7 352.8,1357.5 353.7,1356.6 354.7,1356.8 355.6,1355.8 356.6,1354.9 357.5,1355.0 358.4,1354.6 359.4,1354.9 360.3,1354.0 361.3,1354.2 362.3,1352.8 363.3,1352.7 364.2,1351.9 365.2,1351.6 366.2,1352.0 367.1,1350.9 368.1,1350.7 369.1,1350.6 370.0,1350.8 371.0,1349.6 372.0,1348.9 372.9,1349.3 373.9,1348.9 374.9,1347.8 375.9,1348.4 376.9,1347.9 377.9,1347.5 378.8,1346.9 379.8,1346.1 380.7,1345.9 381.6,1344.8 382.5,1345.0 383.3,1344.2 384.0,1343.8 385.2,1343.1 386.1,1342.1 386.9,1342.3 387.6,1341.6 388.4,1340.1 389.1,1340.1 390.0,1338.9 390.8,1339.0 391.7,1338.1 392.6,1338.5 393.5,1337.3 394.4,1337.1 395.4,1336.3 396.4,1336.8 397.5,1335.4 398.4,1335.6 399.5,1335.4 400.5,1335.9 401.7,1335.4 402.8,1336.0 403.9,1335.4 405.0,1335.1 406.1,1335.6 407.1,1335.2 408.0,1335.3 409.2,1335.8 410.3,1336.0 411.3,1335.8 412.3,1336.0 413.2,1336.5 414.1,1336.6 415.0,1336.7 416.2,1336.9 417.3,1336.2 418.3,1335.9 419.2,1335.7 420.0,1336.1 420.6,1335.3 421.0,1333.8 421.4,1333.1 421.7,1332.0 422.1,1331.7 422.5,1329.9 422.8,1329.5 423.1,1328.3 423.4,1327.8 423.7,1327.4 424.1,1327.1 424.5,1325.8 424.9,1324.6 425.4,1322.2 425.5,1321.4 425.7,1321.1 425.8,1320.3 425.9,1319.5 426.1,1317.8 426.2,1317.4 426.4,1316.2 426.5,1315.9 426.7,1314.9 426.9,1313.5 427.0,1312.6 427.2,1312.1 427.4,1311.3 427.5,1310.1 427.7,1309.1 427.9,1308.3 428.1,1307.3 428.3,1306.3 428.4,1304.8 428.6,1303.4 428.8,1303.2 429.0,1301.0 429.2,1300.1 429.3,1299.0 429.5,1298.3 429.7,1297.2 429.9,1295.4 430.1,1294.7 430.3,1293.6 430.4,1292.5 430.6,1290.6 430.8,1290.2 431.0,1288.5 431.1,1287.4 431.3,1285.9 431.4,1285.9 431.6,1284.8 431.7,1284.1 431.8,1282.8 431.9,1281.4 432.1,1280.8 432.2,1279.4 432.3,1278.5 432.5,1278.3 432.6,1276.4 432.7,1275.8 432.9,1274.4 433.0,1274.3 433.2,1273.5 433.3,1271.3 433.4,1270.7 433.6,1270.4 433.7,1268.5 433.8,1267.5 434.0,1267.3 434.1,1266.1 434.2,1264.4 434.4,1263.7 434.5,1262.8 434.7,1261.2 434.8,1259.7 434.9,1259.1 435.0,1258.4 435.2,1257.7 435.3,1256.0 435.4,1254.9 435.6,1253.9 435.7,1253.1 435.8,1251.3 435.9,1251.4 436.0,1250.4 436.2,1248.3 436.3,1247.2 436.4,1246.6 436.5,1245.4 436.6,1245.1 436.7,1244.3 436.8,1242.9 436.9,1242.4 437.0,1240.6 437.1,1239.7 437.2,1239.0 437.3,1237.9 437.4,1236.5 437.5,1236.3 437.6,1235.0 437.7,1233.4 437.8,1232.2 437.9,1231.2 438.0,1230.2 438.0,1229.5 438.1,1228.6 438.2,1227.7 438.3,1225.6 438.3,1224.7 438.4,1223.9 438.5,1223.5 438.6,1221.9 438.6,1221.2 438.7,1220.3 438.7,1218.8 438.8,1217.7 438.9,1217.2 438.9,1216.0 439.0,1215.4 439.0,1213.6 439.1,1213.4 439.1,1211.9 439.2,1211.4 439.3,1210.2 439.3,1209.1 439.4,1208.5 439.4,1206.7 439.5,1206.0 439.5,1205.3 439.6,1204.8 439.7,1203.1 439.7,1203.0 439.8,1201.2 439.8,1200.7 439.9,1200.0 440.0,1199.1 440.1,1197.7 440.2,1196.9 440.2,1195.6 440.3,1194.1 440.4,1193.2 440.5,1192.0 440.6,1191.5 440.7,1189.8 440.7,1188.7 440.8,1187.7 440.9,1186.7 441.0,1186.4 441.1,1185.3 441.1,1183.8 441.2,1183.1 441.3,1182.7 441.4,1181.8 441.5,1180.0 441.6,1179.9 441.6,1178.0 441.7,1178.2 441.8,1176.4 441.9,1176.3 442.0,1174.2 442.1,1174.1 442.2,1173.4 442.3,1172.4 442.4,1171.0 442.5,1169.4 442.7,1168.5 442.8,1168.3 442.9,1167.2 443.1,1165.4 443.2,1164.6 443.3,1163.9 443.5,1162.6 443.6,1161.5 443.8,1161.3 443.9,1159.4 444.1,1159.1 444.2,1157.8 444.3,1156.9 444.5,1156.4 444.6,1155.3 444.8,1154.3 444.9,1152.4 445.1,1152.3 445.2,1151.2 445.4,1149.2 445.5,1148.4 445.7,1147.9 445.8,1147.1 446.0,1145.7 446.1,1145.2 446.2,1143.2 446.4,1142.4 446.5,1142.0 446.6,1141.0 446.8,1139.2 446.9,1138.6 447.1,1137.3 447.2,1136.6 447.4,1135.1 447.5,1133.9 447.6,1133.4 447.8,1132.2 447.9,1130.7 448.1,1130.1 448.2,1128.5 448.3,1127.7 448.5,1126.3 448.6,1125.5 448.8,1124.6 448.9,1123.2 449.0,1122.5 449.1,1121.6 449.3,1120.7 449.4,1120.1 449.5,1119.7 449.6,1118.8 449.8,1116.7 450.0,1115.2 450.1,1113.8 450.3,1113.5 450.5,1112.1 450.6,1110.9 450.7,1110.0 450.9,1108.4 451.0,1107.1 451.2,1106.0 451.3,1105.5 451.4,1105.1 451.6,1103.4 451.7,1103.1 451.9,1102.0 452.0,1101.6 452.8,1100.0 453.7,1099.8 454.5,1100.0 455.8,1098.6 456.9,1098.7 457.3,1099.0 457.7,1099.9 458.1,1100.9 458.5,1102.4 458.7,1103.3 458.9,1104.7 459.1,1105.5 459.3,1107.1 459.5,1107.6 459.8,1108.3 460.0,1109.5 460.3,1111.4 460.5,1112.9 460.8,1113.9 461.0,1114.2 461.2,1115.2 461.4,1116.2 461.6,1117.1 461.9,1117.9 462.1,1118.7 462.3,1119.5 462.6,1121.5 462.8,1122.7 463.1,1123.8 463.4,1124.2 463.6,1125.8 463.9,1126.5 464.2,1127.7 464.4,1128.4 464.6,1129.7 464.7,1131.1 464.9,1131.7 465.1,1132.3 465.3,1133.6 465.5,1134.6 465.7,1135.2 465.9,1136.5 466.1,1138.2 466.3,1138.6 466.6,1140.3 466.8,1141.1 467.0,1141.4 467.2,1143.5 467.4,1144.3 467.6,1145.1 467.8,1145.8 468.1,1147.5 468.3,1148.0 468.5,1149.3 468.7,1150.0 468.9,1151.4 469.1,1153.1 469.3,1153.6 469.5,1154.6 469.7,1155.8 469.9,1156.9 470.2,1157.9 470.4,1158.6 470.6,1159.6 470.8,1161.1 471.1,1162.6 471.3,1163.6 471.5,1164.3 471.7,1165.1 471.9,1166.5 472.1,1166.9 472.4,1168.5 472.6,1169.9 472.8,1171.1 473.0,1171.0 473.2,1172.1 473.3,1173.4 473.5,1174.4 473.7,1175.7 473.8,1175.5 474.0,1176.4 474.3,1178.1 474.5,1179.7 474.7,1179.9 474.8,1181.2 475.0,1182.5 475.1,1183.0 475.2,1183.6 475.4,1184.3 475.5,1185.9 475.6,1186.6 475.8,1187.6 476.0,1188.9 476.2,1190.3 476.3,1190.7 476.5,1191.5 476.6,1193.1 476.8,1193.0 477.0,1194.8 477.1,1195.4 477.3,1196.5 477.5,1197.1 477.7,1199.0 477.9,1199.3 478.0,1200.4 478.2,1201.1 478.4,1203.2 478.6,1204.2 478.8,1204.4 479.0,1205.5 479.2,1206.8 479.4,1207.6 479.6,1209.2 479.7,1210.7 479.9,1211.5 480.1,1212.3 480.3,1213.9 480.5,1214.1 480.6,1215.1 480.8,1216.1 481.0,1217.5 481.1,1218.3 481.3,1218.9 481.5,1220.4 481.6,1222.0 481.8,1222.9 482.0,1223.6 482.2,1224.9 482.3,1225.5 482.5,1226.5 482.7,1227.7 482.9,1228.2 483.0,1229.6 483.2,1230.5 483.4,1231.3 483.6,1232.6 483.8,1233.2 484.0,1234.8 484.2,1235.2 484.4,1236.6 484.6,1237.1 484.8,1238.7 485.0,1239.2 485.2,1241.1 485.5,1241.1 485.7,1243.1 485.9,1243.5 486.1,1245.3 486.3,1245.6 486.6,1246.3 486.8,1248.0 487.0,1248.5 487.2,1250.2 487.5,1250.8 487.7,1251.6 488.0,1253.0 488.2,1253.5 488.5,1254.6 488.7,1255.4 489.0,1256.6 489.3,1257.5 489.5,1258.5 489.8,1259.8 490.1,1260.8 490.4,1262.1 490.7,1263.0 491.0,1264.2 491.4,1265.2 491.7,1266.1 492.0,1267.6 492.3,1267.8 492.7,1269.0 493.0,1269.7 493.3,1271.7 493.6,1272.7 493.9,1273.1 494.2,1274.5 494.5,1275.1 494.8,1276.4 495.0,1277.2 495.3,1277.4 495.5,1278.1 495.7,1279.0 496.1,1281.1 496.4,1281.7 496.7,1282.7 497.0,1283.4 497.2,1284.7 497.4,1286.3 497.6,1286.5 497.7,1287.8 497.9,1288.7 498.2,1289.6 498.4,1290.3 498.7,1291.0 499.0,1291.8 499.3,1293.6 499.5,1294.5 499.8,1295.4 500.1,1295.5 500.5,1297.2 500.8,1298.3 501.1,1298.6 501.5,1299.8 501.9,1300.9 502.2,1301.5 502.5,1302.1 502.8,1302.9 503.1,1304.1 503.5,1304.4 503.9,1306.3 504.5,1306.9 505.2,1307.9 506.0,1309.2 506.4,1309.9 506.9,1311.0 507.3,1311.8 507.8,1312.3 508.4,1313.4 508.9,1314.1 509.5,1315.2 510.1,1316.0 510.7,1316.9 511.4,1316.9 512.0,1318.2 512.7,1318.9 513.3,1320.7 514.0,1320.8 514.6,1322.6 515.3,1322.8 516.0,1323.5 516.6,1325.1 517.3,1325.3 517.9,1326.4 518.6,1327.3 519.2,1328.4 519.8,1329.0 520.5,1330.1 521.1,1331.1 521.8,1332.1 522.4,1332.6 523.0,1333.2 523.6,1334.1 524.2,1334.7 524.8,1336.1 525.4,1336.6 526.0,1337.5 526.7,1338.4 527.3,1339.1 528.0,1340.0 528.7,1340.3 529.4,1341.3 530.1,1342.3 530.9,1342.5 531.7,1343.6 532.6,1343.6 533.5,1344.2 534.2,1345.5 535.0,1345.7 535.8,1346.7 536.6,1346.8 537.5,1346.9 538.3,1347.2 539.2,1348.7 540.2,1348.4 541.1,1348.8 542.0,1349.7 543.0,1350.4 544.0,1350.7 544.9,1350.5 545.9,1351.8 546.9,1352.1 547.8,1352.2 548.8,1353.3 549.8,1353.2 550.7,1354.0 551.7,1353.6 552.6,1354.2 553.5,1355.1 554.4,1355.4 555.2,1355.8 556.1,1356.2 556.9,1355.7 558.0,1357.2 559.0,1356.6 560.1,1357.3 561.1,1357.8 562.1,1358.4 563.0,1358.2 564.0,1359.0 565.0,1359.0 565.9,1359.5 566.8,1359.8 567.7,1359.8 568.6,1360.9 569.5,1360.3 570.5,1360.8 571.4,1361.9 572.3,1361.6 573.2,1362.5 574.1,1362.0 575.0,1362.5 576.0,1362.8 577.0,1363.0 578.0,1364.0 579.0,1363.6 580.0,1364.4 581.0,1364.3 582.0,1364.4 583.0,1365.2 583.9,1365.6 584.9,1364.8 585.9,1365.7 586.9,1366.2 587.9,1366.1 588.9,1366.2 589.9,1366.8 590.9,1366.4 592.0,1367.0 593.0,1366.8 594.0,1367.8 595.1,1367.9 596.2,1367.6 597.3,1368.3 598.5,1368.2 599.7,1368.5 600.8,1368.2 602.0,1369.0 603.1,1369.0 604.2,1369.6 605.3,1368.8 606.3,1369.1 607.3,1369.7 608.2,1369.2 609.0,1369.9 609.8,1370.1 610.4,1369.4 611.0,1370.2" fill="none" stroke="#ff0000" stroke-width="3.4" stroke-linejoin="round" />
<line x1="91.6" y1="972.0" x2="603" y2="972.0" stroke="#000" stroke-width="1.8"/>
<line x1="91.6" y1="1384.6" x2="603" y2="1384.6" stroke="#000" stroke-width="1.8"/>
<line x1="603" y1="972.0" x2="611.0" y2="972.0" stroke="#7d7d7d" stroke-width="1.6"/>
<line x1="603" y1="1384.6" x2="611.0" y2="1384.6" stroke="#7d7d7d" stroke-width="1.6"/>
<line x1="611.0" y1="971.2" x2="611.0" y2="1385.3999999999999" stroke="#7d7d7d" stroke-width="1.6"/>
<line x1="91.6" y1="971.1" x2="91.6" y2="1385.5" stroke="#000" stroke-width="1.8"/>
<line x1="91.6" y1="1350.22" x2="96.1" y2="1350.22" stroke="#000" stroke-width="1.4"/>
<line x1="91.6" y1="1315.83" x2="99.6" y2="1315.83" stroke="#000" stroke-width="1.4"/>
<line x1="91.6" y1="1281.45" x2="96.1" y2="1281.45" stroke="#000" stroke-width="1.4"/>
<line x1="91.6" y1="1247.07" x2="99.6" y2="1247.07" stroke="#000" stroke-width="1.4"/>
<line x1="91.6" y1="1212.68" x2="96.1" y2="1212.68" stroke="#000" stroke-width="1.4"/>
<line x1="91.6" y1="1178.30" x2="99.6" y2="1178.30" stroke="#000" stroke-width="1.4"/>
<line x1="91.6" y1="1143.92" x2="96.1" y2="1143.92" stroke="#000" stroke-width="1.4"/>
<line x1="91.6" y1="1109.53" x2="99.6" y2="1109.53" stroke="#000" stroke-width="1.4"/>
<line x1="91.6" y1="1075.15" x2="96.1" y2="1075.15" stroke="#000" stroke-width="1.4"/>
<line x1="91.6" y1="1040.77" x2="99.6" y2="1040.77" stroke="#000" stroke-width="1.4"/>
<line x1="91.6" y1="1006.38" x2="96.1" y2="1006.38" stroke="#000" stroke-width="1.4"/>
<text x="82" y="1393.4" font-family="'Liberation Sans', sans-serif" font-size="32" text-anchor="end">0</text>
<text x="82" y="1324.6" font-family="'Liberation Sans', sans-serif" font-size="32" text-anchor="end">1</text>
<text x="82" y="1255.9" font-family="'Liberation Sans', sans-serif" font-size="32" text-anchor="end">2</text>
<text x="82" y="1187.1" font-family="'Liberation Sans', sans-serif" font-size="32" text-anchor="end">3</text>
<text x="82" y="1118.3" font-family="'Liberation Sans', sans-serif" font-size="32" text-anchor="end">4</text>
<text x="82" y="1049.6" font-family="'Liberation Sans', sans-serif" font-size="32" text-anchor="end">5</text>
<text x="82" y="980.8" font-family="'Liberation Sans', sans-serif" font-size="32" text-anchor="end">6</text>
<line x1="606.0" y1="1355.13" x2="611.0" y2="1355.13" stroke="#7d7d7d" stroke-width="1.4"/>
<line x1="602.0" y1="1325.66" x2="611.0" y2="1325.66" stroke="#7d7d7d" stroke-width="1.4"/>
<line x1="606.0" y1="1296.19" x2="611.0" y2="1296.19" stroke="#7d7d7d" stroke-width="1.4"/>
<line x1="602.0" y1="1266.71" x2="611.0" y2="1266.71" stroke="#7d7d7d" stroke-width="1.4"/>
<line x1="606.0" y1="1237.24" x2="611.0" y2="1237.24" stroke="#7d7d7d" stroke-width="1.4"/>
<line x1="602.0" y1="1207.77" x2="611.0" y2="1207.77" stroke="#7d7d7d" stroke-width="1.4"/>
<line x1="606.0" y1="1178.30" x2="611.0" y2="1178.30" stroke="#7d7d7d" stroke-width="1.4"/>
<line x1="602.0" y1="1148.83" x2="611.0" y2="1148.83" stroke="#7d7d7d" stroke-width="1.4"/>
<line x1="606.0" y1="1119.36" x2="611.0" y2="1119.36" stroke="#7d7d7d" stroke-width="1.4"/>
<line x1="602.0" y1="1089.89" x2="611.0" y2="1089.89" stroke="#7d7d7d" stroke-width="1.4"/>
<line x1="606.0" y1="1060.41" x2="611.0" y2="1060.41" stroke="#7d7d7d" stroke-width="1.4"/>
<line x1="602.0" y1="1030.94" x2="611.0" y2="1030.94" stroke="#7d7d7d" stroke-width="1.4"/>
<line x1="606.0" y1="1001.47" x2="611.0" y2="1001.47" stroke="#7d7d7d" stroke-width="1.4"/>
<text x="620.5" y="1393.4" font-family="'Liberation Sans', sans-serif" font-size="32" fill="#7d7d7d">0.0</text>
<text x="620.5" y="1334.5" font-family="'Liberation Sans', sans-serif" font-size="32" fill="#7d7d7d">0.2</text>
<text x="620.5" y="1275.5" font-family="'Liberation Sans', sans-serif" font-size="32" fill="#7d7d7d">0.4</text>
<text x="620.5" y="1216.6" font-family="'Liberation Sans', sans-serif" font-size="32" fill="#7d7d7d">0.6</text>
<text x="620.5" y="1157.6" font-family="'Liberation Sans', sans-serif" font-size="32" fill="#7d7d7d">0.8</text>
<text x="620.5" y="1098.7" font-family="'Liberation Sans', sans-serif" font-size="32" fill="#7d7d7d">1.0</text>
<text x="620.5" y="1039.7" font-family="'Liberation Sans', sans-serif" font-size="32" fill="#7d7d7d">1.2</text>
<text x="620.5" y="980.8" font-family="'Liberation Sans', sans-serif" font-size="32" fill="#7d7d7d">1.4</text>
<text x="18.6" y="1007.3" font-family="'Liberation Sans', sans-serif" font-size="48" letter-spacing="2.5">c)</text>
<text transform="translate(33.7,1284.4) rotate(-90)" font-family="'Liberation Sans', sans-serif" font-size="41" fill="#000">Ir193 (µg/L)</text>
<text transform="translate(707.5,1293.3) rotate(-90)" font-family="'Liberation Sans', sans-serif" font-size="40" fill="#7d7d7d">E (V vs RHE)</text>
<text x="294.6" y="1427.5" font-family="'Liberation Sans', sans-serif" font-size="34">Time (s)</text>
<text x="106.5" y="1011.0" font-family="'Liberation Sans', sans-serif" font-size="34" fill="#000">HCl</text>
<text x="106.5" y="1052.5" font-family="'Liberation Sans', sans-serif" font-size="34" fill="#0000f0">Ethanol</text>
<text x="106.5" y="1094.0" font-family="'Liberation Sans', sans-serif" font-size="34" fill="#008000">Formic acid</text>
<text x="106.5" y="1135.5" font-family="'Liberation Sans', sans-serif" font-size="34" fill="#ff0000">IPA</text>
<text x="271.9" y="1022.6" font-family="'Liberation Serif', serif" font-size="45">I</text>
<text x="383.8" y="1024.6" font-family="'Liberation Serif', serif" font-size="45">II</text>
<text x="525.1" y="1022.4" font-family="'Liberation Serif', serif" font-size="45">III</text>
<line x1="218.6" y1="1267.4" x2="324.9" y2="1267.4" stroke="#000" stroke-width="3.6"/>
<line x1="218.6" y1="1259" x2="218.6" y2="1275.5" stroke="#000" stroke-width="3.6" stroke-linecap="round"/>
<line x1="324.9" y1="1259" x2="324.9" y2="1275.5" stroke="#000" stroke-width="3.6" stroke-linecap="round"/>
<text x="235.6" y="1258" font-family="'Liberation Sans', sans-serif" font-size="31.5" font-weight="bold">100 s</text>
</svg>
</body></html>
